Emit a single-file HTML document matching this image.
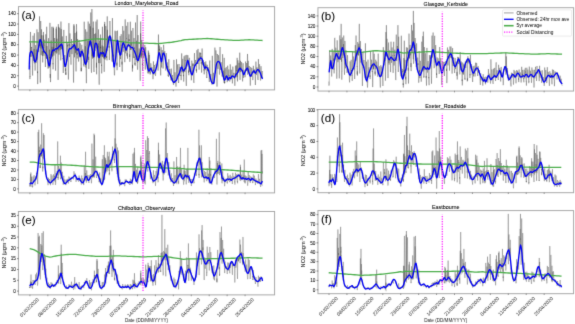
<!DOCTYPE html>
<html><head><meta charset="utf-8"><style>
html,body{margin:0;padding:0;background:#fff;}
body{width:575px;height:324px;overflow:hidden;}
svg{display:block;font-family:"Liberation Sans", sans-serif;}
#w{width:575px;height:324px;}
text{fill:#000;}
.b{stroke:#000;stroke-width:0.06px;}
.t{stroke:#000;stroke-width:0.05px;}
.d{fill:#252525;}
</style></head><body><div id="w">
<svg width="575" height="324" viewBox="0 0 575 324">
<defs><filter id="bl" x="0" y="0" width="575" height="324" filterUnits="userSpaceOnUse" color-interpolation-filters="sRGB"><feConvolveMatrix order="3" kernelMatrix="0.0113 0.0838 0.0113 0.0838 0.6193 0.0838 0.0113 0.0838 0.0113" edgeMode="duplicate"/></filter></defs>
<rect width="575" height="324" fill="#fff"/>
<g filter="url(#bl)">
<polyline points="29.6,67.1 29.7,65.8 29.8,71.7 29.9,79.1 30,76 30.1,76.5 30.2,58.7 30.3,49.6 30.5,42.7 30.6,42.8 30.7,46.4 30.8,56.2 30.9,56.9 31,53.3 31.1,50.8 31.2,50.9 31.3,50.4 31.4,47.5 31.5,48 31.6,47.1 31.7,50.1 31.8,51.6 31.9,54.3 32.1,55.6 32.2,54.9 32.3,62.8 32.4,65.1 32.5,73.4 32.6,75.5 32.7,70.9 32.8,56.2 32.9,44.7 33,35.7 33.1,37.4 33.2,49.6 33.3,57.6 33.4,55.7 33.5,57.3 33.7,60.9 33.8,56.1 33.9,55 34,51.3 34.1,48.9 34.2,53 34.3,53 34.4,58.9 34.5,59.7 34.6,60 34.7,62.1 34.8,64.6 34.9,67.3 35,67.6 35.1,70.6 35.3,67.1 35.4,62.3 35.5,52.3 35.6,45.2 35.7,45.1 35.8,52 35.9,60.2 36,60 36.1,62.9 36.2,59.5 36.3,57.7 36.4,54.1 36.5,51.5 36.6,49.6 36.8,50.4 36.9,51.2 37,55.5 37.1,54.6 37.2,56.6 37.3,64.5 37.4,70.3 37.5,73.1 37.6,71.4 37.7,84.1 37.8,73.2 37.9,55.2 38,39.7 38.1,32.2 38.2,34.3 38.4,45.5 38.5,48.9 38.6,51.8 38.7,46.5 38.8,45.5 38.9,47.7 39,44.4 39.1,42.3 39.2,39.7 39.3,39.6 39.4,40.3 39.5,41.5 39.6,45.9 39.7,43.8 39.8,44.5 40,57.4 40.1,62.1 40.2,68.1 40.3,82.6 40.4,61.2 40.5,42.6 40.6,28.8 40.7,21 40.8,28.2 40.9,37 41,48.5 41.1,43 41.2,54.9 41.3,53.2 41.4,44.2 41.6,41.6 41.7,37.7 41.8,35.2 41.9,38.2 42,41.1 42.1,44 42.2,45.2 42.3,56 42.4,50.8 42.5,54.6 42.6,57.7 42.7,62.4 42.8,59.1 42.9,55.8 43,51.6 43.2,40.3 43.3,35.3 43.4,39 43.5,46 43.6,51.8 43.7,49.8 43.8,55.2 43.9,55.8 44,47.6 44.1,47.8 44.2,46.6 44.3,39.7 44.4,45.2 44.5,45.9 44.6,45.7 44.8,48.8 44.9,51.7 45,53.2 45.1,58.5 45.2,59.5 45.3,64.9 45.4,67 45.5,61 45.6,52.5 45.7,42.1 45.8,34.3 45.9,37.7 46,46.9 46.1,55.8 46.2,55.4 46.4,57.2 46.5,58.8 46.6,56.5 46.7,53.4 46.8,51 46.9,46.1 47,47.2 47.1,52.6 47.2,52.7 47.3,54.8 47.4,56.8 47.5,62 47.6,65.2 47.7,65.7 47.9,66.8 48,68.4 48.1,68.7 48.2,63 48.3,43.8 48.4,40.2 48.5,38.2 48.6,49.4 48.7,60.2 48.8,64.4 48.9,66.6 49,68 49.1,63.1 49.2,63.1 49.3,56.1 49.5,49.6 49.6,55.1 49.7,58.3 49.8,57 49.9,60.3 50,64.4 50.1,63.1 50.2,77.8 50.3,74 50.4,76.5 50.5,82.1 50.6,80.3 50.7,62.9 50.8,53.1 50.9,45.5 51.1,40.5 51.2,50.1 51.3,55.1 51.4,53.9 51.5,58.4 51.6,53.1 51.7,51.7 51.8,52.1 51.9,49.8 52,46.9 52.1,48 52.2,48.4 52.3,50.3 52.4,50.7 52.5,56.4 52.7,53.5 52.8,55.8 52.9,64.2 53,63.3 53.1,69.3 53.2,65.2 53.3,53.9 53.4,44.4 53.5,28.2 53.6,35.7 53.7,49.3 53.8,47.1 53.9,55.6 54,53.7 54.1,50.4 54.3,48.9 54.4,47.8 54.5,43 54.6,38 54.7,38.8 54.8,46.2 54.9,45.8 55,50 55.1,52.5 55.2,50.8 55.3,55.6 55.4,65 55.5,67.4 55.6,70.7 55.7,66.2 55.9,51.1 56,39.3 56.1,28.6 56.2,33.1 56.3,38.4 56.4,46.8 56.5,47.7 56.6,47.9 56.7,53.6 56.8,47.2 56.9,42.5 57,39.4 57.1,38.7 57.2,41.1 57.3,42.7 57.5,47.2 57.6,48.8 57.7,53.8 57.8,59.1 57.9,59.5 58,66.3 58.1,79.9 58.2,71.7 58.3,64.3 58.4,57.5 58.5,31.7 58.6,26.8 58.7,30 58.8,35.2 58.9,43.2 59.1,54.7 59.2,52.1 59.3,49.2 59.4,46 59.5,43.8 59.6,37.7 59.7,27.7 59.8,36.7 59.9,37.1 60,41.2 60.1,49.8 60.2,49.5 60.3,44.5 60.4,50.2 60.6,51.6 60.7,60.3 60.8,60.4 60.9,59.2 61,45.7 61.1,37.4 61.2,29.1 61.3,30.2 61.4,35.1 61.5,41.8 61.6,47.9 61.7,49.4 61.8,43.6 61.9,43.3 62,40.2 62.2,40.6 62.3,36.9 62.4,36.4 62.5,42.3 62.6,47.6 62.7,45.7 62.8,50.1 62.9,59.1 63,58.1 63.1,66.6 63.2,72.3 63.3,73 63.4,66.5 63.5,62.1 63.6,48.3 63.8,29.9 63.9,40 64,56.3 64.1,63.1 64.2,66.8 64.3,67.1 64.4,65.8 64.5,62.9 64.6,59.5 64.7,59.6 64.8,55 64.9,58.7 65,61 65.1,64.8 65.2,66.1 65.4,71.4 65.5,68.3 65.6,68.7 65.7,74.5 65.8,72.4 65.9,75 66,72.1 66.1,63.8 66.2,51.1 66.3,35.9 66.4,38.4 66.5,47.2 66.6,61.9 66.7,59.5 66.8,60.5 67,59.7 67.1,57.9 67.2,54.4 67.3,51.2 67.4,43.2 67.5,46.4 67.6,45.2 67.7,51.9 67.8,55 67.9,56.3 68,60.4 68.1,67.5 68.2,71.4 68.3,73.9 68.4,79.5 68.6,71 68.7,58.5 68.8,34.5 68.9,23.1 69,31.9 69.1,45.8 69.2,44.2 69.3,53.6 69.4,54.1 69.5,57.1 69.6,48 69.7,43.6 69.8,37.9 69.9,33.4 70,34.3 70.2,44.2 70.3,45.5 70.4,51.3 70.5,51.2 70.6,54.7 70.7,56.8 70.8,60.7 70.9,62.2 71,64.7 71.1,60.5 71.2,48.4 71.3,44.4 71.4,40.3 71.5,39.1 71.7,46.7 71.8,46.7 71.9,48.1 72,54.1 72.1,47.2 72.2,46.5 72.3,46.2 72.4,45.2 72.5,43.9 72.6,45.2 72.7,45.4 72.8,45.8 72.9,45.8 73,46.1 73.1,49.7 73.3,58.7 73.4,72 73.5,81.2 73.6,82.6 73.7,72.8 73.8,58 73.9,32.7 74,25.6 74.1,28.7 74.2,38.2 74.3,43.4 74.4,48.3 74.5,57.3 74.6,44.5 74.7,42.6 74.9,42 75,38.3 75.1,32.9 75.2,39.4 75.3,39.3 75.4,45.2 75.5,51.2 75.6,53.2 75.7,47.5 75.8,61 75.9,67.5 76,71.3 76.1,71.4 76.2,65.5 76.3,52.8 76.5,36.4 76.6,31.6 76.7,35.4 76.8,45.7 76.9,47 77,54.8 77.1,52.9 77.2,58.5 77.3,52.9 77.4,48 77.5,43.1 77.6,39.1 77.7,41 77.8,45.6 77.9,46.3 78.1,48.4 78.2,50.7 78.3,48.5 78.4,52.6 78.5,61.4 78.6,61.6 78.7,61.1 78.8,58 78.9,54.1 79,46.9 79.1,41.6 79.2,40.1 79.3,51.1 79.4,52.8 79.5,57.3 79.7,55.8 79.8,53 79.9,55.7 80,50.2 80.1,49 80.2,43.2 80.3,46.6 80.4,52.4 80.5,51.4 80.6,55.1 80.7,59.3 80.8,60.4 80.9,66.7 81,68 81.1,71.3 81.3,67.8 81.4,71.2 81.5,53.1 81.6,46.8 81.7,46 81.8,44.8 81.9,49.1 82,50.7 82.1,56 82.2,56.3 82.3,55.4 82.4,51.4 82.5,51.6 82.6,51 82.7,49.4 82.9,50.7 83,52.6 83.1,53.5 83.2,53.2 83.3,57.7 83.4,57.5 83.5,63.1 83.6,64.8 83.7,64.3 83.8,66.4 83.9,65.1 84,60 84.1,37.2 84.2,21.7 84.4,34.6 84.5,47.9 84.6,63.4 84.7,61 84.8,63.5 84.9,61.5 85,59.8 85.1,59.8 85.2,57.6 85.3,46.2 85.4,54.9 85.5,57 85.6,61 85.7,64.2 85.8,62.8 86,68.9 86.1,71.6 86.2,76.3 86.3,81.7 86.4,83.2 86.5,78.6 86.6,60.7 86.7,46.6 86.8,36.1 86.9,31.7 87,43.8 87.1,58.6 87.2,62.4 87.3,62 87.4,61.2 87.6,54.5 87.7,52.7 87.8,47.1 87.9,41.1 88,40.8 88.1,41.7 88.2,44.2 88.3,48.1 88.4,50.1 88.5,56.5 88.6,60 88.7,56.7 88.8,68.9 88.9,66.7 89,60.9 89.2,45.9 89.3,36.6 89.4,23.7 89.5,28.3 89.6,38 89.7,44.1 89.8,41.6 89.9,42.5 90,41.3 90.1,44.8 90.2,40.7 90.3,32.3 90.4,26.3 90.5,32 90.6,35.6 90.8,42.3 90.9,42.9 91,41.9 91.1,53.9 91.2,65.1 91.3,70.7 91.4,71.7 91.5,72.7 91.6,63.7 91.7,50 91.8,27.9 91.9,9 92,21.7 92.1,37.8 92.2,56.2 92.4,48.8 92.5,58.6 92.6,47.7 92.7,46.4 92.8,46 92.9,40.4 93,27.8 93.1,28.5 93.2,36.5 93.3,50.8 93.4,57.6 93.5,55.8 93.6,57.6 93.7,68.2 93.8,69.5 94,72 94.1,68.9 94.2,66.8 94.3,53.3 94.4,42.5 94.5,33.9 94.6,36.3 94.7,37.8 94.8,44.7 94.9,48.7 95,50.9 95.1,46.1 95.2,42.5 95.3,41.8 95.5,39.6 95.6,33.4 95.7,34.2 95.8,40.9 95.9,43.9 96,44.4 96.1,46.2 96.2,46.9 96.3,58.1 96.4,67.6 96.5,62.7 96.6,74.3 96.7,62.1 96.8,53.9 96.9,36.8 97.1,19.6 97.2,30.1 97.3,34.7 97.4,47.5 97.5,55 97.6,56.6 97.7,53.3 97.8,48.5 97.9,45.9 98,47.6 98.1,43.3 98.2,46.8 98.3,46.7 98.4,53.3 98.5,58.5 98.7,63.1 98.8,58.6 98.9,63.4 99,69 99.1,80.8 99.2,84.7 99.3,70.4 99.4,57.8 99.5,52 99.6,40.6 99.7,44.9 99.8,51.4 99.9,56.3 100,60.4 100.1,63.3 100.3,58.4 100.4,52.6 100.5,46.8 100.6,48.2 100.7,38.9 100.8,45.5 100.9,48.1 101,47.8 101.1,50.1 101.2,55.2 101.3,53.1 101.4,63.9 101.5,65.8 101.6,64.7 101.7,73.4 101.9,67.1 102,54.2 102.1,46.9 102.2,45.4 102.3,47.5 102.4,52.5 102.5,51.1 102.6,56.8 102.7,53.6 102.8,52.5 102.9,53 103,51.9 103.1,47.9 103.2,46.5 103.3,48.7 103.5,49.1 103.6,51.7 103.7,53.4 103.8,58.4 103.9,53 104,68 104.1,70.1 104.2,71.8 104.3,69.5 104.4,66 104.5,60.3 104.6,42.4 104.7,21.9 104.8,28.1 104.9,38.4 105.1,59.5 105.2,54.5 105.3,56.1 105.4,53.3 105.5,47.6 105.6,43.6 105.7,38.3 105.8,26 105.9,30.9 106,33.1 106.1,49.3 106.2,52.5 106.3,48.8 106.4,52.9 106.5,57.9 106.7,55.8 106.8,58.6 106.9,58.7 107,60.4 107.1,53.3 107.2,42.3 107.3,29.8 107.4,31 107.5,41.4 107.6,47.4 107.7,47.1 107.8,46 107.9,44.5 108,42.6 108.2,40.7 108.3,39 108.4,37.9 108.5,36.5 108.6,39.4 108.7,39.3 108.8,40.6 108.9,40 109,47.7 109.1,45.9 109.2,52.7 109.3,59.1 109.4,60 109.5,49.2 109.6,41.3 109.8,32 109.9,21 110,24.3 110.1,29 110.2,41 110.3,39.9 110.4,38.2 110.5,38.5 110.6,37.7 110.7,39.8 110.8,37.9 110.9,36.7 111,38.4 111.1,38.5 111.2,41.5 111.4,42.3 111.5,47.2 111.6,46.3 111.7,49.8 111.8,58.6 111.9,58.7 112,60.5 112.1,61.5 112.2,53.6 112.3,38.3 112.4,18.1 112.5,26.1 112.6,40.1 112.7,52 112.8,59.3 113,62.2 113.1,60.4 113.2,54.6 113.3,56.7 113.4,49.4 113.5,42.6 113.6,41.1 113.7,51.3 113.8,62 113.9,65.7 114,66.4 114.1,69.2 114.2,70.1 114.3,73.5 114.4,75.2 114.6,75.3 114.7,69.7 114.8,66.3 114.9,44.8 115,30.7 115.1,35.7 115.2,44.4 115.3,51.6 115.4,60.9 115.5,61.4 115.6,57.5 115.7,57.6 115.8,55.2 115.9,37 116,32.2 116.2,31.1 116.3,41.8 116.4,39.8 116.5,48.2 116.6,51 116.7,47.8 116.8,65.5 116.9,62.6 117,70.2 117.1,69.9 117.2,68.3 117.3,49.4 117.4,36.2 117.5,30.6 117.6,36.6 117.8,39.9 117.9,41.8 118,43 118.1,52.4 118.2,52.6 118.3,43.8 118.4,43.2 118.5,43.5 118.6,43.1 118.7,42.4 118.8,46.2 118.9,46.5 119,48.9 119.1,49.6 119.3,53.8 119.4,55.2 119.5,58.3 119.6,65.5 119.7,67 119.8,63.6 119.9,55.3 120,43.7 120.1,36.1 120.2,39.5 120.3,45.5 120.4,50.5 120.5,59.1 120.6,55.9 120.7,53.3 120.9,55 121,44.9 121.1,45.4 121.2,34.2 121.3,37.4 121.4,41.2 121.5,46.7 121.6,48.5 121.7,49.1 121.8,53.6 121.9,64.5 122,61.7 122.1,67.1 122.2,71.7 122.3,60.8 122.5,46.6 122.6,34.4 122.7,26.1 122.8,26.7 122.9,41.3 123,47.8 123.1,46.8 123.2,51.8 123.3,46.9 123.4,42.5 123.5,43.1 123.6,34.3 123.7,32.5 123.8,30.7 123.9,35 124.1,40.1 124.2,47.5 124.3,46 124.4,45.3 124.5,48.7 124.6,53.7 124.7,56.2 124.8,62.2 124.9,54.3 125,49.7 125.1,30.3 125.2,19.4 125.3,33.2 125.4,37.9 125.5,43.5 125.7,53.3 125.8,52.3 125.9,49 126,50.9 126.1,39.8 126.2,39.7 126.3,25.8 126.4,36.4 126.5,38.5 126.6,38 126.7,48.7 126.8,50 126.9,52.1 127,55.9 127.1,53.1 127.3,57.1 127.4,56.7 127.5,58.7 127.6,46.7 127.7,38.7 127.8,22.2 127.9,25.5 128,40.2 128.1,41.1 128.2,46.3 128.3,46.6 128.4,44.1 128.5,46.3 128.6,38.7 128.7,37.4 128.9,34.3 129,34.4 129.1,41 129.2,39.2 129.3,44 129.4,47.2 129.5,47 129.6,57 129.7,54.3 129.8,61.8 129.9,60.5 130,54.9 130.1,48.8 130.2,30.5 130.3,21.7 130.5,31.6 130.6,45 130.7,49.6 130.8,47.7 130.9,50 131,48.7 131.1,42.7 131.2,45.7 131.3,40.3 131.4,30.7 131.5,38.8 131.6,43.6 131.7,43.9 131.8,49 132,49.3 132.1,55.2 132.2,57.2 132.3,63.4 132.4,71.6 132.5,64.9 132.6,68.3 132.7,56.2 132.8,42.4 132.9,28 133,29.8 133.1,40.3 133.2,50 133.3,54 133.4,58.1 133.6,50.2 133.7,48.1 133.8,47.2 133.9,41.9 134,38.4 134.1,38 134.2,43.2 134.3,48.9 134.4,47.5 134.5,57.7 134.6,57.2 134.7,56.7 134.8,64.6 134.9,63.9 135,62.8 135.2,65.7 135.3,57.7 135.4,36.2 135.5,22.5 135.6,26.9 135.7,40.2 135.8,56.9 135.9,57.6 136,58.7 136.1,60 136.2,51 136.3,48.8 136.4,44.6 136.5,44.2 136.6,40.8 136.8,47 136.9,53.1 137,54.5 137.1,59.5 137.2,63.8 137.3,65.9 137.4,66.1 137.5,69.1 137.6,69.7 137.7,68.4 137.8,63.9 137.9,46.6 138,35.1 138.1,35.5 138.2,51.4 138.4,60.5 138.5,59.3 138.6,58 138.7,61.3 138.8,55.6 138.9,57.5 139,53.4 139.1,49.4 139.2,48.5 139.3,49.9 139.4,52.3 139.5,55.6 139.6,54 139.7,58.6 139.8,65.4 140,70.8 140.1,71.6 140.2,80.8 140.3,69.9 140.4,55.2 140.5,39.2 140.6,33.4 140.7,34.1 140.8,44.8 140.9,53.4 141,57.1 141.1,52.6 141.2,58.3 141.3,47 141.4,48.2 141.6,45.8 141.7,41.9 141.8,40.1 141.9,44.9 142,47.4 142.1,52 142.2,55.8 142.3,50 142.4,65.2 142.5,63.6 142.6,71 142.7,67.8 142.8,62.9 142.9,47.7 143,46.8 143.2,43.5 143.3,44.5 143.4,46.8 143.5,54 143.6,55.5 143.7,58.1 143.8,58.2 143.9,49.8 144,49.6 144.1,49.3 144.2,48.3 144.3,49.4 144.4,51 144.5,52.2 144.7,55.2 144.8,52.9 144.9,59.6 145,62.4 145.1,65.4 145.2,65.5 145.3,69.6 145.4,67.5 145.5,55.1 145.6,52 145.7,47.2 145.8,50.4 145.9,57.4 146,59.2 146.1,61.1 146.3,60.1 146.4,63 146.5,60.4 146.6,60.5 146.7,60.6 146.8,58.4 146.9,61.2 147,61.5 147.1,64.1 147.2,67.3 147.3,68.5 147.4,67.3 147.5,69.3 147.6,70.1 147.7,73.1 147.9,73.4 148,73.3 148.1,69.6 148.2,63.7 148.3,50.6 148.4,59 148.5,67.5 148.6,68.5 148.7,70.7 148.8,72 148.9,70.5 149,71 149.1,64.4 149.2,61 149.3,54.9 149.5,58.6 149.6,64.5 149.7,66.7 149.8,69.4 149.9,67.8 150,71.4 150.1,72.7 150.2,71.8 150.3,73.8 150.4,74.4 150.5,71.8 150.6,70.1 150.7,65.9 150.8,63.3 150.9,64 151.1,66.8 151.2,68.8 151.3,70.4 151.4,70.9 151.5,71.3 151.6,68.9 151.7,68.6 151.8,67.4 151.9,67.1 152,67.6 152.1,68.4 152.2,69.9 152.3,72 152.4,72.1 152.5,73.6 152.7,74.4 152.8,75.3 152.9,78.5 153,79.2 153.1,78.1 153.2,74.8 153.3,66.1 153.4,61.4 153.5,63 153.6,71 153.7,69.6 153.8,72.7 153.9,74.6 154,71.8 154.1,73.1 154.3,70.9 154.4,67 154.5,65 154.6,66.3 154.7,68.9 154.8,70.7 154.9,70.4 155,72.6 155.1,72.5 155.2,73 155.3,74.3 155.4,75.8 155.5,75.8 155.6,74.9 155.8,72 155.9,66.5 156,64 156.1,63.7 156.2,65.5 156.3,68 156.4,67.7 156.5,67.1 156.6,67.4 156.7,66.3 156.8,64.5 156.9,63 157,61.5 157.1,61.8 157.2,61.7 157.4,61.8 157.5,61.7 157.6,61.9 157.7,63.4 157.8,64.1 157.9,66 158,68.1 158.1,70.6 158.2,66.6 158.3,58.8 158.4,48.5 158.5,43.2 158.6,43.7 158.7,47.9 158.8,55.7 159,53.8 159.1,53.3 159.2,54.6 159.3,52.1 159.4,48.8 159.5,50.6 159.6,45.5 159.7,49.2 159.8,49.5 159.9,50.9 160,54.7 160.1,58.9 160.2,59.7 160.3,64 160.4,66.1 160.6,72.4 160.7,75.4 160.8,68.1 160.9,64.7 161,51.5 161.1,47.2 161.2,47.8 161.3,59.2 161.4,57.9 161.5,64.4 161.6,67.5 161.7,64.2 161.8,59.7 161.9,59 162,54.1 162.2,50.1 162.3,50 162.4,53.3 162.5,54.7 162.6,56.2 162.7,54.4 162.8,55 162.9,61.4 163,65.2 163.1,68.5 163.2,65.5 163.3,62.6 163.4,55.7 163.5,49.7 163.6,44.8 163.8,48.1 163.9,49.3 164,54.9 164.1,54.4 164.2,54 164.3,54.2 164.4,54.4 164.5,54.2 164.6,52.3 164.7,51.7 164.8,51.2 164.9,54.6 165,54.7 165.1,57.9 165.2,59.7 165.4,62.6 165.5,62.7 165.6,66.8 165.7,69.2 165.8,70.5 165.9,68.8 166,64.8 166.1,57.7 166.2,53.1 166.3,57.1 166.4,59.8 166.5,63.7 166.6,68.6 166.7,66.3 166.8,66.3 167,65.9 167.1,67 167.2,63.7 167.3,62.4 167.4,65.8 167.5,67.9 167.6,66.6 167.7,68.9 167.8,71.5 167.9,70.7 168,73.8 168.1,75.7 168.2,74.9 168.3,76.1 168.5,76.9 168.6,71.6 168.7,65.6 168.8,59.3 168.9,62.4 169,66.9 169.1,71.1 169.2,72.6 169.3,74.8 169.4,73.3 169.5,73 169.6,71.9 169.7,71.5 169.8,69 169.9,70.8 170.1,72.9 170.2,74.1 170.3,75.6 170.4,75.7 170.5,76.2 170.6,77.4 170.7,78.2 170.8,78.5 170.9,80.3 171,78.8 171.1,77.9 171.2,73 171.3,68.6 171.4,69.8 171.5,76.4 171.7,78.8 171.8,78.3 171.9,80.2 172,79.5 172.1,78.9 172.2,79.6 172.3,76.9 172.4,75 172.5,75.7 172.6,78.9 172.7,78.5 172.8,80.8 172.9,81.6 173,81.9 173.1,83.3 173.3,83.3 173.4,84.7 173.5,84.9 173.6,84.4 173.7,82.4 173.8,74 173.9,59.9 174,64.8 174.1,74.8 174.2,78.5 174.3,82.8 174.4,82 174.5,82.4 174.6,81.1 174.7,80.3 174.9,77.1 175,72.3 175.1,74.9 175.2,76.5 175.3,79.6 175.4,81 175.5,81.4 175.6,83.1 175.7,82.8 175.8,83.3 175.9,85.2 176,86.6 176.1,85.1 176.2,82.6 176.3,74.2 176.5,59.3 176.6,65.3 176.7,73.2 176.8,76.9 176.9,77.8 177,79.2 177.1,78.6 177.2,76.2 177.3,73.1 177.4,69.9 177.5,64.4 177.6,69.1 177.7,69.7 177.8,72.9 177.9,73.2 178.1,77 178.2,75.4 178.3,79.3 178.4,82.4 178.5,81.9 178.6,82.8 178.7,81.8 178.8,77.3 178.9,69.9 179,64 179.1,66.3 179.2,70.6 179.3,72.2 179.4,72.3 179.6,75.9 179.7,72.6 179.8,72.9 179.9,71 180,68.6 180.1,67.3 180.2,67.1 180.3,68.5 180.4,69.6 180.5,69.3 180.6,69.3 180.7,71.5 180.8,76 180.9,75 181,79.1 181.2,80.2 181.3,78.6 181.4,72.3 181.5,59.7 181.6,56.6 181.7,53.4 181.8,65.7 181.9,64.8 182,70.5 182.1,71.9 182.2,68.1 182.3,68.9 182.4,64 182.5,64 182.6,60.4 182.8,58.8 182.9,63 183,64.8 183.1,68.3 183.2,73.3 183.3,70.3 183.4,76.2 183.5,74.7 183.6,77.5 183.7,81.6 183.8,79.6 183.9,71.1 184,58.6 184.1,56.3 184.2,57.6 184.4,62.5 184.5,71 184.6,68.3 184.7,70.7 184.8,72 184.9,68.6 185,64.7 185.1,61.7 185.2,55.2 185.3,60.9 185.4,60.4 185.5,65.5 185.6,66.1 185.7,67.7 185.8,67.2 186,72.9 186.1,77.6 186.2,82.7 186.3,85.9 186.4,74.5 186.5,66.4 186.6,57.7 186.7,54.9 186.8,55.2 186.9,58 187,61.4 187.1,63.5 187.2,66.5 187.3,64.3 187.4,60.2 187.6,60.2 187.7,57.5 187.8,55.2 187.9,55.2 188,57.4 188.1,60.2 188.2,64.1 188.3,64.9 188.4,62.6 188.5,72.7 188.6,70.5 188.7,73.8 188.8,75.2 188.9,74.9 189,69.3 189.2,60.8 189.3,57.8 189.4,60.1 189.5,63.2 189.6,68.2 189.7,71.8 189.8,69.7 189.9,68.3 190,69.6 190.1,67.4 190.2,66 190.3,66.2 190.4,66.7 190.5,68.3 190.6,70 190.8,72.3 190.9,74.3 191,75 191.1,75 191.2,76.8 191.3,80.3 191.4,80.1 191.5,78 191.6,74.3 191.7,67.3 191.8,60.6 191.9,62.4 192,72.1 192.1,75 192.3,75.5 192.4,73.9 192.5,74.5 192.6,71.7 192.7,70.1 192.8,66 192.9,63.4 193,66 193.1,63.8 193.2,69 193.3,71.8 193.4,70.5 193.5,73.7 193.6,75.9 193.7,81 193.9,82.9 194,77.9 194.1,75.7 194.2,70.3 194.3,59.6 194.4,54.1 194.5,53.1 194.6,62.7 194.7,63 194.8,65.9 194.9,65.8 195,64.9 195.1,65.7 195.2,64.8 195.3,62.4 195.5,60 195.6,61.2 195.7,62.8 195.8,62.4 195.9,62.5 196,64.9 196.1,65.1 196.2,68.3 196.3,70.9 196.4,69 196.5,72.6 196.6,69.6 196.7,64.3 196.8,54.5 196.9,50.2 197.1,54 197.2,59.4 197.3,63.8 197.4,60.9 197.5,61 197.6,63.7 197.7,62.6 197.8,59.6 197.9,55.9 198,48.9 198.1,50.7 198.2,53.8 198.3,59.6 198.4,57.8 198.5,59.6 198.7,63.5 198.8,63.3 198.9,64.2 199,67.1 199.1,69.7 199.2,66.4 199.3,60.1 199.4,57.1 199.5,52.5 199.6,54.1 199.7,58.2 199.8,59 199.9,61.2 200,61.2 200.1,61.1 200.3,57.2 200.4,58 200.5,53.6 200.6,52.6 200.7,54.3 200.8,53.3 200.9,56.9 201,55.9 201.1,57.2 201.2,63.7 201.3,62.2 201.4,65.6 201.5,69.9 201.6,72.6 201.7,70.8 201.9,59.4 202,54.1 202.1,48.5 202.2,53.1 202.3,58.1 202.4,63.1 202.5,60.5 202.6,62.7 202.7,65.2 202.8,60.7 202.9,61.5 203,60.5 203.1,59.9 203.2,60.9 203.4,61.4 203.5,63.5 203.6,65.6 203.7,65.8 203.8,65.1 203.9,70.5 204,69.3 204.1,71.7 204.2,74.3 204.3,72.3 204.4,69.3 204.5,65.1 204.6,62.3 204.7,63.4 204.8,64.6 205,66.4 205.1,67.3 205.2,70.1 205.3,69.1 205.4,65.9 205.5,67 205.6,63.5 205.7,62.3 205.8,61.4 205.9,65.6 206,64.5 206.1,66.9 206.2,68.7 206.3,70.8 206.4,72.7 206.6,72.4 206.7,78 206.8,77.3 206.9,77.6 207,71.5 207.1,66.1 207.2,64.8 207.3,66.2 207.4,68.1 207.5,70.6 207.6,69.3 207.7,70.5 207.8,71.4 207.9,69.9 208,68.8 208.2,68.2 208.3,67.3 208.4,68.3 208.5,69.7 208.6,70.5 208.7,70.5 208.8,72.4 208.9,73.8 209,74.5 209.1,76.2 209.2,79.3 209.3,82 209.4,78.1 209.5,75.9 209.6,63.4 209.8,60.5 209.9,64.9 210,68.3 210.1,77 210.2,78.8 210.3,78.9 210.4,78.2 210.5,79.3 210.6,77 210.7,75.9 210.8,73.9 210.9,76.6 211,77 211.1,78.3 211.2,79.6 211.4,82.3 211.5,82.6 211.6,82.5 211.7,83 211.8,84.2 211.9,84.6 212,84.3 212.1,83 212.2,77 212.3,55.8 212.4,68.5 212.5,80.1 212.6,83.7 212.7,83.7 212.8,83 213,83.8 213.1,83.2 213.2,78.2 213.3,77.6 213.4,73.9 213.5,72.8 213.6,76.3 213.7,78.9 213.8,80.1 213.9,82.4 214,82.8 214.1,82.6 214.2,82.8 214.3,83.5 214.4,83.6 214.6,81.3 214.7,78.3 214.8,63.1 214.9,47.6 215,59.8 215.1,65.7 215.2,69.9 215.3,73.3 215.4,71.1 215.5,68.6 215.6,69.1 215.7,64.7 215.8,55.3 215.9,50.4 216.1,54.2 216.2,53.9 216.3,57.9 216.4,64.3 216.5,65 216.6,64.9 216.7,69.5 216.8,74.2 216.9,77.6 217,86.6 217.1,78.5 217.2,62.4 217.3,55.7 217.4,54 217.5,54.9 217.7,58.4 217.8,63.1 217.9,63.4 218,68.9 218.1,64.4 218.2,61.2 218.3,61.4 218.4,59.5 218.5,55.2 218.6,56.8 218.7,57.9 218.8,59.8 218.9,60.4 219,61.1 219.1,66.3 219.3,67.8 219.4,73.4 219.5,74.5 219.6,73.5 219.7,73.1 219.8,67.7 219.9,55.1 220,47.8 220.1,47 220.2,61 220.3,65.7 220.4,65.2 220.5,69.9 220.6,66.4 220.7,64.4 220.9,64.9 221,64.4 221.1,62.2 221.2,63.5 221.3,66.6 221.4,68.1 221.5,70.3 221.6,71.6 221.7,71.9 221.8,72.7 221.9,73.4 222,75.4 222.1,76.4 222.2,75.6 222.3,74.2 222.5,61.1 222.6,54.2 222.7,57.7 222.8,67.3 222.9,74.7 223,76 223.1,76.9 223.2,77.1 223.3,75.4 223.4,74.6 223.5,71.3 223.6,70.7 223.7,71.4 223.8,72.2 223.9,77.4 224.1,78.2 224.2,80.1 224.3,80 224.4,82.1 224.5,82.9 224.6,82.1 224.7,83.1 224.8,83 224.9,80.1 225,74.5 225.1,68.2 225.2,73 225.3,77.2 225.4,76.4 225.5,78.3 225.7,79.4 225.8,78.7 225.9,77.6 226,74.3 226.1,71.7 226.2,67.1 226.3,68.7 226.4,72.4 226.5,72.9 226.6,74.4 226.7,75.4 226.8,76.1 226.9,79.5 227,79.1 227.2,82.2 227.3,81.3 227.4,81.1 227.5,79 227.6,69.2 227.7,65.7 227.8,69.5 227.9,73.8 228,77.3 228.1,80 228.2,80.5 228.3,79.9 228.4,78.4 228.5,75 228.6,73.9 228.8,69.4 228.9,70.3 229,73.8 229.1,75.9 229.2,75.3 229.3,76.3 229.4,78.3 229.5,79.6 229.6,79.6 229.7,80.3 229.8,81.5 229.9,79.7 230,78.9 230.1,70.1 230.2,64.3 230.4,66.1 230.5,76.6 230.6,78.6 230.7,77.9 230.8,79.6 230.9,79.2 231,77.1 231.1,75.7 231.2,72.1 231.3,69.7 231.4,71.6 231.5,71.8 231.6,74.6 231.7,75.7 231.8,75.9 232,77.7 232.1,77.7 232.2,79.8 232.3,81.5 232.4,83.4 232.5,81.4 232.6,77.8 232.7,71.3 232.8,66.6 232.9,67.1 233,71.4 233.1,76.5 233.2,77.3 233.3,77.1 233.4,75.9 233.6,76.6 233.7,75.2 233.8,73.2 233.9,72.9 234,73.5 234.1,73.4 234.2,74.8 234.3,76.6 234.4,78.7 234.5,76.8 234.6,79.7 234.7,83.1 234.8,85.7 234.9,85.8 235,83 235.2,77.8 235.3,72 235.4,66.2 235.5,65.7 235.6,71.3 235.7,75.6 235.8,73.6 235.9,75.3 236,77.3 236.1,74 236.2,70.8 236.3,70.2 236.4,65.3 236.5,69.6 236.6,70.7 236.8,70 236.9,72.5 237,73.3 237.1,76.3 237.2,77.2 237.3,79.3 237.4,78.8 237.5,81.4 237.6,80.1 237.7,75.8 237.8,68.7 237.9,60.3 238,65.5 238.1,70.4 238.2,72.7 238.4,71.8 238.5,70.7 238.6,71 238.7,68.8 238.8,69.6 238.9,67.7 239,62.8 239.1,65.2 239.2,65.6 239.3,67.7 239.4,69.4 239.5,70.1 239.6,71.2 239.7,73.6 239.9,76 240,79.9 240.1,76.7 240.2,76.4 240.3,68.5 240.4,65.2 240.5,60.8 240.6,63.9 240.7,68.6 240.8,67.6 240.9,68.9 241,72 241.1,69 241.2,68 241.3,68.5 241.5,65.7 241.6,62.1 241.7,65 241.8,65.5 241.9,69.2 242,70.2 242.1,70.2 242.2,72.6 242.3,74 242.4,78.6 242.5,81.1 242.6,81.4 242.7,80.7 242.8,72 242.9,68.9 243.1,63.2 243.2,67.5 243.3,70.6 243.4,74.5 243.5,75.6 243.6,77.9 243.7,77.2 243.8,73.2 243.9,73.1 244,71.8 244.1,69.8 244.2,70.3 244.3,71.6 244.4,72.8 244.5,72 244.7,73.8 244.8,74.3 244.9,74.2 245,77.1 245.1,77.2 245.2,76.4 245.3,75.1 245.4,73.3 245.5,67.4 245.6,61.5 245.7,64.4 245.8,65.9 245.9,70.9 246,69.1 246.1,70.5 246.3,70.9 246.4,68.9 246.5,68.6 246.6,65 246.7,63.8 246.8,63 246.9,65.6 247,67.3 247.1,68.8 247.2,68.5 247.3,69.5 247.4,70.9 247.5,72.7 247.6,72.8 247.7,74.7 247.9,73.2 248,70.5 248.1,65.8 248.2,60.8 248.3,64.6 248.4,69.5 248.5,69.4 248.6,72.5 248.7,72.2 248.8,73.7 248.9,71.4 249,70.9 249.1,68.1 249.2,66 249.3,68.9 249.5,70.7 249.6,73 249.7,75.2 249.8,74.5 249.9,75.9 250,78.3 250.1,80.5 250.2,85.4 250.3,85.6 250.4,84.8 250.5,76.6 250.6,70.2 250.7,67 250.8,68.4 251,71.7 251.1,74.2 251.2,76.9 251.3,74.7 251.4,76.3 251.5,73.7 251.6,73.6 251.7,72.1 251.8,68 251.9,69.2 252,70.5 252.1,72.9 252.2,74.2 252.3,74.8 252.4,75.9 252.6,76.9 252.7,77 252.8,80.1 252.9,78.3 253,77.7 253.1,72.4 253.2,69.4 253.3,65.8 253.4,66.1 253.5,70 253.6,73.1 253.7,70.9 253.8,71.1 253.9,72.4 254,71.9 254.2,69.8 254.3,69.5 254.4,69.3 254.5,69.8 254.6,71.1 254.7,70.9 254.8,72.7 254.9,72.2 255,75.3 255.1,76.7 255.2,78.5 255.3,83.3 255.4,85 255.5,78.6 255.6,75 255.8,65.5 255.9,61.6 256,63.1 256.1,67.3 256.2,71 256.3,72.6 256.4,74.9 256.5,71 256.6,70.6 256.7,69.6 256.8,67.8 256.9,67.7 257,67.2 257.1,69.3 257.2,68.8 257.4,69.2 257.5,71.6 257.6,71.6 257.7,76 257.8,78.8 257.9,79.2 258,80 258.1,79.2 258.2,72.8 258.3,66.8 258.4,59.1 258.5,61.4 258.6,68.6 258.7,71.7 258.8,71.4 259,72.4 259.1,69.7 259.2,70.6 259.3,69.2 259.4,64.3 259.5,64.2 259.6,64.3 259.7,68.2 259.8,68 259.9,71.2 260,71.8 260.1,74.1 260.2,75.2 260.3,76.5 260.4,80.2 260.6,80.5 260.7,79.4 260.8,76.4 260.9,71.9 261,66.2 261.1,68.9 261.2,71.6 261.3,76 261.4,78 261.5,78 261.6,77.6 261.7,76.9 261.8,76.5 261.9,75 262,72.8 262.2,71 262.3,74.2 262.4,78 262.5,77.5 262.6,77.8" fill="none" stroke="#383838" stroke-width="0.35" stroke-linejoin="miter" stroke-miterlimit="2"/>
<polyline points="30.08,55.93 30.48,31.93 30.88,56.93" fill="none" stroke="#383838" stroke-width="0.35"/>
<polyline points="33.97,62.67 34.37,33.22 34.77,63.67" fill="none" stroke="#383838" stroke-width="0.35"/>
<polyline points="36.56,59.04 36.96,29.33 37.36,60.04" fill="none" stroke="#383838" stroke-width="0.35"/>
<polyline points="39.16,45.3 39.56,16.37 39.96,46.3" fill="none" stroke="#383838" stroke-width="0.35"/>
<polyline points="41.1,45.81 41.5,29.33 41.9,46.81" fill="none" stroke="#383838" stroke-width="0.35"/>
<polyline points="43.04,52.81 43.44,31.93 43.84,53.81" fill="none" stroke="#383838" stroke-width="0.35"/>
<polyline points="46.29,58.04 46.69,26.74 47.09,59.04" fill="none" stroke="#383838" stroke-width="0.35"/>
<polyline points="49.53,65.73 49.93,22.85 50.33,66.73" fill="none" stroke="#383838" stroke-width="0.35"/>
<polyline points="51.47,55.8 51.87,26.74 52.27,56.8" fill="none" stroke="#383838" stroke-width="0.35"/>
<polyline points="52.77,53.23 53.17,26.74 53.57,54.23" fill="none" stroke="#383838" stroke-width="0.35"/>
<polyline points="56.01,51.78 56.41,26.74 56.81,52.78" fill="none" stroke="#383838" stroke-width="0.35"/>
<polyline points="57.95,50.35 58.35,24.15 58.75,51.35" fill="none" stroke="#383838" stroke-width="0.35"/>
<polyline points="60.54,47.89 60.94,21.56 61.34,48.89" fill="none" stroke="#383838" stroke-width="0.35"/>
<polyline points="73.51,48.54 73.91,24.15 74.31,49.54" fill="none" stroke="#383838" stroke-width="0.35"/>
<polyline points="76.1,52.43 76.5,24.15 76.9,53.43" fill="none" stroke="#383838" stroke-width="0.35"/>
<polyline points="85.17,66.94 85.57,29.33 85.97,67.94" fill="none" stroke="#383838" stroke-width="0.35"/>
<polyline points="87.77,52.81 88.17,21.56 88.57,53.81" fill="none" stroke="#383838" stroke-width="0.35"/>
<polyline points="90.36,45.94 90.76,12.48 91.16,46.94" fill="none" stroke="#383838" stroke-width="0.35"/>
<polyline points="92.95,56.96 93.35,21.56 93.75,57.96" fill="none" stroke="#383838" stroke-width="0.35"/>
<polyline points="95.54,47.63 95.94,21.56 96.34,48.63" fill="none" stroke="#383838" stroke-width="0.35"/>
<polyline points="98.14,58.11 98.54,29.33 98.94,59.11" fill="none" stroke="#383838" stroke-width="0.35"/>
<polyline points="100.08,55.84 100.48,34.52 100.88,56.84" fill="none" stroke="#383838" stroke-width="0.35"/>
<polyline points="102.03,56.3 102.43,26.74 102.83,57.3" fill="none" stroke="#383838" stroke-width="0.35"/>
<polyline points="104.1,58.4 104.5,24.15 104.9,59.4" fill="none" stroke="#383838" stroke-width="0.35"/>
<polyline points="106.84,50.27 107.24,16.37 107.64,51.27" fill="none" stroke="#383838" stroke-width="0.35"/>
<polyline points="136.79,61.89 137.19,15.07 137.59,62.89" fill="none" stroke="#383838" stroke-width="0.35"/>
<polyline points="140.29,54.5 140.69,21.56 141.09,55.5" fill="none" stroke="#383838" stroke-width="0.35"/>
<polyline points="144.43,56.31 144.83,44.89 145.23,57.31" fill="none" stroke="#383838" stroke-width="0.35"/>
<polyline points="148.45,73.3 148.85,52.67 149.25,74.3" fill="none" stroke="#383838" stroke-width="0.35"/>
<polyline points="158.04,58.26 158.44,34.52 158.84,59.26" fill="none" stroke="#383838" stroke-width="0.35"/>
<polyline points="223.79,82.89 224.19,57.85 224.59,83.89" fill="none" stroke="#383838" stroke-width="0.35"/>
<polyline points="236.75,76.41 237.15,57.85 237.55,77.41" fill="none" stroke="#383838" stroke-width="0.35"/>
<polyline points="239.34,71.22 239.74,52.67 240.14,72.22" fill="none" stroke="#383838" stroke-width="0.35"/>
<polyline points="247.12,71.22 247.52,53.96 247.92,72.22" fill="none" stroke="#383838" stroke-width="0.35"/>
<polyline points="29.19,41.78 31.19,41.83 33.19,41.88 35.19,41.93 37.19,41.98 39.19,42.03 41.19,42.08 43.19,42.13 45.19,42.18 47.19,42.23 49.19,42.28 51.19,42.3 53.19,42.3 55.19,42.3 57.19,42.3 59.19,42.3 61.19,42.3 63.19,42.3 65.19,42.3 67.19,42.3 69.19,42.3 71.19,42.22 73.19,41.94 75.19,41.66 77.19,41.38 79.19,41.1 81.19,40.82 83.19,40.54 85.19,40.25 87.19,39.95 89.19,39.65 91.19,39.35 93.19,39.05 95.19,38.94 97.19,38.96 99.19,38.98 101.19,39.01 103.19,39.03 105.19,39.05 107.19,39.34 109.19,39.68 111.19,40.02 113.19,40.36 115.19,40.7 117.19,41.03 119.19,41.31 121.19,41.59 123.19,41.87 125.19,42.15 127.19,42.43 129.19,42.71 131.19,42.84 133.19,42.88 135.19,42.92 137.19,42.96 139.19,43 141.19,43.04 143.19,43.08 145.19,43.15 147.19,43.22 149.19,43.28 151.19,43.35 153.19,43.42 155.19,43.48 157.19,43.55 159.19,43.52 161.19,43.32 163.19,43.12 165.19,42.92 167.19,42.72 169.19,42.52 171.19,42.32 173.19,41.99 175.19,41.64 177.19,41.29 179.19,40.94 181.19,40.59 183.19,39.99 185.19,39.64 187.19,39.54 189.19,39.44 191.19,39.34 193.19,39.24 195.19,39.14 197.19,39.02 199.19,38.9 201.19,38.78 203.19,38.66 205.19,38.54 207.19,38.42 209.19,38.56 211.19,38.73 213.19,38.9 215.19,39.06 217.19,39.23 219.19,39.4 221.19,39.56 223.19,39.72 225.19,39.84 227.19,39.96 229.19,40.08 231.19,40.2 233.19,40.32 235.19,40.44 237.19,40.4 239.19,40.28 241.19,40.16 243.19,40.04 245.19,39.92 247.19,39.8 249.19,39.72 251.19,39.84 253.19,39.95 255.19,40.06 257.19,40.18 259.19,40.29 261.19,40.4 262.56,40.48" fill="none" stroke="#4cae4c" stroke-width="1.3"/>
<path d="M29.19,69.52 C29.27,67.14 29.4,58.28 29.7,55.26 C30.01,52.23 30.57,51.8 31,51.37 C31.43,50.94 31.86,51.8 32.3,52.67 C32.73,53.53 33.16,55.04 33.59,56.56 C34.02,58.07 34.41,61.31 34.89,61.74 C35.36,62.17 35.97,60.88 36.44,59.15 C36.92,57.42 37.31,53.75 37.74,51.37 C38.17,48.99 38.65,46.83 39.04,44.89 C39.43,42.94 39.69,40.14 40.07,39.7 C40.46,39.27 40.94,41 41.37,42.3 C41.8,43.59 42.23,45.97 42.67,47.48 C43.1,48.99 43.53,50.51 43.96,51.37 C44.4,52.23 44.78,52.02 45.26,52.67 C45.73,53.31 46.38,53.96 46.81,55.26 C47.25,56.56 47.46,58.63 47.85,60.44 C48.24,62.26 48.72,66.15 49.15,66.15 C49.58,66.15 50.06,62.48 50.44,60.44 C50.83,58.41 51.09,55.69 51.48,53.96 C51.87,52.23 52.35,50.64 52.78,50.07 C53.21,49.51 53.6,50.81 54.07,50.59 C54.55,50.38 55.15,49.08 55.63,48.78 C56.1,48.48 56.49,48.99 56.93,48.78 C57.36,48.56 57.79,47.91 58.22,47.48 C58.65,47.05 59.09,46.62 59.52,46.19 C59.95,45.75 60.38,45.1 60.81,44.89 C61.25,44.67 61.68,43.16 62.11,44.89 C62.54,46.62 62.98,52.02 63.41,55.26 C63.84,58.5 64.36,62.52 64.7,64.33 C65.05,66.15 65.14,66.8 65.48,66.15 C65.83,65.5 66.35,62.69 66.78,60.44 C67.21,58.2 67.64,54.61 68.07,52.67 C68.51,50.72 68.94,49.43 69.37,48.78 C69.8,48.13 70.23,48.99 70.67,48.78 C71.1,48.56 71.53,47.91 71.96,47.48 C72.4,47.05 72.83,46.62 73.26,46.19 C73.69,45.75 74.12,44.46 74.56,44.89 C74.99,45.32 75.42,47.91 75.85,48.78 C76.28,49.64 76.72,50.07 77.15,50.07 C77.58,50.07 78.1,48.35 78.44,48.78 C78.79,49.21 78.88,51.37 79.22,52.67 C79.57,53.96 80.13,56.77 80.52,56.56 C80.91,56.34 81.12,51.8 81.56,51.37 C81.99,50.94 82.64,52.45 83.11,53.96 C83.59,55.48 83.98,58.72 84.41,60.44 C84.84,62.17 85.27,64.55 85.7,64.33 C86.14,64.12 86.57,61.74 87,59.15 C87.43,56.56 87.91,51.15 88.3,48.78 C88.69,46.4 88.99,46.19 89.33,44.89 C89.68,43.59 90.02,40.78 90.37,41 C90.72,41.22 91.02,44.46 91.41,46.19 C91.8,47.91 92.27,49.64 92.7,51.37 C93.14,53.1 93.62,57.73 94,56.56 C94.38,55.38 94.5,46.23 95,44.3 C95.5,42.37 96.35,42.8 97,45 C97.65,47.2 98.33,56.2 98.9,57.5 C99.47,58.8 99.88,53.47 100.4,52.8 C100.92,52.13 101.48,53.5 102,53.5 C102.52,53.5 103,52.27 103.5,52.8 C104,53.33 104.35,57.73 105,56.7 C105.65,55.67 106.57,50.08 107.4,46.6 C108.23,43.12 109.23,35.53 110,35.8 C110.77,36.07 111.42,43.83 112,48.2 C112.58,52.57 113.12,58.92 113.5,62 C113.88,65.08 113.9,67.7 114.3,66.7 C114.7,65.7 115.38,60.37 115.9,56 C116.42,51.63 116.88,41.55 117.4,40.5 C117.92,39.45 118.48,47.28 119,49.7 C119.52,52.12 119.87,56.03 120.5,55 C121.13,53.97 122.15,45.17 122.8,43.5 C123.45,41.83 123.86,43.9 124.4,45 C124.94,46.1 125.55,49.88 126.04,50.07 C126.53,50.27 126.9,47.05 127.33,46.19 C127.77,45.32 128.2,44.89 128.63,44.89 C129.06,44.89 129.49,45.75 129.93,46.19 C130.36,46.62 130.79,47.27 131.22,47.48 C131.65,47.7 132.09,47.05 132.52,47.48 C132.95,47.91 133.38,49.21 133.81,50.07 C134.25,50.94 134.68,51.59 135.11,52.67 C135.54,53.75 135.98,55.26 136.41,56.56 C136.84,57.85 137.27,60.23 137.7,60.44 C138.14,60.66 138.57,59.15 139,57.85 C139.43,56.56 139.86,54.18 140.3,52.67 C140.73,51.15 141.16,49.64 141.59,48.78 C142.02,47.91 142.46,47.05 142.89,47.48 C143.32,47.91 143.75,50.07 144.19,51.37 C144.62,52.67 145.05,53.31 145.48,55.26 C145.91,57.2 146.35,60.66 146.78,63.04 C147.21,65.41 147.64,68.22 148.07,69.52 C148.51,70.81 148.94,71.03 149.37,70.81 C149.8,70.6 150.23,68.22 150.67,68.22 C151.1,68.22 151.53,69.95 151.96,70.81 C152.4,71.68 152.83,73.19 153.26,73.41 C153.69,73.62 154.12,72.76 154.56,72.11 C154.99,71.46 155.42,70.81 155.85,69.52 C156.28,68.22 156.72,66.71 157.15,64.33 C157.58,61.96 158.1,57.2 158.44,55.26 C158.79,53.31 158.92,52.45 159.22,52.67 C159.52,52.88 159.87,55.04 160.26,56.56 C160.65,58.07 161.12,62.17 161.56,61.74 C161.99,61.31 162.42,55.26 162.85,53.96 C163.28,52.67 163.76,53.31 164.15,53.96 C164.54,54.61 164.84,56.12 165.19,57.85 C165.53,59.58 165.83,62.39 166.22,64.33 C166.61,66.28 167.09,68.22 167.52,69.52 C167.95,70.81 168.38,71.25 168.81,72.11 C169.25,72.98 169.68,73.71 170.11,74.7 C170.54,75.7 170.98,76.99 171.41,78.07 C171.84,79.15 172.27,80.45 172.7,81.19 C173.14,81.92 173.57,82.48 174,82.48 C174.43,82.48 174.86,81.62 175.3,81.19 C175.73,80.75 176.16,80.75 176.59,79.89 C177.02,79.02 177.46,77.08 177.89,76 C178.32,74.92 178.75,74.49 179.19,73.41 C179.62,72.33 180.05,70.6 180.48,69.52 C180.91,68.44 181.35,66.71 181.78,66.93 C182.21,67.14 182.64,70.38 183.07,70.81 C183.51,71.25 183.94,69.95 184.37,69.52 C184.8,69.09 185.3,69.09 185.67,68.22 C186.04,67.36 186.22,65.63 186.59,64.33 C186.96,63.04 187.46,60.23 187.89,60.44 C188.32,60.66 188.75,63.9 189.19,65.63 C189.62,67.36 190.05,69.3 190.48,70.81 C190.91,72.33 191.35,74.49 191.78,74.7 C192.21,74.92 192.64,73.41 193.07,72.11 C193.51,70.81 193.94,68.22 194.37,66.93 C194.8,65.63 195.23,64.98 195.67,64.33 C196.1,63.69 196.53,63.69 196.96,63.04 C197.4,62.39 197.83,61.09 198.26,60.44 C198.69,59.8 199.12,59.58 199.56,59.15 C199.99,58.72 200.42,57.85 200.85,57.85 C201.28,57.85 201.72,58.07 202.15,59.15 C202.58,60.23 203.01,62.82 203.44,64.33 C203.88,65.85 204.31,67.79 204.74,68.22 C205.17,68.65 205.6,66.93 206.04,66.93 C206.47,66.93 206.9,67.57 207.33,68.22 C207.77,68.87 208.2,69.52 208.63,70.81 C209.06,72.11 209.49,74.27 209.93,76 C210.36,77.73 210.79,79.98 211.22,81.19 C211.65,82.4 212.09,83.04 212.52,83.26 C212.95,83.48 213.38,84.12 213.81,82.48 C214.25,80.84 214.68,76.43 215.11,73.41 C215.54,70.38 215.98,66.28 216.41,64.33 C216.84,62.39 217.27,62.17 217.7,61.74 C218.14,61.31 218.57,61.31 219,61.74 C219.43,62.17 219.86,63.04 220.3,64.33 C220.73,65.63 221.16,67.79 221.59,69.52 C222.02,71.25 222.46,72.98 222.89,74.7 C223.32,76.43 223.75,79.24 224.19,79.89 C224.62,80.54 225.05,79.24 225.48,78.59 C225.91,77.94 226.35,75.78 226.78,76 C227.21,76.22 227.64,79.67 228.07,79.89 C228.51,80.1 228.94,77.51 229.37,77.3 C229.8,77.08 230.23,78.81 230.67,78.59 C231.1,78.38 231.53,76.35 231.96,76 C232.4,75.65 232.83,76.3 233.26,76.52 C233.69,76.73 234.12,77.6 234.56,77.3 C234.99,76.99 235.42,75.35 235.85,74.7 C236.28,74.06 236.72,74.06 237.15,73.41 C237.58,72.76 238.01,71.68 238.44,70.81 C238.88,69.95 239.31,68.44 239.74,68.22 C240.17,68.01 240.6,69.09 241.04,69.52 C241.47,69.95 241.9,69.95 242.33,70.81 C242.77,71.68 243.2,74.49 243.63,74.7 C244.06,74.92 244.49,72.98 244.93,72.11 C245.36,71.25 245.79,70.17 246.22,69.52 C246.65,68.87 247.09,67.79 247.52,68.22 C247.95,68.65 248.38,70.81 248.81,72.11 C249.25,73.41 249.68,75.57 250.11,76 C250.54,76.43 250.98,75.35 251.41,74.7 C251.84,74.06 252.27,72.76 252.7,72.11 C253.14,71.46 253.57,70.6 254,70.81 C254.43,71.03 254.86,73.41 255.3,73.41 C255.73,73.41 256.16,71.46 256.59,70.81 C257.02,70.17 257.46,69.52 257.89,69.52 C258.32,69.52 258.75,70.17 259.19,70.81 C259.62,71.46 260.05,72.33 260.48,73.41 C260.91,74.49 261.43,76.35 261.78,77.3 C262.12,78.25 262.43,78.81 262.56,79.11" fill="none" stroke="#0000f8" stroke-width="1.3" stroke-linejoin="round"/>
<line x1="143.0" y1="86.1" x2="143.0" y2="10.6" stroke="#ff22ff" stroke-width="1.25" stroke-dasharray="1.3,1.2"/>
<rect x="18.45" y="6.6" width="256.15" height="83.3" fill="none" stroke="#a4a4a4" stroke-width="0.95"/>
<line x1="17.05" y1="86.1" x2="18.75" y2="86.1" stroke="#777" stroke-width="0.9"/>
<text x="15.65" y="87.85" text-anchor="end" font-size="4.7" letter-spacing="-0.15" class="t">0</text>
<line x1="17.05" y1="75.76" x2="18.75" y2="75.76" stroke="#777" stroke-width="0.9"/>
<text x="15.65" y="77.51" text-anchor="end" font-size="4.7" letter-spacing="-0.15" class="t">20</text>
<line x1="17.05" y1="65.41" x2="18.75" y2="65.41" stroke="#777" stroke-width="0.9"/>
<text x="15.65" y="67.16" text-anchor="end" font-size="4.7" letter-spacing="-0.15" class="t">40</text>
<line x1="17.05" y1="55.07" x2="18.75" y2="55.07" stroke="#777" stroke-width="0.9"/>
<text x="15.65" y="56.82" text-anchor="end" font-size="4.7" letter-spacing="-0.15" class="t">60</text>
<line x1="17.05" y1="44.73" x2="18.75" y2="44.73" stroke="#777" stroke-width="0.9"/>
<text x="15.65" y="46.48" text-anchor="end" font-size="4.7" letter-spacing="-0.15" class="t">80</text>
<line x1="17.05" y1="34.39" x2="18.75" y2="34.39" stroke="#777" stroke-width="0.9"/>
<text x="15.65" y="36.14" text-anchor="end" font-size="4.7" letter-spacing="-0.15" class="t">100</text>
<line x1="17.05" y1="24.04" x2="18.75" y2="24.04" stroke="#777" stroke-width="0.9"/>
<text x="15.65" y="25.79" text-anchor="end" font-size="4.7" letter-spacing="-0.15" class="t">120</text>
<line x1="17.05" y1="13.7" x2="18.75" y2="13.7" stroke="#777" stroke-width="0.9"/>
<text x="15.65" y="15.45" text-anchor="end" font-size="4.7" letter-spacing="-0.15" class="t">140</text>
<line x1="29.9" y1="89.6" x2="29.9" y2="91.2" stroke="#8a8a8a" stroke-width="0.9"/>
<line x1="47.83" y1="89.6" x2="47.83" y2="91.2" stroke="#8a8a8a" stroke-width="0.9"/>
<line x1="65.76" y1="89.6" x2="65.76" y2="91.2" stroke="#8a8a8a" stroke-width="0.9"/>
<line x1="83.69" y1="89.6" x2="83.69" y2="91.2" stroke="#8a8a8a" stroke-width="0.9"/>
<line x1="101.62" y1="89.6" x2="101.62" y2="91.2" stroke="#8a8a8a" stroke-width="0.9"/>
<line x1="119.55" y1="89.6" x2="119.55" y2="91.2" stroke="#8a8a8a" stroke-width="0.9"/>
<line x1="137.48" y1="89.6" x2="137.48" y2="91.2" stroke="#8a8a8a" stroke-width="0.9"/>
<line x1="155.41" y1="89.6" x2="155.41" y2="91.2" stroke="#8a8a8a" stroke-width="0.9"/>
<line x1="173.34" y1="89.6" x2="173.34" y2="91.2" stroke="#8a8a8a" stroke-width="0.9"/>
<line x1="191.27" y1="89.6" x2="191.27" y2="91.2" stroke="#8a8a8a" stroke-width="0.9"/>
<line x1="209.2" y1="89.6" x2="209.2" y2="91.2" stroke="#8a8a8a" stroke-width="0.9"/>
<line x1="227.13" y1="89.6" x2="227.13" y2="91.2" stroke="#8a8a8a" stroke-width="0.9"/>
<line x1="245.06" y1="89.6" x2="245.06" y2="91.2" stroke="#8a8a8a" stroke-width="0.9"/>
<text x="146.53" y="4.8" text-anchor="middle" font-size="5.3" class="b" textLength="63.9" lengthAdjust="spacingAndGlyphs">London_Marylebone_Road</text>
<text x="21.45" y="19.1" font-size="11.6" stroke="#000" stroke-width="0.05">(a)</text>
<text transform="translate(5.7,47.85) rotate(-90)" text-anchor="middle" font-size="5.6" fill="#1a1a1a">NO2 (&#956;gm<tspan dy="-2" font-size="3.9">-3</tspan><tspan dy="2">)</tspan></text>
<polyline points="328.9,81.5 329,85.6 329.1,84.4 329.2,84.3 329.3,70.2 329.4,59.7 329.6,50.4 329.7,50.3 329.8,60.5 329.9,67.8 330,68.4 330.1,69 330.2,68.4 330.3,62.1 330.4,60 330.5,59.2 330.6,56.3 330.7,55.5 330.8,56.6 330.9,58.5 331,63.4 331.2,62.9 331.3,67.8 331.4,68.5 331.5,73.6 331.6,76.2 331.7,76.5 331.8,75.5 331.9,67.8 332,59.3 332.1,50.3 332.2,48.9 332.3,59.6 332.4,64.3 332.5,68 332.6,67.2 332.8,66.1 332.9,66.3 333,62.4 333.1,59.8 333.2,51.4 333.3,51.9 333.4,60.8 333.5,58.6 333.6,65.4 333.7,65 333.8,66 333.9,69.6 334,68.5 334.1,73.4 334.2,69.9 334.4,67.4 334.5,61.4 334.6,49.1 334.7,38 334.8,37.8 334.9,51.3 335,58.7 335.1,59.5 335.2,59 335.3,56.9 335.4,54 335.5,51.6 335.6,52 335.7,47.7 335.9,48.6 336,50.4 336.1,52.8 336.2,55 336.3,56.7 336.4,53.9 336.5,61.9 336.6,65.9 336.7,71.5 336.8,78.7 336.9,71.4 337,65.8 337.1,46.8 337.2,40.3 337.3,45.7 337.5,51.2 337.6,53 337.7,59.4 337.8,58.8 337.9,62.2 338,57 338.1,53.2 338.2,54.4 338.3,50.6 338.4,50.3 338.5,53.9 338.6,57.2 338.7,56.6 338.8,61.2 338.9,61.5 339.1,68.7 339.2,75.2 339.3,78.4 339.4,73.5 339.5,72.7 339.6,65.3 339.7,40.6 339.8,35.4 339.9,42.1 340,48.9 340.1,58.8 340.2,58.1 340.3,58.2 340.4,60 340.5,53.3 340.7,53.2 340.8,45.9 340.9,39.3 341,45.1 341.1,46.5 341.2,51.1 341.3,50.9 341.4,49.6 341.5,61.7 341.6,57.4 341.7,66.1 341.8,79.7 341.9,71.9 342,72 342.1,58 342.3,40.4 342.4,37.5 342.5,38.7 342.6,47.4 342.7,47.5 342.8,58 342.9,57.1 343,54.1 343.1,53.8 343.2,47.5 343.3,47 343.4,44.1 343.5,44.5 343.6,48.3 343.7,48.5 343.9,51.5 344,52.1 344.1,61.4 344.2,62.1 344.3,71.1 344.4,71.3 344.5,74.7 344.6,69.4 344.7,64.6 344.8,50.5 344.9,40.9 345,43 345.1,52.8 345.2,64.4 345.3,61.3 345.5,68.3 345.6,63.1 345.7,59 345.8,61.5 345.9,53.1 346,50.3 346.1,56.2 346.2,60.6 346.3,61.8 346.4,62 346.5,65.9 346.6,66.2 346.7,70.4 346.8,70.7 347,73 347.1,72.6 347.2,72.5 347.3,69.7 347.4,59 347.5,55.2 347.6,57.2 347.7,63.2 347.8,66.5 347.9,71.9 348,71.6 348.1,72.3 348.2,70.5 348.3,69.5 348.4,68.8 348.6,69 348.7,69.7 348.8,69.9 348.9,71.2 349,72.8 349.1,73.7 349.2,73.6 349.3,76.8 349.4,80.3 349.5,81.1 349.6,82.4 349.7,79 349.8,76 349.9,70.5 350,61.4 350.2,62.9 350.3,69.9 350.4,73.7 350.5,75.3 350.6,75.6 350.7,76.3 350.8,72 350.9,70.9 351,68.9 351.1,60.8 351.2,59.8 351.3,69.4 351.4,71.1 351.5,70 351.6,73.2 351.8,73.1 351.9,75.5 352,75.1 352.1,76.3 352.2,80.9 352.3,76.7 352.4,70.5 352.5,58.7 352.6,51.3 352.7,55.4 352.8,63.2 352.9,69.4 353,70.4 353.1,68.4 353.2,67.4 353.4,64.9 353.5,64 353.6,62.7 353.7,56.5 353.8,58.3 353.9,62.1 354,63.2 354.1,66.3 354.2,66.1 354.3,69.4 354.4,68.4 354.5,74.2 354.6,77.3 354.7,79 354.8,75.6 355,65.7 355.1,56.4 355.2,49.2 355.3,45.1 355.4,55.2 355.5,59.2 355.6,59.2 355.7,61.2 355.8,60.8 355.9,58.4 356,55.4 356.1,53.5 356.2,50.1 356.3,51.3 356.4,51.5 356.6,53.7 356.7,52.9 356.8,54.3 356.9,53.4 357,66.7 357.1,66.2 357.2,74.4 357.3,71.3 357.4,75.6 357.5,56.7 357.6,44.4 357.7,42.1 357.8,44.1 357.9,50.3 358,54.5 358.2,55.3 358.3,51.2 358.4,55.4 358.5,49.4 358.6,48.7 358.7,46.3 358.8,43.7 358.9,44.8 359,46.8 359.1,46.2 359.2,46.5 359.3,48.3 359.4,56.1 359.5,67.3 359.7,72.4 359.8,73.5 359.9,72 360,70.1 360.1,50.7 360.2,47.1 360.3,41.1 360.4,41.3 360.5,48 360.6,54 360.7,53.4 360.8,59.7 360.9,62.6 361,54.3 361.1,55 361.3,50.4 361.4,49 361.5,50.9 361.6,54 361.7,58.2 361.8,59.9 361.9,69.4 362,70.1 362.1,71.2 362.2,74.1 362.3,81.7 362.4,85.9 362.5,81.9 362.6,71.3 362.7,55.6 362.9,53.6 363,51.5 363.1,61.6 363.2,65.2 363.3,66.8 363.4,68.2 363.5,66.7 363.6,65.4 363.7,65.2 363.8,61.1 363.9,60 364,60.2 364.1,63.1 364.2,65.3 364.3,69.9 364.5,69.8 364.6,72.1 364.7,73.2 364.8,76.4 364.9,78.2 365,78.3 365.1,77.8 365.2,75.7 365.3,64.5 365.4,43.3 365.5,59.3 365.6,66 365.7,78.7 365.8,79.7 365.9,80 366.1,80.3 366.2,77.8 366.3,74.7 366.4,73.3 366.5,61.7 366.6,69.6 366.7,75.6 366.8,78.1 366.9,76.6 367,77.1 367.1,82.3 367.2,81.3 367.3,85 367.4,85.9 367.5,87.5 367.7,83.6 367.8,79.3 367.9,71.1 368,59.7 368.1,67.7 368.2,69.9 368.3,77.3 368.4,75.2 368.5,76.4 368.6,73.8 368.7,74.9 368.8,71.9 368.9,70.5 369,67.3 369.1,67.8 369.3,69.5 369.4,71 369.5,71.7 369.6,72.8 369.7,71.5 369.8,74.2 369.9,76.9 370,75.4 370.1,79.1 370.2,75.8 370.3,72.4 370.4,58.8 370.5,51 370.6,58.3 370.8,61.9 370.9,65.7 371,69.6 371.1,69.6 371.2,68.3 371.3,65.3 371.4,66.2 371.5,62.2 371.6,59.7 371.7,61.2 371.8,62.6 371.9,62.7 372,66.1 372.1,64.6 372.2,71.8 372.4,70.9 372.5,73.1 372.6,82.9 372.7,87.1 372.8,82.6 372.9,64.1 373,61.5 373.1,50.4 373.2,57.1 373.3,59.4 373.4,67.9 373.5,68.9 373.6,65.1 373.7,69.5 373.8,63.8 374,59.4 374.1,57.8 374.2,53.7 374.3,55.2 374.4,62.2 374.5,63.2 374.6,62.7 374.7,64.6 374.8,67.3 374.9,71.6 375,73.9 375.1,71.5 375.2,75.5 375.3,71.3 375.4,69.4 375.6,62.2 375.7,59.7 375.8,60.2 375.9,65.3 376,65.7 376.1,69.1 376.2,67 376.3,67.7 376.4,67.7 376.5,65.9 376.6,64.3 376.7,61.5 376.8,64 376.9,66.1 377,65.6 377.2,67.2 377.3,68.6 377.4,71.9 377.5,74.2 377.6,74.4 377.7,76.3 377.8,76.8 377.9,76.6 378,74.3 378.1,61.6 378.2,53.6 378.3,58.4 378.4,67.4 378.5,71.7 378.6,72.6 378.8,73.5 378.9,74 379,73.9 379.1,73 379.2,70.7 379.3,66.2 379.4,69.8 379.5,72.2 379.6,73.7 379.7,76.2 379.8,74.5 379.9,79.5 380,81 380.1,84.5 380.2,87.3 380.4,87.5 380.5,86.5 380.6,76.3 380.7,70.2 380.8,65.2 380.9,70.4 381,71.7 381.1,75.8 381.2,75 381.3,75.8 381.4,76.2 381.5,72.1 381.6,73.5 381.7,69.5 381.8,66.7 382,68.4 382.1,69.4 382.2,68.8 382.3,71.8 382.4,70.8 382.5,74.5 382.6,77.8 382.7,79.8 382.8,82 382.9,86 383,79.7 383.1,70.1 383.2,60.2 383.3,47.2 383.5,53.4 383.6,56 383.7,64.7 383.8,63.8 383.9,65.5 384,64.5 384.1,62.7 384.2,60.4 384.3,53.2 384.4,50.8 384.5,52.1 384.6,54.3 384.7,54.2 384.8,58.5 384.9,60.9 385.1,57.6 385.2,63.1 385.3,67.3 385.4,80.7 385.5,78.7 385.6,68.6 385.7,54.7 385.8,45.5 385.9,32.1 386,35.4 386.1,49.5 386.2,54 386.3,52 386.4,56.2 386.5,56.2 386.7,56.1 386.8,50.4 386.9,42.1 387,38.8 387.1,43.8 387.2,48.3 387.3,49.2 387.4,52.7 387.5,61.4 387.6,62 387.7,66.1 387.8,69.9 387.9,73.2 388,78.1 388.1,73.4 388.3,60.6 388.4,53.1 388.5,43.6 388.6,42.5 388.7,55.4 388.8,60.3 388.9,62.9 389,59.1 389.1,64.6 389.2,58.1 389.3,55.2 389.4,55.3 389.5,50.4 389.6,50.4 389.7,53.8 389.9,56.6 390,60.7 390.1,59.7 390.2,61.6 390.3,63.9 390.4,65.4 390.5,71.2 390.6,72.1 390.7,67.9 390.8,57.1 390.9,52.8 391,41.7 391.1,46 391.2,54.5 391.3,56.5 391.5,60.2 391.6,62.8 391.7,57.6 391.8,57.6 391.9,55.2 392,52.7 392.1,47.4 392.2,49.9 392.3,56.1 392.4,55.5 392.5,58 392.6,59.8 392.7,59 392.8,67.1 392.9,69.9 393.1,72.9 393.2,72.2 393.3,70.4 393.4,60.8 393.5,50.5 393.6,44.1 393.7,41.8 393.8,53.4 393.9,57.4 394,59.8 394.1,65.5 394.2,64.1 394.3,62.2 394.4,55.2 394.6,55.8 394.7,51.3 394.8,49.7 394.9,54 395,59 395.1,57.6 395.2,59 395.3,64.7 395.4,69.3 395.5,69.1 395.6,75.3 395.7,76.7 395.8,80.1 395.9,65 396,47.4 396.2,41.5 396.3,34.6 396.4,52.7 396.5,58.8 396.6,59.8 396.7,61 396.8,53.9 396.9,53 397,51.1 397.1,48.6 397.2,46.5 397.3,46.4 397.4,46 397.5,47.1 397.6,47.8 397.8,53.4 397.9,55.1 398,60.3 398.1,64.3 398.2,67.6 398.3,72 398.4,64.1 398.5,58.6 398.6,41.2 398.7,36.7 398.8,43.9 398.9,49.9 399,53.7 399.1,57.6 399.2,57.9 399.4,60.1 399.5,57.5 399.6,55.8 399.7,56.4 399.8,54.1 399.9,55.7 400,58.6 400.1,60.8 400.2,61.6 400.3,65.7 400.4,66 400.5,70.9 400.6,70.5 400.7,75.4 400.8,75.3 401,76.4 401.1,70.6 401.2,54.8 401.3,35.7 401.4,48 401.5,61.9 401.6,72 401.7,76.5 401.8,77.5 401.9,75.2 402,76.9 402.1,71.2 402.2,72.2 402.3,68.9 402.4,71.4 402.6,71.3 402.7,73 402.8,78.5 402.9,78.6 403,82 403.1,84.9 403.2,83.3 403.3,87.5 403.4,84.5 403.5,84.8 403.6,78.9 403.7,65.3 403.8,58.1 403.9,59.1 404,71.6 404.2,69.9 404.3,75.2 404.4,72.8 404.5,75.5 404.6,68.8 404.7,64 404.8,63.6 404.9,59.9 405,60.1 405.1,62.4 405.2,68.5 405.3,68.8 405.4,72.9 405.5,71.7 405.6,79.4 405.8,76.9 405.9,84.2 406,79.9 406.1,75.9 406.2,67 406.3,56 406.4,47.3 406.5,49.9 406.6,55.1 406.7,62.9 406.8,60.3 406.9,66.2 407,62.5 407.1,56.4 407.3,55.1 407.4,50.7 407.5,47.7 407.6,50 407.7,53.2 407.8,51.3 407.9,54.3 408,60.7 408.1,57.2 408.2,70.5 408.3,67.7 408.4,74.9 408.5,83.5 408.6,75.3 408.7,59.9 408.9,47.5 409,33.6 409.1,41.7 409.2,44.7 409.3,54.4 409.4,58.7 409.5,53.8 409.6,57.8 409.7,50.1 409.8,48.2 409.9,46.9 410,44.9 410.1,47.2 410.2,47.4 410.3,49.6 410.5,49.1 410.6,55.3 410.7,52.3 410.8,63.3 410.9,67.1 411,63.1 411.1,71.1 411.2,61.7 411.3,49 411.4,34.6 411.5,24.9 411.6,31.2 411.7,34 411.8,51.5 411.9,49.5 412.1,49.9 412.2,52.7 412.3,45.2 412.4,44.1 412.5,36.6 412.6,30.6 412.7,34.1 412.8,39.2 412.9,40.2 413,44.4 413.1,47.8 413.2,42.7 413.3,59.2 413.4,53.3 413.5,63.7 413.7,63 413.8,61.5 413.9,46.9 414,37.7 414.1,22.9 414.2,33.5 414.3,43 414.4,52.5 414.5,51.2 414.6,51.5 414.7,53.6 414.8,44.9 414.9,49.1 415,40.9 415.1,38 415.3,39.2 415.4,43.4 415.5,48.2 415.6,58.5 415.7,60.7 415.8,58.4 415.9,60.9 416,62.6 416.1,66.3 416.2,66.3 416.3,67 416.4,62.4 416.5,59 416.6,43.3 416.7,52.2 416.9,61.6 417,68.2 417.1,69.2 417.2,68.8 417.3,69.4 417.4,70.1 417.5,66.5 417.6,63.8 417.7,57.6 417.8,60.8 417.9,64.9 418,63.3 418.1,66.5 418.2,70.7 418.3,72.4 418.5,76.2 418.6,78.8 418.7,82.7 418.8,81.9 418.9,79.4 419,74.5 419.1,68 419.2,51.1 419.3,59.4 419.4,72.1 419.5,70.2 419.6,75.4 419.7,75.7 419.8,78.2 420,72.2 420.1,68.8 420.2,65 420.3,60.8 420.4,62.5 420.5,66.3 420.6,69.9 420.7,73.2 420.8,72.4 420.9,72.5 421,77.3 421.1,77 421.2,81.7 421.3,78.8 421.4,77.6 421.6,74.5 421.7,48.7 421.8,41.7 421.9,48.8 422,61.1 422.1,71.4 422.2,70.8 422.3,68.1 422.4,69.4 422.5,63.3 422.6,62 422.7,47.8 422.8,36.2 422.9,43.2 423,47.8 423.2,54.8 423.3,66.1 423.4,69.5 423.5,68.6 423.6,70.2 423.7,72.1 423.8,77.8 423.9,76.5 424,77 424.1,70.8 424.2,53.3 424.3,47.1 424.4,49.4 424.5,61.6 424.6,68.3 424.8,70 424.9,69.9 425,66.6 425.1,65.3 425.2,64.8 425.3,61.5 425.4,53.4 425.5,53.2 425.6,60.6 425.7,62.2 425.8,64.4 425.9,71.1 426,74.1 426.1,77.9 426.2,76 426.4,83.2 426.5,85.6 426.6,77.8 426.7,71 426.8,53.5 426.9,47.9 427,51 427.1,56.9 427.2,68.3 427.3,67.2 427.4,72.6 427.5,67.6 427.6,68.9 427.7,65.8 427.8,65.7 428,62.3 428.1,61.1 428.2,65.1 428.3,65.3 428.4,69 428.5,70.6 428.6,72.1 428.7,78.2 428.8,77.1 428.9,80.7 429,83.9 429.1,85.2 429.2,70.5 429.3,63.2 429.4,55.1 429.6,59.9 429.7,63.1 429.8,66 429.9,69 430,68.3 430.1,65.9 430.2,63.5 430.3,62.8 430.4,60.6 430.5,55.3 430.6,58.8 430.7,57.5 430.8,58.5 430.9,59.5 431.1,60.8 431.2,60.7 431.3,76.4 431.4,77.1 431.5,83.7 431.6,75.4 431.7,70.6 431.8,64.4 431.9,44.8 432,35.6 432.1,43.2 432.2,48.4 432.3,50 432.4,52.4 432.5,57.6 432.7,50.1 432.8,50.2 432.9,45.2 433,42.1 433.1,32.5 433.2,38.1 433.3,41.7 433.4,45.9 433.5,51.3 433.6,49.5 433.7,57.4 433.8,59 433.9,60.3 434,63.5 434.1,68.2 434.3,67.4 434.4,57.5 434.5,39.9 434.6,37.3 434.7,35.8 434.8,54 434.9,58.8 435,62.4 435.1,62 435.2,61.3 435.3,54.3 435.4,51.7 435.5,53.5 435.6,46.5 435.7,45.1 435.9,56.3 436,59 436.1,61.7 436.2,66.5 436.3,63.4 436.4,71.6 436.5,74.9 436.6,73.4 436.7,77.9 436.8,72.8 436.9,66.5 437,59.7 437.1,57.4 437.2,59.4 437.3,60.7 437.5,64 437.6,64.5 437.7,64.2 437.8,63.1 437.9,63.1 438,61.8 438.1,59.3 438.2,58.4 438.3,59.7 438.4,60.1 438.5,61.7 438.6,61.4 438.7,65.7 438.8,61.9 438.9,68.8 439.1,71 439.2,74 439.3,72.5 439.4,69.6 439.5,64 439.6,56.6 439.7,47 439.8,55.5 439.9,61.8 440,64.2 440.1,64.5 440.2,67.1 440.3,66.8 440.4,65 440.5,65.4 440.7,60.5 440.8,58.1 440.9,62.3 441,65.3 441.1,65.7 441.2,70.1 441.3,73 441.4,72.3 441.5,74.5 441.6,80.7 441.7,82.1 441.8,84.9 441.9,81.3 442,74.6 442.1,65.6 442.3,61.3 442.4,63.4 442.5,68.9 442.6,70.7 442.7,72.8 442.8,70.3 442.9,69.8 443,68.1 443.1,68.7 443.2,64.9 443.3,61.9 443.4,63.6 443.5,63.9 443.6,64.8 443.8,66.2 443.9,66.5 444,67.7 444.1,70 444.2,71.7 444.3,74.6 444.4,76 444.5,71.7 444.6,65.5 444.7,63.7 444.8,61.9 444.9,62.5 445,64.4 445.1,64.4 445.2,64.2 445.4,64.5 445.5,65.8 445.6,63.7 445.7,63.9 445.8,61.7 445.9,61 446,61.7 446.1,61.4 446.2,62.4 446.3,62.5 446.4,64.4 446.5,71 446.6,68.7 446.7,80.3 446.8,83.1 447,80.6 447.1,79.1 447.2,66.1 447.3,53.1 447.4,48.8 447.5,47.5 447.6,57.2 447.7,56.8 447.8,58.3 447.9,61.3 448,65.4 448.1,56.2 448.2,57.3 448.3,52.9 448.4,49.8 448.6,52.6 448.7,52.5 448.8,53.5 448.9,55.4 449,58.5 449.1,56.4 449.2,59.5 449.3,63.4 449.4,64.9 449.5,70.6 449.6,62.9 449.7,60.7 449.8,49.9 449.9,46.5 450,46.8 450.2,50.6 450.3,53.3 450.4,56 450.5,57.4 450.6,57.6 450.7,53.6 450.8,52.6 450.9,50.8 451,46.5 451.1,48.9 451.2,51.4 451.3,53.8 451.4,53.8 451.5,58.2 451.6,55.3 451.8,63.1 451.9,65.3 452,69.6 452.1,73.6 452.2,70.2 452.3,65.5 452.4,54.2 452.5,50.2 452.6,48.1 452.7,54.8 452.8,59.1 452.9,64.3 453,64.8 453.1,66.1 453.2,60.3 453.4,58.1 453.5,58.8 453.6,57.3 453.7,58.6 453.8,60.4 453.9,60.2 454,62.3 454.1,65.7 454.2,65.2 454.3,69.3 454.4,69.1 454.5,71.4 454.6,73 454.7,73 454.9,66.9 455,63.4 455.1,58.3 455.2,57.9 455.3,63.1 455.4,67.3 455.5,67.8 455.6,69.1 455.7,65.4 455.8,64.9 455.9,63.6 456,62.4 456.1,61.8 456.2,61.7 456.3,63.1 456.5,62.8 456.6,63.1 456.7,65.7 456.8,67.9 456.9,75.8 457,71.9 457.1,75.3 457.2,79.5 457.3,79.3 457.4,61.6 457.5,58.5 457.6,56.9 457.7,57.1 457.8,58.7 457.9,59.4 458.1,62.1 458.2,61.4 458.3,64 458.4,60.1 458.5,58.2 458.6,57.9 458.7,57.1 458.8,57.1 458.9,58.6 459,59.3 459.1,59.8 459.2,60.4 459.3,65.6 459.4,65.5 459.5,72.2 459.7,72.4 459.8,74.4 459.9,70.7 460,63.7 460.1,59 460.2,52 460.3,54.4 460.4,61.5 460.5,67.2 460.6,64.8 460.7,67.3 460.8,70.5 460.9,67.6 461,63.5 461.1,64.7 461.3,61.5 461.4,61.9 461.5,64.4 461.6,66.9 461.7,68.2 461.8,73.5 461.9,75.7 462,79.6 462.1,81.1 462.2,79.5 462.3,85.4 462.4,80.3 462.5,71.5 462.6,67.5 462.7,62.5 462.9,66.2 463,70.2 463.1,73.9 463.2,70.5 463.3,74.8 463.4,69.4 463.5,68.7 463.6,68.9 463.7,64.6 463.8,63.9 463.9,63.8 464,66.8 464.1,65.4 464.2,66 464.3,66.5 464.5,67.7 464.6,74.1 464.7,75.7 464.8,78.5 464.9,78 465,80 465.1,70.8 465.2,62.6 465.3,61.3 465.4,61.5 465.5,63.3 465.6,62.9 465.7,68 465.8,62.8 465.9,62.5 466.1,62.2 466.2,61.9 466.3,60.4 466.4,59.8 466.5,59.8 466.6,60.6 466.7,59.9 466.8,60.6 466.9,62.5 467,61 467.1,75.3 467.2,76.6 467.3,81.4 467.4,78.4 467.6,80.5 467.7,62.3 467.8,57.2 467.9,56.3 468,57.7 468.1,58.9 468.2,63.4 468.3,59.4 468.4,61.6 468.5,61.5 468.6,59.5 468.7,59.3 468.8,58.7 468.9,58.1 469,58.3 469.2,59.2 469.3,59.8 469.4,60.4 469.5,61 469.6,61.9 469.7,69.7 469.8,69.7 469.9,78 470,74.2 470.1,75.3 470.2,64.9 470.3,59.9 470.4,54.8 470.5,57 470.6,62.8 470.8,68.4 470.9,67.7 471,66 471.1,67 471.2,66.1 471.3,66.1 471.4,65.4 471.5,64.3 471.6,65.8 471.7,68 471.8,69 471.9,69.7 472,74.4 472.1,73.9 472.2,75.2 472.4,77.9 472.5,79.9 472.6,82 472.7,81.5 472.8,77.2 472.9,67.8 473,66.3 473.1,66.6 473.2,71.2 473.3,72.7 473.4,71.9 473.5,76.4 473.6,73.5 473.7,71.3 473.8,70.3 474,67.1 474.1,66.1 474.2,65.7 474.3,68.1 474.4,68.3 474.5,72.7 474.6,73.5 474.7,72.8 474.8,73 474.9,73.2 475,76.5 475.1,76.1 475.2,74 475.3,70.3 475.4,65.9 475.6,62.7 475.7,65.2 475.8,68 475.9,70.3 476,68.9 476.1,70.4 476.2,69.9 476.3,66.9 476.4,66.6 476.5,65.1 476.6,62.9 476.7,63.9 476.8,65 476.9,67 477,68.8 477.2,69.7 477.3,70.9 477.4,71.7 477.5,71.5 477.6,73.9 477.7,76 477.8,73.2 477.9,71.3 478,68 478.1,66.1 478.2,66.8 478.3,68.3 478.4,70.2 478.5,70.3 478.7,72.9 478.8,70.7 478.9,71.2 479,70.8 479.1,71.3 479.2,70.2 479.3,71.4 479.4,71.7 479.5,72.4 479.6,73.1 479.7,74.8 479.8,77.1 479.9,77.8 480,80.1 480.1,81.7 480.3,84.9 480.4,83.6 480.5,79 480.6,73.8 480.7,73.4 480.8,73.9 480.9,75.6 481,78 481.1,79.6 481.2,80.4 481.3,77.1 481.4,78.1 481.5,76.9 481.6,77 481.7,76.5 481.9,77.2 482,77.3 482.1,78.1 482.2,78.5 482.3,79 482.4,80.5 482.5,82 482.6,82.2 482.7,84.8 482.8,85.6 482.9,84.8 483,81.5 483.1,77.8 483.2,74.2 483.3,76.1 483.5,77.9 483.6,81.8 483.7,80.7 483.8,80.4 483.9,81.6 484,81 484.1,79.4 484.2,79 484.3,77.3 484.4,77.4 484.5,78.9 484.6,79.3 484.7,79.5 484.8,81.2 484.9,81.4 485.1,82 485.2,82.7 485.3,82.9 485.4,83.9 485.5,84.3 485.6,83 485.7,78.9 485.8,76.7 485.9,76.7 486,78.7 486.1,80.3 486.2,81.6 486.3,80.5 486.4,80.7 486.5,80.3 486.7,79.7 486.8,77.7 486.9,77.3 487,77.7 487.1,78 487.2,77.3 487.3,78.2 487.4,77.9 487.5,79.6 487.6,79.6 487.7,81.2 487.8,82.6 487.9,80.5 488,80.4 488.1,77.7 488.3,74.2 488.4,69.1 488.5,70.9 488.6,75.7 488.7,76.3 488.8,76.2 488.9,77.1 489,77.8 489.1,76.3 489.2,75.5 489.3,74.4 489.4,74 489.5,73.7 489.6,74.7 489.7,76 489.9,76.7 490,78.6 490.1,78.7 490.2,79.5 490.3,81.9 490.4,82.6 490.5,83.5 490.6,82.2 490.7,80.8 490.8,73.3 490.9,59.3 491,64.2 491.1,69.9 491.2,79.3 491.4,79.1 491.5,80.3 491.6,77.9 491.7,78.8 491.8,76.5 491.9,74 492,69.4 492.1,72.4 492.2,72.7 492.3,75.4 492.4,78.1 492.5,77 492.6,79.8 492.7,79.3 492.8,82.3 493,83.2 493.1,83.9 493.2,81.6 493.3,79.8 493.4,73.3 493.5,69.9 493.6,68.7 493.7,76.3 493.8,76.1 493.9,77.8 494,77.4 494.1,76.7 494.2,74.6 494.3,75.1 494.4,72.4 494.6,69.7 494.7,67.9 494.8,73.3 494.9,75 495,75.2 495.1,76.2 495.2,78 495.3,78.5 495.4,79.9 495.5,81 495.6,80.5 495.7,80.2 495.8,77 495.9,66.6 496,64.4 496.2,62.3 496.3,73.1 496.4,77.7 496.5,76 496.6,78 496.7,77.9 496.8,76.2 496.9,75.1 497,72 497.1,70.2 497.2,72.1 497.3,73.1 497.4,73.1 497.5,73.9 497.6,74.8 497.8,75.5 497.9,77.5 498,77.9 498.1,78.7 498.2,79 498.3,80 498.4,76.2 498.5,67.7 498.6,64.8 498.7,67.7 498.8,69.5 498.9,73.2 499,73.7 499.1,73.4 499.2,72.3 499.4,71 499.5,71 499.6,69 499.7,67.8 499.8,68.4 499.9,68.9 500,69.6 500.1,72.2 500.2,72 500.3,74.8 500.4,74.4 500.5,77 500.6,81.1 500.7,81.5 500.8,78.1 501,76.6 501.1,71.4 501.2,66.9 501.3,68.5 501.4,73.9 501.5,74.4 501.6,76.7 501.7,76.1 501.8,75.6 501.9,76.6 502,75.4 502.1,74.3 502.2,72.6 502.3,74.3 502.5,75.6 502.6,75.3 502.7,75.6 502.8,77.5 502.9,77.9 503,78.8 503.1,82 503.2,85.2 503.3,84.1 503.4,83.9 503.5,72.9 503.6,70.8 503.7,69.6 503.8,69.2 503.9,69.5 504.1,69.4 504.2,69.6 504.3,69.9 504.4,68.6 504.5,68 504.6,67.9 504.7,67 504.8,66.5 504.9,66.4 505,66.1 505.1,66.5 505.2,66.8 505.3,67.1 505.4,68.4 505.5,69.6 505.7,72 505.8,73.7 505.9,74.6 506,73.4 506.1,69.2 506.2,65.2 506.3,56.4 506.4,59.5 506.5,64.1 506.6,67 506.7,72.9 506.8,73.4 506.9,71.5 507,70.7 507.1,72.5 507.3,70.6 507.4,68.1 507.5,70.5 507.6,72.6 507.7,74.1 507.8,76.3 507.9,77.9 508,77.2 508.1,78.3 508.2,79.8 508.3,80 508.4,80.7 508.5,81 508.6,79.3 508.7,77.7 508.9,74.5 509,76.2 509.1,79.1 509.2,79.8 509.3,79.2 509.4,79.7 509.5,79 509.6,79 509.7,78.1 509.8,77.5 509.9,77.3 510,77.1 510.1,77.8 510.2,77.6 510.3,77.6 510.5,77.7 510.6,79 510.7,82.9 510.8,84.1 510.9,83.9 511,86.4 511.1,82.5 511.2,79 511.3,74.9 511.4,72.7 511.5,73 511.6,74.2 511.7,77.4 511.8,75.4 511.9,77.6 512.1,76.8 512.2,74.9 512.3,74.5 512.4,74.1 512.5,73.3 512.6,73.9 512.7,74 512.8,74 512.9,74.7 513,76.4 513.1,75.5 513.2,77.2 513.3,79.7 513.4,83.7 513.5,84.6 513.7,81.2 513.8,79 513.9,71.5 514,69.9 514.1,71.6 514.2,73.6 514.3,77.4 514.4,75.4 514.5,75.9 514.6,77.2 514.7,76.8 514.8,75.8 514.9,73.3 515,71.2 515.2,72.8 515.3,73.6 515.4,75.3 515.5,75.6 515.6,78.8 515.7,78.9 515.8,79.4 515.9,82.4 516,83.3 516.1,83.2 516.2,80.6 516.3,75.7 516.4,73 516.5,70.5 516.6,70.1 516.8,72.1 516.9,74 517,76.4 517.1,75.3 517.2,74.2 517.3,73.9 517.4,73.6 517.5,71.7 517.6,70.7 517.7,72 517.8,72.2 517.9,72.3 518,73.2 518.1,75.3 518.2,76.1 518.4,77.3 518.5,79.7 518.6,78.3 518.7,82.1 518.8,80.2 518.9,74.8 519,72.5 519.1,69.5 519.2,71 519.3,74.1 519.4,75 519.5,75 519.6,77.5 519.7,77.4 519.8,74.7 520,74.7 520.1,73.6 520.2,72.3 520.3,73.2 520.4,73.1 520.5,76.3 520.6,77.1 520.7,76.6 520.8,76.7 520.9,79.7 521,81.9 521.1,82.5 521.2,82.3 521.3,81 521.4,79.1 521.6,73.8 521.7,66.8 521.8,71.7 521.9,72.8 522,76.9 522.1,77.8 522.2,78 522.3,77 522.4,73.8 522.5,75.3 522.6,70.8 522.7,69.9 522.8,71.6 522.9,71.7 523,74.3 523.2,76.1 523.3,76.3 523.4,78.9 523.5,78.4 523.6,80.4 523.7,80.9 523.8,81.5 523.9,82.3 524,76.4 524.1,71.3 524.2,69.7 524.3,70.9 524.4,74.7 524.5,76.9 524.6,77.3 524.8,78.4 524.9,77.5 525,73.8 525.1,74 525.2,71.2 525.3,67.8 525.4,69.3 525.5,72.6 525.6,71.5 525.7,73 525.8,73.2 525.9,77.5 526,78.4 526.1,81.6 526.3,81.3 526.4,85.6 526.5,81.9 526.6,77.3 526.7,69.9 526.8,68.1 526.9,67.7 527,71.4 527.1,73.6 527.2,77.7 527.3,74.9 527.4,75.4 527.5,74.6 527.6,73.8 527.7,73.9 527.9,69.6 528,71.8 528.1,73.9 528.2,75.5 528.3,75.5 528.4,76.5 528.5,78.8 528.6,80.8 528.7,81.2 528.8,83.2 528.9,81.4 529,81.8 529.1,78.6 529.2,73.8 529.3,66.6 529.5,70.5 529.6,73.5 529.7,76 529.8,75.4 529.9,75.2 530,76.5 530.1,74.7 530.2,73.4 530.3,73 530.4,70.6 530.5,71.6 530.6,73.3 530.7,72.9 530.8,74 530.9,75.9 531.1,75.9 531.2,78.3 531.3,78.2 531.4,80.4 531.5,82.8 531.6,81 531.7,77 531.8,70 531.9,67.5 532,71.1 532.1,71.9 532.2,77.3 532.3,76.2 532.4,77.1 532.5,75.9 532.7,75.7 532.8,75.7 532.9,72.8 533,69.8 533.1,71.1 533.2,74.2 533.3,75.8 533.4,75.6 533.5,76.4 533.6,79.3 533.7,82.5 533.8,82.7 533.9,83.5 534,87.5 534.1,85.4 534.3,79.2 534.4,71.6 534.5,69.8 534.6,69.8 534.7,73.6 534.8,75.1 534.9,78.4 535,74.9 535.1,74.3 535.2,74.2 535.3,72 535.4,71.8 535.5,66.8 535.6,69 535.7,70 535.9,70.7 536,73.3 536.1,72.3 536.2,73.1 536.3,75.7 536.4,77.1 536.5,80.9 536.6,79.7 536.7,79.5 536.8,75.9 536.9,69.3 537,66 537.1,68 537.2,70.1 537.3,73 537.5,73.7 537.6,73.3 537.7,72.3 537.8,71.1 537.9,71 538,70.3 538.1,69.2 538.2,69.1 538.3,69.4 538.4,70 538.5,70.3 538.6,70.3 538.7,73.8 538.8,75.3 539,77.1 539.1,79.5 539.2,81.1 539.3,79.1 539.4,75 539.5,68.3 539.6,65.8 539.7,69.3 539.8,69.9 539.9,73.1 540,76.6 540.1,77.5 540.2,73.3 540.3,73.1 540.4,73.5 540.6,72.2 540.7,70.8 540.8,71 540.9,73.4 541,73.5 541.1,75.5 541.2,77.7 541.3,77.2 541.4,79.4 541.5,80.6 541.6,82.3 541.7,82.8 541.8,81.8 541.9,78.5 542,75.1 542.2,70.2 542.3,72.3 542.4,74.5 542.5,79.2 542.6,78.9 542.7,80.6 542.8,81.2 542.9,79.5 543,79.8 543.1,78.7 543.2,77.3 543.3,77.1 543.4,78 543.5,80.3 543.6,81.5 543.8,82.3 543.9,83.3 544,83.2 544.1,84.3 544.2,85.8 544.3,84.6 544.4,84 544.5,82.5 544.6,75 544.7,67.5 544.8,72.7 544.9,78.1 545,81.4 545.1,81.2 545.2,81.1 545.4,80.5 545.5,77.7 545.6,79.2 545.7,75.6 545.8,70.1 545.9,71.8 546,74.9 546.1,75.9 546.2,78.8 546.3,77.3 546.4,80.3 546.5,79.7 546.6,80.6 546.7,83.1 546.8,82.7 547,81.2 547.1,78.1 547.2,73.5 547.3,67.2 547.4,70.7 547.5,73.8 547.6,74.4 547.7,76.1 547.8,76.5 547.9,76.6 548,75.5 548.1,74.2 548.2,72.5 548.3,71.9 548.4,72.5 548.6,73.8 548.7,74.7 548.8,74.4 548.9,75.8 549,78.7 549.1,78.9 549.2,83.3 549.3,84.3 549.4,85.8 549.5,81.3 549.6,79.2 549.7,73.9 549.8,71.3 549.9,72 550.1,73.9 550.2,76 550.3,76.5 550.4,76.7 550.5,77.5 550.6,75.8 550.7,76.4 550.8,73.9 550.9,73.3 551,74.3 551.1,74.2 551.2,74.6 551.3,75.9 551.4,78 551.5,75.5 551.7,80.7 551.8,81.9 551.9,83.2 552,84.3 552.1,80.7 552.2,77.1 552.3,73.7 552.4,69.5 552.5,71.2 552.6,73.7 552.7,76 552.8,76 552.9,78.4 553,76.1 553.1,76.4 553.3,75.2 553.4,73.7 553.5,71.1 553.6,69.9 553.7,71.6 553.8,73.7 553.9,76.5 554,77.4 554.1,79.8 554.2,80.3 554.3,81.4 554.4,86.2 554.5,85.1 554.6,81.4 554.7,76.6 554.9,73.5 555,71.3 555.1,72.1 555.2,73.8 555.3,74.8 555.4,74 555.5,74 555.6,73.7 555.7,73.6 555.8,73.6 555.9,73 556,72.2 556.1,72.2 556.2,73.1 556.3,72.8 556.5,73 556.6,73.7 556.7,74 556.8,76.2 556.9,76.9 557,79.4 557.1,78.5 557.2,77.4 557.3,73.9 557.4,73 557.5,72.5 557.6,73.1 557.7,74.4 557.8,74.6 557.9,75.2 558.1,75.5 558.2,75.6 558.3,75.4 558.4,75.7 558.5,75.8 558.6,75.1 558.7,76.2 558.8,76.7 558.9,77.7 559,77.8 559.1,78.9 559.2,78.8 559.3,79.9 559.4,81.2 559.5,81.3 559.7,81.9 559.8,81.4 559.9,80.7 560,78.7 560.1,75.7 560.2,78.5 560.3,79.4 560.4,81.8 560.5,82.1 560.6,82.6 560.7,81.8 560.8,82 560.9,80.9 561,80.9 561.1,78.7 561.3,79.8 561.4,81.9 561.5,82.1 561.6,82.6 561.7,83.8 561.8,83.5 561.9,84.2 562,84.7 562.1,85.7 562.2,85.7" fill="none" stroke="#404040" stroke-width="0.35" stroke-linejoin="miter" stroke-miterlimit="2"/>
<polyline points="340.75,55.5 341.15,23.85 341.55,56.5" fill="none" stroke="#404040" stroke-width="0.35"/>
<polyline points="343.34,55.19 343.74,35.52 344.14,56.19" fill="none" stroke="#404040" stroke-width="0.35"/>
<polyline points="355.66,59.33 356.06,35.52 356.46,60.33" fill="none" stroke="#404040" stroke-width="0.35"/>
<polyline points="358.9,51.13 359.3,23.85 359.7,52.13" fill="none" stroke="#404040" stroke-width="0.35"/>
<polyline points="385.99,55.89 386.39,25.15 386.79,56.89" fill="none" stroke="#404040" stroke-width="0.35"/>
<polyline points="397.53,53.14 397.93,25.15 398.33,54.14" fill="none" stroke="#404040" stroke-width="0.35"/>
<polyline points="403.9,76.34 404.3,40.7 404.7,77.34" fill="none" stroke="#404040" stroke-width="0.35"/>
<polyline points="412.97,45 413.37,10.89 413.77,46" fill="none" stroke="#404040" stroke-width="0.35"/>
<polyline points="422.95,70.41 423.35,31.63 423.75,71.41" fill="none" stroke="#404040" stroke-width="0.35"/>
<polyline points="505.41,71.19 505.81,52.37 506.21,72.19" fill="none" stroke="#404040" stroke-width="0.35"/>
<polyline points="329.1,51.08 331.1,51.14 333.1,51.19 335.1,51.24 337.1,51.29 339.1,51.34 341.1,51.39 343.1,51.44 345.1,51.49 347.1,51.55 349.1,51.6 351.1,51.72 353.1,51.84 355.1,51.96 357.1,52.08 359.1,52.2 361.1,52.32 363.1,52.2 365.1,51.92 367.1,51.64 369.1,51.36 371.1,51.08 373.1,50.8 375.1,50.58 377.1,50.74 379.1,50.9 381.1,51.06 383.1,51.22 385.1,51.38 387.1,51.54 389.1,51.67 391.1,51.79 393.1,51.91 395.1,52.03 397.1,52.15 399.1,52.27 401.1,52.48 403.1,53.14 405.1,52.9 407.1,52.8 409.1,52.7 411.1,52.6 413.1,52.51 415.1,52.41 417.1,52.3 419.1,52.18 421.1,52.06 423.1,51.94 425.1,51.82 427.1,51.7 429.1,51.6 431.1,51.72 433.1,51.84 435.1,51.96 437.1,52.08 439.1,52.2 441.1,52.32 443.1,52.44 445.1,52.56 447.1,52.68 449.1,52.8 451.1,52.92 453.1,53.04 455.1,53.16 457.1,53.24 459.1,53.32 461.1,53.4 463.1,53.48 465.1,53.56 467.1,53.64 469.1,53.67 471.1,53.67 473.1,53.67 475.1,53.67 477.1,53.67 479.1,53.67 481.1,53.67 483.1,53.67 485.1,53.65 487.1,53.55 489.1,53.46 491.1,53.37 493.1,53.28 495.1,53.19 497.1,53.12 499.1,53.07 501.1,53.02 503.1,52.97 505.1,52.92 507.1,52.93 509.1,53.03 511.1,53.13 513.1,53.23 515.1,53.33 517.1,53.43 519.1,53.53 521.1,53.63 523.1,53.72 525.1,53.8 527.1,53.88 529.1,53.96 531.1,54.04 533.1,54.12 535.1,54.18 537.1,54.1 539.1,54.02 541.1,53.94 543.1,53.86 545.1,53.78 547.1,53.7 549.1,53.71 551.1,53.79 553.1,53.86 555.1,53.93 557.1,54 559.1,54.08 561.1,54.15 562.07,54.19" fill="none" stroke="#4cae4c" stroke-width="1.3"/>
<path d="M329.1,72.4 C329.2,71.55 329.42,69.28 329.7,67.3 C329.98,65.32 330.48,60.5 330.8,60.5 C331.12,60.5 331.27,66.02 331.6,67.3 C331.93,68.58 332.37,69.05 332.8,68.2 C333.23,67.35 333.77,64.18 334.2,62.2 C334.63,60.22 335.02,57.72 335.4,56.3 C335.78,54.88 336.08,53.57 336.5,53.7 C336.92,53.83 337.43,56.25 337.9,57.1 C338.37,57.95 338.87,59.08 339.3,58.8 C339.73,58.52 340.02,57.23 340.5,55.4 C340.98,53.57 341.73,48.65 342.2,47.8 C342.67,46.95 342.88,48.88 343.3,50.3 C343.72,51.72 344.23,53.88 344.7,56.3 C345.17,58.72 345.67,62.97 346.1,64.8 C346.53,66.63 346.92,66.17 347.3,67.3 C347.68,68.43 347.98,70.32 348.4,71.6 C348.82,72.88 349.33,74.72 349.8,75 C350.27,75.28 350.77,74.15 351.2,73.3 C351.63,72.45 351.92,71.03 352.4,69.9 C352.88,68.77 353.53,68.63 354.1,66.5 C354.67,64.37 355.23,59.52 355.8,57.1 C356.37,54.68 356.93,53.55 357.5,52 C358.07,50.45 358.63,47.52 359.2,47.8 C359.77,48.08 360.42,51.15 360.9,53.7 C361.38,56.25 361.68,61.05 362.1,63.1 C362.52,65.15 363.05,65.02 363.4,66 C363.75,66.98 363.87,67.22 364.2,69 C364.53,70.78 365,74.72 365.4,76.7 C365.8,78.68 366.22,80.77 366.6,80.9 C366.98,81.03 367.28,78.92 367.7,77.5 C368.12,76.08 368.58,73.95 369.1,72.4 C369.62,70.85 370.23,69.47 370.8,68.2 C371.37,66.93 371.98,65.52 372.5,64.8 C373.02,64.08 373.47,63.77 373.9,63.9 C374.33,64.03 374.62,65.03 375.1,65.6 C375.58,66.17 376.23,66.02 376.8,67.3 C377.37,68.58 377.93,71.73 378.5,73.3 C379.07,74.87 379.63,76.7 380.2,76.7 C380.77,76.7 381.33,75.28 381.9,73.3 C382.47,71.32 383.03,67.78 383.6,64.8 C384.17,61.82 384.88,57.53 385.3,55.4 C385.72,53.27 385.73,51.85 386.1,52 C386.47,52.15 386.98,55.02 387.5,56.3 C388.02,57.58 388.63,59.57 389.2,59.7 C389.77,59.83 390.33,57.25 390.9,57.1 C391.47,56.95 392.03,58.23 392.6,58.8 C393.17,59.37 393.73,60.5 394.3,60.5 C394.87,60.5 395.43,60.63 396,58.8 C396.57,56.97 397.22,50.48 397.7,49.5 C398.18,48.52 398.5,50.78 398.9,52.9 C399.3,55.02 399.68,58.67 400.1,62.2 C400.52,65.73 400.95,71.27 401.4,74.1 C401.85,76.93 402.37,79.2 402.8,79.2 C403.23,79.2 403.47,75.8 404,74.1 C404.53,72.4 405.52,71.11 406,69 C406.48,66.89 406.52,63.35 406.89,61.44 C407.25,59.54 407.75,59.28 408.19,57.56 C408.62,55.83 409.05,52.37 409.48,51.07 C409.91,49.78 410.35,50.43 410.78,49.78 C411.21,49.13 411.64,48.48 412.07,47.19 C412.51,45.89 412.94,41.78 413.37,42 C413.8,42.22 414.23,45.67 414.67,48.48 C415.1,51.29 415.53,55.4 415.96,58.85 C416.4,62.31 416.83,66.85 417.26,69.22 C417.69,71.6 418.12,72.03 418.56,73.11 C418.99,74.19 419.42,75.7 419.85,75.7 C420.28,75.7 420.72,74.19 421.15,73.11 C421.58,72.03 422.01,70.3 422.44,69.22 C422.88,68.14 423.31,66.85 423.74,66.63 C424.17,66.41 424.6,67.49 425.04,67.93 C425.47,68.36 425.9,69.22 426.33,69.22 C426.77,69.22 427.2,67.93 427.63,67.93 C428.06,67.93 428.49,69.65 428.93,69.22 C429.36,68.79 429.79,67.49 430.22,65.33 C430.65,63.17 431.09,58.85 431.52,56.26 C431.95,53.67 432.38,50.21 432.81,49.78 C433.25,49.35 433.68,51.94 434.11,53.67 C434.54,55.4 434.98,58.2 435.41,60.15 C435.84,62.09 436.27,64.9 436.7,65.33 C437.14,65.77 437.57,63.3 438,62.74 C438.43,62.18 438.86,61.1 439.3,61.96 C439.73,62.83 440.16,66.07 440.59,67.93 C441.02,69.78 441.46,72.9 441.89,73.11 C442.32,73.33 442.75,70.52 443.19,69.22 C443.62,67.93 444.05,66.2 444.48,65.33 C444.91,64.47 445.35,64.9 445.78,64.04 C446.21,63.17 446.64,61.23 447.07,60.15 C447.51,59.07 447.94,58.42 448.37,57.56 C448.8,56.69 449.23,55.61 449.67,54.96 C450.1,54.31 450.53,53.23 450.96,53.67 C451.4,54.1 451.83,56.04 452.26,57.56 C452.69,59.07 453.12,61.23 453.56,62.74 C453.99,64.25 454.42,66.2 454.85,66.63 C455.28,67.06 455.72,66.2 456.15,65.33 C456.58,64.47 457.01,62.52 457.44,61.44 C457.88,60.36 458.31,58.64 458.74,58.85 C459.17,59.07 459.6,61.01 460.04,62.74 C460.47,64.47 460.9,67.71 461.33,69.22 C461.77,70.73 462.2,71.81 462.63,71.81 C463.06,71.81 463.49,70.52 463.93,69.22 C464.36,67.93 464.79,65.33 465.22,64.04 C465.65,62.74 466.09,62.31 466.52,61.44 C466.95,60.58 467.38,59.07 467.81,58.85 C468.25,58.64 468.68,59.28 469.11,60.15 C469.54,61.01 469.98,62.52 470.41,64.04 C470.84,65.55 471.27,67.71 471.7,69.22 C472.14,70.73 472.57,72.68 473,73.11 C473.43,73.54 473.86,72.46 474.3,71.81 C474.73,71.17 475.16,69.87 475.59,69.22 C476.02,68.57 476.46,67.93 476.89,67.93 C477.32,67.93 477.75,68.36 478.19,69.22 C478.62,70.09 479.05,71.9 479.48,73.11 C479.91,74.32 480.35,75.62 480.78,76.48 C481.21,77.35 481.64,77.56 482.07,78.3 C482.51,79.03 482.94,80.67 483.37,80.89 C483.8,81.1 484.3,79.38 484.67,79.59 C485.04,79.81 485.22,82.19 485.59,82.19 C485.96,82.19 486.46,80.67 486.89,79.59 C487.32,78.51 487.75,76.14 488.19,75.7 C488.62,75.27 489.05,76.35 489.48,77 C489.91,77.65 490.35,79.38 490.78,79.59 C491.21,79.81 491.64,78.73 492.07,78.3 C492.51,77.86 492.94,77.43 493.37,77 C493.8,76.57 494.23,75.7 494.67,75.7 C495.1,75.7 495.53,77 495.96,77 C496.4,77 496.83,76.35 497.26,75.7 C497.69,75.06 498.12,73.98 498.56,73.11 C498.99,72.25 499.42,70.3 499.85,70.52 C500.28,70.73 500.72,73.33 501.15,74.41 C501.58,75.49 502.01,77.65 502.44,77 C502.88,76.35 503.31,72.25 503.74,70.52 C504.17,68.79 504.6,66.85 505.04,66.63 C505.47,66.41 505.9,67.71 506.33,69.22 C506.77,70.73 507.2,73.98 507.63,75.7 C508.06,77.43 508.49,79.16 508.93,79.59 C509.36,80.02 509.79,78.94 510.22,78.3 C510.65,77.65 511.09,76.35 511.52,75.7 C511.95,75.06 512.38,74.41 512.81,74.41 C513.25,74.41 513.68,75.27 514.11,75.7 C514.54,76.14 514.98,77.22 515.41,77 C515.84,76.78 516.27,75.06 516.7,74.41 C517.14,73.76 517.57,73.02 518,73.11 C518.43,73.2 518.86,74.28 519.3,74.93 C519.73,75.57 520.16,76.74 520.59,77 C521.02,77.26 521.46,76.7 521.89,76.48 C522.32,76.27 522.75,75.7 523.19,75.7 C523.62,75.7 524.05,76.7 524.48,76.48 C524.91,76.27 525.35,74.67 525.78,74.41 C526.21,74.15 526.64,74.49 527.07,74.93 C527.51,75.36 527.94,76.87 528.37,77 C528.8,77.13 529.23,76.14 529.67,75.7 C530.1,75.27 530.53,74.41 530.96,74.41 C531.4,74.41 531.83,75.27 532.26,75.7 C532.69,76.14 533.12,77 533.56,77 C533.99,77 534.42,76.35 534.85,75.7 C535.28,75.06 535.72,73.76 536.15,73.11 C536.58,72.46 537.01,72.38 537.44,71.81 C537.88,71.25 538.31,69.52 538.74,69.74 C539.17,69.96 539.6,72.12 540.04,73.11 C540.47,74.1 540.9,74.62 541.33,75.7 C541.77,76.78 542.2,78.51 542.63,79.59 C543.06,80.67 543.49,81.97 543.93,82.19 C544.36,82.4 544.79,81.54 545.22,80.89 C545.65,80.24 546.09,79.16 546.52,78.3 C546.95,77.43 547.38,76.14 547.81,75.7 C548.25,75.27 548.68,75.49 549.11,75.7 C549.54,75.92 549.98,77 550.41,77 C550.84,77 551.27,75.7 551.7,75.7 C552.14,75.7 552.57,77 553,77 C553.43,77 553.86,76.22 554.3,75.7 C554.73,75.19 555.16,74.32 555.59,73.89 C556.02,73.46 556.46,72.81 556.89,73.11 C557.32,73.41 557.75,74.62 558.19,75.7 C558.62,76.78 559.05,78.51 559.48,79.59 C559.91,80.67 560.35,81.45 560.78,82.19 C561.21,82.92 561.86,83.7 562.07,84" fill="none" stroke="#0000f8" stroke-width="1.3" stroke-linejoin="round"/>
<line x1="442.3" y1="87" x2="442.3" y2="11.8" stroke="#ff22ff" stroke-width="1.25" stroke-dasharray="1.3,1.2"/>
<rect x="317.95" y="7.7" width="255.7" height="83.35" fill="none" stroke="#a4a4a4" stroke-width="0.95"/>
<line x1="316.55" y1="87" x2="318.25" y2="87" stroke="#777" stroke-width="0.9"/>
<text x="315.15" y="88.75" text-anchor="end" font-size="4.7" letter-spacing="-0.15" class="t">0</text>
<line x1="316.55" y1="76.84" x2="318.25" y2="76.84" stroke="#777" stroke-width="0.9"/>
<text x="315.15" y="78.59" text-anchor="end" font-size="4.7" letter-spacing="-0.15" class="t">20</text>
<line x1="316.55" y1="66.69" x2="318.25" y2="66.69" stroke="#777" stroke-width="0.9"/>
<text x="315.15" y="68.44" text-anchor="end" font-size="4.7" letter-spacing="-0.15" class="t">40</text>
<line x1="316.55" y1="56.53" x2="318.25" y2="56.53" stroke="#777" stroke-width="0.9"/>
<text x="315.15" y="58.28" text-anchor="end" font-size="4.7" letter-spacing="-0.15" class="t">60</text>
<line x1="316.55" y1="46.37" x2="318.25" y2="46.37" stroke="#777" stroke-width="0.9"/>
<text x="315.15" y="48.12" text-anchor="end" font-size="4.7" letter-spacing="-0.15" class="t">80</text>
<line x1="316.55" y1="36.21" x2="318.25" y2="36.21" stroke="#777" stroke-width="0.9"/>
<text x="315.15" y="37.96" text-anchor="end" font-size="4.7" letter-spacing="-0.15" class="t">100</text>
<line x1="316.55" y1="26.06" x2="318.25" y2="26.06" stroke="#777" stroke-width="0.9"/>
<text x="315.15" y="27.81" text-anchor="end" font-size="4.7" letter-spacing="-0.15" class="t">120</text>
<line x1="316.55" y1="15.9" x2="318.25" y2="15.9" stroke="#777" stroke-width="0.9"/>
<text x="315.15" y="17.65" text-anchor="end" font-size="4.7" letter-spacing="-0.15" class="t">140</text>
<line x1="329" y1="90.75" x2="329" y2="92.35" stroke="#8a8a8a" stroke-width="0.9"/>
<line x1="346.93" y1="90.75" x2="346.93" y2="92.35" stroke="#8a8a8a" stroke-width="0.9"/>
<line x1="364.86" y1="90.75" x2="364.86" y2="92.35" stroke="#8a8a8a" stroke-width="0.9"/>
<line x1="382.79" y1="90.75" x2="382.79" y2="92.35" stroke="#8a8a8a" stroke-width="0.9"/>
<line x1="400.72" y1="90.75" x2="400.72" y2="92.35" stroke="#8a8a8a" stroke-width="0.9"/>
<line x1="418.65" y1="90.75" x2="418.65" y2="92.35" stroke="#8a8a8a" stroke-width="0.9"/>
<line x1="436.58" y1="90.75" x2="436.58" y2="92.35" stroke="#8a8a8a" stroke-width="0.9"/>
<line x1="454.51" y1="90.75" x2="454.51" y2="92.35" stroke="#8a8a8a" stroke-width="0.9"/>
<line x1="472.44" y1="90.75" x2="472.44" y2="92.35" stroke="#8a8a8a" stroke-width="0.9"/>
<line x1="490.37" y1="90.75" x2="490.37" y2="92.35" stroke="#8a8a8a" stroke-width="0.9"/>
<line x1="508.3" y1="90.75" x2="508.3" y2="92.35" stroke="#8a8a8a" stroke-width="0.9"/>
<line x1="526.23" y1="90.75" x2="526.23" y2="92.35" stroke="#8a8a8a" stroke-width="0.9"/>
<line x1="544.16" y1="90.75" x2="544.16" y2="92.35" stroke="#8a8a8a" stroke-width="0.9"/>
<text x="445.8" y="5.9" text-anchor="middle" font-size="5.3" class="b" textLength="44.4" lengthAdjust="spacingAndGlyphs">Glasgow_Kerbside</text>
<text x="320.95" y="20.2" font-size="11.6" stroke="#000" stroke-width="0.05">(b)</text>
<text transform="translate(304.8,48.98) rotate(-90)" text-anchor="middle" font-size="5.6" fill="#1a1a1a">NO2 (&#956;gm<tspan dy="-2" font-size="3.9">-3</tspan><tspan dy="2">)</tspan></text>
<polyline points="29.6,184.2 29.7,185.5 29.8,185.2 29.9,186.2 30,186.8 30.1,185.4 30.2,184.6 30.3,178.4 30.5,176.7 30.6,174.2 30.7,180.4 30.8,182.1 30.9,183.7 31,183.1 31.1,183.3 31.2,183.1 31.3,180.1 31.4,180.7 31.5,176.7 31.6,179.4 31.7,178.9 31.8,180.1 31.9,183.8 32.1,183.7 32.2,184.6 32.3,184.7 32.4,186.7 32.5,187.4 32.6,186.3 32.7,186.7 32.8,184.2 32.9,179.4 33,176.5 33.1,178.2 33.2,178.8 33.3,182.1 33.4,181.6 33.5,182.7 33.7,181 33.8,181.6 33.9,178.9 34,178.1 34.1,175.2 34.2,176.5 34.3,178.2 34.4,179.3 34.5,179.3 34.6,180.9 34.7,181.1 34.8,182.6 34.9,185.1 35,185.4 35.1,184.7 35.3,182.9 35.4,179.3 35.5,178.3 35.6,176.3 35.7,176.7 35.8,177.9 35.9,179.3 36,179.7 36.1,178.8 36.2,178.2 36.3,177.1 36.4,176 36.5,174.7 36.6,173.1 36.8,173.1 36.9,173.7 37,172.8 37.1,173.2 37.2,172.4 37.3,171.2 37.4,178.4 37.5,179.3 37.6,182.1 37.7,184.1 37.8,179.7 37.9,171.9 38,154 38.1,132.1 38.2,138.4 38.4,147 38.5,159.5 38.6,163.5 38.7,159.6 38.8,160 38.9,157.7 39,152.9 39.1,150.1 39.2,146.7 39.3,147.2 39.4,152.2 39.5,150.2 39.6,156.5 39.7,153.5 39.8,160.6 40,162.4 40.1,168 40.2,165.4 40.3,168.1 40.4,164.8 40.5,153.8 40.6,147.6 40.7,144.6 40.8,146.1 40.9,153.1 41,156.9 41.1,155.4 41.2,153 41.3,156 41.4,152.5 41.6,152.5 41.7,151 41.8,149.1 41.9,149.7 42,149.9 42.1,151.2 42.2,151.8 42.3,154 42.4,157.5 42.5,157.1 42.6,165.2 42.7,171.5 42.8,166.6 42.9,168.2 43,151.8 43.2,145.5 43.3,133.2 43.4,134.8 43.5,148 43.6,148.6 43.7,155.9 43.8,159.2 43.9,156.7 44,153 44.1,152.1 44.2,151.4 44.3,150.7 44.4,154 44.5,156.8 44.6,160.3 44.8,161.3 44.9,164.2 45,166.6 45.1,169.1 45.2,171.3 45.3,172.4 45.4,173.1 45.5,174.4 45.6,171.9 45.7,170.7 45.8,170.5 45.9,171.8 46,173.4 46.1,175.8 46.2,176.9 46.4,177.1 46.5,178 46.6,177.3 46.7,177.7 46.8,176.9 46.9,176.9 47,177.6 47.1,178 47.2,178.6 47.3,179.2 47.4,179.3 47.5,180.6 47.6,181.9 47.7,182.1 47.9,183.8 48,185.2 48.1,184.8 48.2,182.4 48.3,179.3 48.4,178 48.5,177.8 48.6,180.3 48.7,181.9 48.8,182 48.9,181.6 49,182.9 49.1,182.4 49.2,181.6 49.3,180.8 49.5,179 49.6,179.9 49.7,181.2 49.8,182.1 49.9,183.1 50,183.6 50.1,182.9 50.2,184.1 50.3,184.2 50.4,184.8 50.5,185.2 50.6,184 50.7,182.8 50.8,177.8 50.9,174.6 51.1,174.1 51.2,179.7 51.3,181.3 51.4,182.6 51.5,181.5 51.6,182.4 51.7,181.7 51.8,179.9 51.9,178.6 52,176.2 52.1,175.5 52.2,176.3 52.3,179.6 52.4,180.9 52.5,180.6 52.7,181.8 52.8,183.8 52.9,184.8 53,184.5 53.1,183.8 53.2,183 53.3,181.9 53.4,177.2 53.5,174.4 53.6,176.2 53.7,177.5 53.8,179.5 53.9,179.2 54,180.5 54.1,178.8 54.3,178.3 54.4,178.1 54.5,177.6 54.6,175.8 54.7,176.8 54.8,176.8 54.9,177.3 55,177.9 55.1,177.7 55.2,181 55.3,182.4 55.4,184.8 55.5,184.2 55.6,184.3 55.7,183.9 55.9,177.8 56,175.5 56.1,173.3 56.2,174.2 56.3,174.2 56.4,175.7 56.5,177.7 56.6,177.4 56.7,174.4 56.8,173.6 56.9,173.1 57,172.7 57.1,171 57.2,171.3 57.3,172.3 57.5,172.3 57.6,172.2 57.7,174.5 57.8,171.9 57.9,178.1 58,176.9 58.1,179.4 58.2,179.8 58.3,179 58.4,170.9 58.5,168.7 58.6,166 58.7,167.4 58.8,170 58.9,170.5 59.1,171.5 59.2,172.7 59.3,171.9 59.4,169.9 59.5,169.3 59.6,169.1 59.7,168.5 59.8,168.9 59.9,169.7 60,170.4 60.1,170.8 60.2,173.5 60.3,172.2 60.4,174.3 60.6,176.8 60.7,179.3 60.8,177.9 60.9,178.3 61,175 61.1,168.8 61.2,162.5 61.3,163.5 61.4,169.3 61.5,175.4 61.6,175.6 61.7,178.2 61.8,177.4 61.9,176.8 62,176.3 62.2,174.8 62.3,171.8 62.4,173.3 62.5,176.8 62.6,178.2 62.7,178.1 62.8,179.6 62.9,181.1 63,182.6 63.1,183.1 63.2,184.6 63.3,183.8 63.4,184.1 63.5,182.2 63.6,177.9 63.8,175.8 63.9,178.6 64,181.3 64.1,183.3 64.2,182.6 64.3,183.1 64.4,183.5 64.5,183.2 64.6,182.8 64.7,181.4 64.8,179.4 64.9,179.8 65,180.9 65.1,181.6 65.2,183.1 65.4,183.6 65.5,183.9 65.6,184.4 65.7,184.1 65.8,184.5 65.9,185.1 66,184.1 66.1,182.8 66.2,181.3 66.3,180 66.4,179.6 66.5,181.6 66.6,182.6 66.7,181.9 66.8,182.4 67,182.2 67.1,181.4 67.2,181.2 67.3,180.6 67.4,178.9 67.5,179.4 67.6,180.6 67.7,180.5 67.8,180.5 67.9,181.2 68,182 68.1,181.8 68.2,182.3 68.3,183.2 68.4,183.5 68.6,182 68.7,180.2 68.8,178.9 68.9,176.5 69,177.2 69.1,179.3 69.2,180.5 69.3,180.4 69.4,180 69.5,179.9 69.6,179.4 69.7,179.4 69.8,178.5 69.9,177.4 70,177.6 70.2,178.3 70.3,178.1 70.4,179.4 70.5,178.6 70.6,179.5 70.7,180.8 70.8,181.9 70.9,181.2 71,181.5 71.1,181.6 71.2,178.7 71.3,177.8 71.4,176.9 71.5,177.6 71.7,177.9 71.8,178.6 71.9,178.2 72,178 72.1,177.9 72.2,177.8 72.3,177.6 72.4,177.1 72.5,176.9 72.6,176.9 72.7,176.9 72.8,177.1 72.9,176.9 73,178 73.1,178.1 73.3,178.9 73.4,178.9 73.5,179.3 73.6,179.3 73.7,179 73.8,176.7 73.9,174.3 74,171.3 74.1,173.6 74.2,174.8 74.3,175.9 74.4,176.2 74.5,175.6 74.6,176.2 74.7,175 74.9,175 75,174.4 75.1,173.4 75.2,173.9 75.3,174.9 75.4,175.6 75.5,175.4 75.6,176.5 75.7,177.7 75.8,179.2 75.9,179.2 76,181.4 76.1,181.9 76.2,180 76.3,178.9 76.5,177.2 76.6,176.8 76.7,176.8 76.8,177.7 76.9,178.5 77,179.2 77.1,180 77.2,178.8 77.3,178.9 77.4,178.7 77.5,178.8 77.6,178.3 77.7,178.9 77.8,179 77.9,178.8 78.1,179 78.2,179.1 78.3,180.1 78.4,180.2 78.5,180.6 78.6,181.7 78.7,181.3 78.8,181.4 78.9,178.9 79,177.5 79.1,175.5 79.2,176.6 79.3,178 79.4,179.7 79.5,179.6 79.7,179.7 79.8,180.4 79.9,179.7 80,179.2 80.1,178.9 80.2,178.3 80.3,178.6 80.4,179.5 80.5,180.3 80.6,180.7 80.7,180.7 80.8,181.6 80.9,181.9 81,182.7 81.1,183.5 81.3,184.6 81.4,183.6 81.5,183 81.6,178.2 81.7,175.5 81.8,177.3 81.9,181.3 82,181.4 82.1,183.1 82.2,182.5 82.3,182.8 82.4,183 82.5,180.7 82.6,180.4 82.7,178.1 82.9,179.2 83,180.6 83.1,180.5 83.2,182.4 83.3,181.4 83.4,183.3 83.5,184.1 83.6,183.6 83.7,185 83.8,185.1 83.9,183.9 84,181.6 84.1,171.6 84.2,165.2 84.4,167.6 84.5,172.8 84.6,179.3 84.7,178.8 84.8,179.6 84.9,177.9 85,177.1 85.1,176.2 85.2,175.7 85.3,174.2 85.4,173 85.5,174.9 85.6,175.5 85.7,175.8 85.8,177.7 86,178.2 86.1,180.7 86.2,179.6 86.3,182.7 86.4,182 86.5,180.6 86.6,178.8 86.7,172.7 86.8,170.4 86.9,172.7 87,176.5 87.1,176.3 87.2,179.2 87.3,179.3 87.4,179.3 87.6,179.8 87.7,177.6 87.8,176.6 87.9,175 88,177.2 88.1,178.8 88.2,179.3 88.3,179.3 88.4,180 88.5,180 88.6,181.4 88.7,181.9 88.8,182 88.9,183 89,181.6 89.2,180.4 89.3,176.3 89.4,175.4 89.5,175.8 89.6,177.2 89.7,178.8 89.8,179.1 89.9,178.7 90,178.9 90.1,177.7 90.2,177.6 90.3,175.2 90.4,174.6 90.5,174.1 90.6,175.3 90.8,175.7 90.9,176.2 91,177.3 91.1,177 91.2,179.6 91.3,180.5 91.4,183.3 91.5,183.1 91.6,180.4 91.7,178.7 91.8,165.8 91.9,143.6 92,148.6 92.1,171.6 92.2,176.7 92.4,174.3 92.5,177.1 92.6,177.6 92.7,175.9 92.8,169.9 92.9,168.2 93,159.4 93.1,162 93.2,167.6 93.3,170.1 93.4,170.4 93.5,176.7 93.6,174.5 93.7,175.8 93.8,176.4 94,177.5 94.1,176.6 94.2,176.6 94.3,173.3 94.4,159.7 94.5,135.2 94.6,140.9 94.7,163.8 94.8,172.3 94.9,173.3 95,172.3 95.1,171.9 95.2,172.1 95.3,166.8 95.5,160.7 95.6,159.4 95.7,156.7 95.8,160.9 95.9,170.1 96,171.5 96.1,172.5 96.2,173.7 96.3,175.5 96.4,176.4 96.5,178 96.6,177.4 96.7,176.5 96.8,174.7 96.9,171.5 97.1,170.6 97.2,170.9 97.3,172.7 97.4,173 97.5,173.4 97.6,173.7 97.7,175.6 97.8,175.1 97.9,174.2 98,174.4 98.1,174.1 98.2,174.8 98.3,175.3 98.4,175.9 98.5,176 98.7,176.9 98.8,177 98.9,179.5 99,181.4 99.1,182.1 99.2,181.7 99.3,182.2 99.4,179.2 99.5,175.3 99.6,172.5 99.7,173.8 99.8,178.6 99.9,179.9 100,180.1 100.1,182.3 100.3,181.7 100.4,180.1 100.5,179.4 100.6,180.4 100.7,177.9 100.8,179 100.9,180 101,181.8 101.1,183.4 101.2,183.8 101.3,183.4 101.4,184.1 101.5,184.5 101.6,185.6 101.7,185.5 101.9,185.4 102,184.1 102.1,172.1 102.2,161.1 102.3,159.2 102.4,178.4 102.5,179.3 102.6,183.3 102.7,182.8 102.8,181 102.9,181.9 103,172.6 103.1,172.8 103.2,155.1 103.3,168.3 103.5,166.8 103.6,174.2 103.7,178.7 103.8,178.3 103.9,178.4 104,179.7 104.1,178.6 104.2,180.3 104.3,180.1 104.4,179.1 104.5,173.8 104.6,167.7 104.7,157.2 104.8,158.3 104.9,168.5 105.1,169.8 105.2,172.2 105.3,172.3 105.4,171.8 105.5,169.2 105.6,165.3 105.7,165.1 105.8,160.4 105.9,160.2 106,164.2 106.1,165.8 106.2,165.5 106.3,166.3 106.4,166.5 106.5,168.5 106.7,171 106.8,171.2 106.9,170.5 107,171.5 107.1,166.8 107.2,157.2 107.3,154.9 107.4,151.8 107.5,165.1 107.6,167.4 107.7,166.9 107.8,169.8 107.9,168.3 108,167.6 108.2,163.4 108.3,162.3 108.4,156.4 108.5,158.2 108.6,162.4 108.7,164.6 108.8,165.9 108.9,165.6 109,168.2 109.1,170.8 109.2,169.7 109.3,175.2 109.4,172.8 109.5,173.8 109.6,164.2 109.8,162.5 109.9,160.1 110,160.2 110.1,163.5 110.2,165.8 110.3,163.7 110.4,164.5 110.5,163.4 110.6,163.2 110.7,161.9 110.8,161.1 110.9,159.2 111,159.7 111.1,159.8 111.2,160.6 111.4,161 111.5,160.4 111.6,164.8 111.7,169.3 111.8,169 111.9,171.3 112,170.8 112.1,170 112.2,161.2 112.3,155.7 112.4,154.8 112.5,153.9 112.6,154.9 112.7,155.1 112.8,155 113,158.5 113.1,154.3 113.2,153.8 113.3,153.5 113.4,151.8 113.5,151 113.6,150.9 113.7,151.5 113.8,152 113.9,151.3 114,154.4 114.1,153.6 114.2,155.1 114.3,160.3 114.4,159.2 114.6,163.1 114.7,158.8 114.8,151.2 114.9,141.1 115,138.3 115.1,140 115.2,141.8 115.3,150.5 115.4,152 115.5,153.3 115.6,151.6 115.7,150 115.8,149 115.9,147.8 116,143.7 116.2,146.4 116.3,152.2 116.4,152 116.5,155.5 116.6,159.5 116.7,164.6 116.8,166.6 116.9,170 117,172 117.1,174.1 117.2,173.1 117.3,171.6 117.4,154.7 117.5,147.5 117.6,155 117.8,166.9 117.9,169.7 118,173.1 118.1,174.6 118.2,175.9 118.3,177.1 118.4,175.4 118.5,169 118.6,166.5 118.7,168.9 118.8,175.1 118.9,178 119,177.5 119.1,182.4 119.3,182.3 119.4,183.7 119.5,184.7 119.6,186.3 119.7,186.1 119.8,185.7 119.9,184.5 120,180.5 120.1,179.5 120.2,181.2 120.3,181.4 120.4,184.2 120.5,184.5 120.6,185.1 120.7,185 120.9,183.8 121,183.4 121.1,182.7 121.2,182 121.3,182.3 121.4,182.1 121.5,183.1 121.6,182.7 121.7,183 121.8,183.3 121.9,183.5 122,183.8 122.1,184 122.2,184 122.3,184.2 122.5,183.3 122.6,182.6 122.7,181.9 122.8,182.4 122.9,182.8 123,183.3 123.1,183.4 123.2,183.6 123.3,183.6 123.4,183.3 123.5,183.1 123.6,182.8 123.7,182.5 123.8,182.3 123.9,182.9 124.1,183.2 124.2,183.2 124.3,183.1 124.4,183.1 124.5,184.4 124.6,185.6 124.7,186.2 124.8,186 124.9,185.9 125,183.9 125.1,181 125.2,179.4 125.3,180.4 125.4,180.9 125.5,181.3 125.7,182.6 125.8,182.7 125.9,181.7 126,181.1 126.1,180.2 126.2,179.7 126.3,179.5 126.4,179.6 126.5,180.3 126.6,181.1 126.7,180.8 126.8,182.2 126.9,181.7 127,182.3 127.1,182.2 127.3,182.9 127.4,182.8 127.5,182.7 127.6,182.1 127.7,181.6 127.8,181.2 127.9,181.4 128,182 128.1,182.3 128.2,182.6 128.3,182.9 128.4,182.8 128.5,182.6 128.6,182.8 128.7,182.5 128.9,182.2 129,182.2 129.1,182.3 129.2,182.2 129.3,182.1 129.4,182.1 129.5,182.5 129.6,184.2 129.7,184.1 129.8,184.8 129.9,184.4 130,184.8 130.1,182.3 130.2,180.4 130.3,178.7 130.5,179.6 130.6,181.9 130.7,181.9 130.8,182.3 130.9,182.9 131,183.5 131.1,182.4 131.2,181.6 131.3,180.5 131.4,179.5 131.5,180.8 131.6,180.2 131.7,180.8 131.8,181.7 132,181 132.1,181.9 132.2,183.3 132.3,184.1 132.4,183.8 132.5,184.3 132.6,183.5 132.7,180 132.8,161.9 132.9,153.8 133,153.8 133.1,169 133.2,170.4 133.3,176.9 133.4,175.6 133.6,174.6 133.7,169.5 133.8,162.6 133.9,159.5 134,152.5 134.1,155.1 134.2,162.4 134.3,165.2 134.4,167.2 134.5,175.2 134.6,174.6 134.7,176.5 134.8,176.8 134.9,177.5 135,178.8 135.2,178.7 135.3,178.1 135.4,169.2 135.5,163.9 135.6,166.6 135.7,176.1 135.8,179 135.9,178.5 136,180.5 136.1,179.4 136.2,181.4 136.3,178 136.4,175 136.5,170.3 136.6,169.7 136.8,176.7 136.9,176.5 137,177.3 137.1,177.9 137.2,179.6 137.3,182.9 137.4,181.9 137.5,183.9 137.6,183.7 137.7,181.4 137.8,180.3 137.9,176.9 138,175.6 138.1,175.8 138.2,176.4 138.4,176.3 138.5,176.5 138.6,177.6 138.7,175.4 138.8,175 138.9,174.7 139,173.7 139.1,172.9 139.2,173.1 139.3,172.7 139.4,172.7 139.5,173 139.6,174.1 139.7,172.4 139.8,173.2 140,173.8 140.1,173.8 140.2,173.6 140.3,174.3 140.4,171.9 140.5,160.2 140.6,157.4 140.7,158.2 140.8,167.2 140.9,171.4 141,175.1 141.1,176.3 141.2,176.7 141.3,174.7 141.4,175.3 141.6,166.8 141.7,161.7 141.8,169.3 141.9,170.7 142,174.1 142.1,179.8 142.2,178.4 142.3,180.4 142.4,180.7 142.5,181.6 142.6,181.8 142.7,182.8 142.8,182.6 142.9,181.2 143,171.4 143.2,169.6 143.3,173 143.4,175.1 143.5,181.1 143.6,180.5 143.7,181 143.8,180.5 143.9,178.6 144,176.4 144.1,175.7 144.2,172.8 144.3,175.2 144.4,176 144.5,177.2 144.7,175.9 144.8,176.4 144.9,180.1 145,181.2 145.1,183 145.2,184.4 145.3,182.3 145.4,182.2 145.5,174.6 145.6,160.9 145.7,140.2 145.8,147.5 145.9,161.5 146,168.8 146.1,165.7 146.3,165.7 146.4,167.5 146.5,163.4 146.6,157.3 146.7,156.6 146.8,150 146.9,154.1 147,155.3 147.1,156.1 147.2,163.4 147.3,163.2 147.4,162.3 147.5,164.4 147.6,168.3 147.7,171.5 147.9,170.4 148,168.5 148.1,162.6 148.2,146.8 148.3,138 148.4,141 148.5,158.6 148.6,164.7 148.7,165.7 148.8,164.2 148.9,163.9 149,160.8 149.1,161.7 149.2,153.1 149.3,153.7 149.5,151 149.6,158.8 149.7,160.6 149.8,168.2 149.9,166.3 150,171.9 150.1,172.9 150.2,177.1 150.3,177 150.4,179.2 150.5,178.5 150.6,175.3 150.7,172.3 150.8,172.1 150.9,173.3 151.1,173.8 151.2,176.1 151.3,176.8 151.4,177.4 151.5,177 151.6,176.6 151.7,176.8 151.8,177.1 151.9,177 152,177.6 152.1,178.2 152.2,178.4 152.3,178.8 152.4,179.8 152.5,180.2 152.7,181.6 152.8,181.3 152.9,182.6 153,183.2 153.1,183 153.2,181.7 153.3,176.7 153.4,170.3 153.5,172.7 153.6,175.1 153.7,180.5 153.8,181.5 153.9,181.8 154,181.4 154.1,180.4 154.3,177.9 154.4,175.8 154.5,175.4 154.6,174.9 154.7,177.6 154.8,178.4 154.9,179.5 155,180.9 155.1,181.3 155.2,181.4 155.3,182.5 155.4,184.8 155.5,185.8 155.6,183.4 155.8,179.9 155.9,175.6 156,171.3 156.1,171 156.2,178.2 156.3,177.5 156.4,178.8 156.5,179.7 156.6,178.7 156.7,177.9 156.8,176.4 156.9,174 157,168.7 157.1,171 157.2,171.9 157.4,174.3 157.5,173.8 157.6,175.3 157.7,178.3 157.8,177.1 157.9,180.1 158,182.3 158.1,182 158.2,181.9 158.3,174.5 158.4,164.8 158.5,150.1 158.6,160 158.7,164.1 158.8,164.9 159,167 159.1,167.2 159.2,168.2 159.3,166.3 159.4,161.8 159.5,160.5 159.6,154.5 159.7,157.6 159.8,158.1 159.9,160.4 160,160.9 160.1,161.7 160.2,163.8 160.3,167.3 160.4,167.3 160.6,168.8 160.7,168.7 160.8,169 160.9,166.8 161,163.6 161.1,162.7 161.2,163.3 161.3,165.5 161.4,167.7 161.5,166.9 161.6,168.6 161.7,168.1 161.8,168.6 161.9,167.7 162,166.7 162.2,165.8 162.3,166.8 162.4,168.2 162.5,168.6 162.6,169.6 162.7,171.2 162.8,173.5 162.9,175.7 163,177.5 163.1,180.5 163.2,180.4 163.3,177.3 163.4,172.9 163.5,169.5 163.6,164.5 163.8,168 163.9,169.4 164,174 164.1,174.5 164.2,173.3 164.3,170.9 164.4,169.3 164.5,166.1 164.6,163.8 164.7,162.6 164.8,161.6 164.9,162.1 165,162.7 165.1,163.9 165.2,162.4 165.4,165.5 165.5,168.5 165.6,168.8 165.7,167.9 165.8,172.7 165.9,166.2 166,162.3 166.1,151.2 166.2,122.5 166.3,138.1 166.4,154.2 166.5,161.1 166.6,161.2 166.7,163.2 166.8,162.7 167,160.7 167.1,157.7 167.2,155.8 167.3,153.1 167.4,154.3 167.5,156.2 167.6,158.9 167.7,163.2 167.8,162.7 167.9,166.7 168,170 168.1,169.7 168.2,172.5 168.3,175.5 168.5,172.4 168.6,169.5 168.7,168.1 168.8,162.2 168.9,166.2 169,169.6 169.1,171.3 169.2,174.2 169.3,174.6 169.4,174.3 169.5,175.1 169.6,173.4 169.7,173 169.8,170.1 169.9,173.6 170.1,174.4 170.2,177.4 170.3,178.1 170.4,179.8 170.5,178.6 170.6,180.3 170.7,180.4 170.8,180.8 170.9,182.1 171,181.7 171.1,179.9 171.2,177.2 171.3,173.3 171.4,176.3 171.5,179 171.7,179.3 171.8,181.1 171.9,180.5 172,180.5 172.1,181.1 172.2,180 172.3,178.3 172.4,178.5 172.5,178 172.6,179.3 172.7,180.1 172.8,181.2 172.9,182.4 173,182.2 173.1,184.1 173.3,184.2 173.4,185.5 173.5,185.4 173.6,186 173.7,182.3 173.8,174.5 173.9,161.4 174,168.3 174.1,174.4 174.2,183.1 174.3,183 174.4,184 174.5,182.9 174.6,182.9 174.7,179.2 174.9,177.8 175,175.9 175.1,175.3 175.2,177.3 175.3,178.6 175.4,182.4 175.5,181.5 175.6,181.5 175.7,182.6 175.8,182.7 175.9,182.7 176,183.3 176.1,183 176.2,180.6 176.3,174 176.5,167.1 176.6,169.6 176.7,170.7 176.8,177.9 176.9,180.2 177,180.2 177.1,178.2 177.2,177 177.3,174.9 177.4,173.9 177.5,167.4 177.6,166.4 177.7,175.1 177.8,174.8 177.9,177.8 178.1,175.1 178.2,177.8 178.3,182.6 178.4,181.4 178.5,183.6 178.6,184.1 178.7,183.7 178.8,177.4 178.9,170.4 179,168.9 179.1,167.2 179.2,173 179.3,175.9 179.4,176.7 179.6,176.1 179.7,174.8 179.8,173.6 179.9,170.9 180,170 180.1,167.1 180.2,166.7 180.3,171.5 180.4,173.5 180.5,173.8 180.6,175.3 180.7,174.4 180.8,176.1 180.9,176.4 181,177.5 181.2,178 181.3,177.8 181.4,177.2 181.5,171 181.6,169.1 181.7,169.7 181.8,174.5 181.9,176.5 182,178.6 182.1,178.6 182.2,177.8 182.3,177 182.4,175.6 182.5,176.4 182.6,174.2 182.8,175.6 182.9,175.6 183,176.7 183.1,178.1 183.2,178.4 183.3,179.6 183.4,181.5 183.5,183.1 183.6,184.7 183.7,184.3 183.8,183.3 183.9,180.4 184,174.2 184.1,170.6 184.2,171.7 184.4,174.6 184.5,177.3 184.6,177.8 184.7,177.9 184.8,177.5 184.9,174.7 185,175.6 185.1,174.3 185.2,170.8 185.3,172.3 185.4,173.3 185.5,173.8 185.6,175 185.7,176.6 185.8,177.7 186,179.5 186.1,181.7 186.2,184.4 186.3,182.3 186.4,181.2 186.5,179.2 186.6,174.2 186.7,168.8 186.8,169.8 186.9,174.6 187,177 187.1,178.2 187.2,176.4 187.3,175.8 187.4,174.6 187.6,175.5 187.7,172.2 187.8,168.5 187.9,170.4 188,173.1 188.1,175.4 188.2,177.2 188.3,176.1 188.4,177.6 188.5,178.2 188.6,179.2 188.7,181.1 188.8,182.9 188.9,181 189,178.7 189.2,176.8 189.3,175.2 189.4,176.2 189.5,178.3 189.6,179.5 189.7,180.1 189.8,180.1 189.9,180.7 190,180.1 190.1,179.7 190.2,180 190.3,179.2 190.4,180.2 190.5,180.4 190.6,180.8 190.8,181.8 190.9,182 191,182.5 191.1,184.1 191.2,185.4 191.3,186 191.4,185.8 191.5,185.8 191.6,183.7 191.7,181 191.8,178.9 191.9,180 192,181.8 192.1,182 192.3,182.7 192.4,181.8 192.5,182.4 192.6,181.4 192.7,180.6 192.8,179.4 192.9,179.2 193,179.3 193.1,179.6 193.2,179.6 193.3,179.5 193.4,179.6 193.5,180.4 193.6,180.7 193.7,181.2 193.9,183.4 194,182.2 194.1,182.6 194.2,176.9 194.3,175.3 194.4,173.4 194.5,173.9 194.6,175 194.7,176.1 194.8,174.5 194.9,175.5 195,173.8 195.1,173.2 195.2,172.5 195.3,171.8 195.5,170.9 195.6,170.6 195.7,170.4 195.8,170.2 195.9,171 196,169.5 196.1,171.8 196.2,171.2 196.3,173.3 196.4,175.3 196.5,175.8 196.6,173.5 196.7,168.3 196.8,164.5 196.9,162.4 197.1,162.5 197.2,163.3 197.3,163.4 197.4,163.7 197.5,165.9 197.6,165.4 197.7,163.1 197.8,162.1 197.9,161.5 198,160.8 198.1,160.7 198.2,160.6 198.3,160.6 198.4,160.2 198.5,160.2 198.7,165.7 198.8,165.6 198.9,175.3 199,173.9 199.1,178 199.2,169.6 199.3,164.1 199.4,154.4 199.5,146.7 199.6,145.4 199.7,151.5 199.8,158.4 199.9,159.9 200,164.8 200.1,164.4 200.3,162.9 200.4,159 200.5,160.2 200.6,157.6 200.7,159.5 200.8,161.7 200.9,162.5 201,163.1 201.1,168.3 201.2,167.4 201.3,171.5 201.4,171.2 201.5,176.2 201.6,177.4 201.7,176.5 201.9,171.9 202,166.6 202.1,162.2 202.2,163.9 202.3,168.2 202.4,173.5 202.5,176.1 202.6,174 202.7,176.9 202.8,174.7 202.9,174.4 203,171.3 203.1,168.5 203.2,172.3 203.4,174 203.5,173.9 203.6,175.7 203.7,178.8 203.8,178.7 203.9,179 204,180.7 204.1,182 204.2,182.4 204.3,181.1 204.4,179.2 204.5,174.7 204.6,171 204.7,172.4 204.8,176 205,176.6 205.1,178.8 205.2,178.5 205.3,176.8 205.4,175.9 205.5,174.7 205.6,173.5 205.7,172 205.8,172.3 205.9,174.3 206,176.4 206.1,177.1 206.2,178.2 206.3,178 206.4,180.2 206.6,179.9 206.7,180.7 206.8,181.2 206.9,180.4 207,179.2 207.1,175.4 207.2,168.6 207.3,170.7 207.4,176.4 207.5,178.7 207.6,179.4 207.7,178.2 207.8,178.7 207.9,177 208,177.1 208.2,175.8 208.3,173.7 208.4,173.9 208.5,174.9 208.6,176.8 208.7,177 208.8,178.6 208.9,179.4 209,180.8 209.1,180.8 209.2,181.9 209.3,183.3 209.4,183.3 209.5,181.6 209.6,164.8 209.8,164.3 209.9,160.6 210,174.8 210.1,181.2 210.2,182.1 210.3,182.6 210.4,182.3 210.5,182.5 210.6,173.9 210.7,175.8 210.8,169 210.9,168 211,173.3 211.1,175.3 211.2,179.6 211.4,179.8 211.5,182.4 211.6,184 211.7,183.8 211.8,183.7 211.9,184.7 212,183.1 212.1,180.2 212.2,178.1 212.3,176.8 212.4,176.9 212.5,178.4 212.6,178 212.7,178.3 212.8,178.2 213,178.3 213.1,177.2 213.2,176.8 213.3,176 213.4,175.6 213.5,175.2 213.6,175.2 213.7,175.2 213.8,175 213.9,174.8 214,174.7 214.1,175.8 214.2,176.7 214.3,176.6 214.4,177.9 214.6,176.7 214.7,173.7 214.8,171.2 214.9,170.2 215,169.6 215.1,171.4 215.2,173.2 215.3,173.3 215.4,173.5 215.5,172.3 215.6,172 215.7,171.4 215.8,170.3 215.9,169.6 216.1,168.9 216.2,169.7 216.3,170.5 216.4,171.1 216.5,171.7 216.6,170.9 216.7,175.5 216.8,177.1 216.9,183.7 217,184.5 217.1,180.8 217.2,174.9 217.3,167.6 217.4,163 217.5,164.5 217.7,166.9 217.8,171.4 217.9,172.4 218,173.9 218.1,171.7 218.2,170.4 218.3,167.8 218.4,167.1 218.5,165.1 218.6,165.7 218.7,166.3 218.8,167.1 218.9,166.8 219,167.1 219.1,169.4 219.3,172.5 219.4,172.1 219.5,172.8 219.6,175.1 219.7,170.6 219.8,165.6 219.9,163.3 220,161.8 220.1,164 220.2,167.3 220.3,169.4 220.4,169 220.5,169.4 220.6,172.6 220.7,172 220.9,170.9 221,170.7 221.1,169.9 221.2,171.5 221.3,171.9 221.4,173.5 221.5,173.9 221.6,176.2 221.7,176.7 221.8,178.4 221.9,182.6 222,182.9 222.1,183.3 222.2,181.4 222.3,177.8 222.5,176.1 222.6,172 222.7,171.4 222.8,176.3 222.9,177 223,180 223.1,181.1 223.2,178.5 223.3,179 223.4,178.1 223.5,177.8 223.6,176.6 223.7,176.8 223.8,177.8 223.9,178.6 224.1,180.2 224.2,179.9 224.3,182 224.4,183.4 224.5,184.1 224.6,186.2 224.7,185.6 224.8,184.7 224.9,183 225,179.4 225.1,179.2 225.2,178.9 225.3,180.2 225.4,181.5 225.5,182.2 225.7,180.4 225.8,180.4 225.9,180.3 226,179.8 226.1,179.3 226.2,178.7 226.3,179.1 226.4,179.5 226.5,179.4 226.6,179.3 226.7,179.5 226.8,180.1 226.9,180.6 227,182.4 227.2,181.8 227.3,183.6 227.4,181.9 227.5,179.7 227.6,177.5 227.7,173.3 227.8,175.5 227.9,178.5 228,179.4 228.1,179.5 228.2,180 228.3,180.7 228.4,179.8 228.5,177.9 228.6,177.9 228.8,176 228.9,175.7 229,176.7 229.1,177.4 229.2,179.5 229.3,180.3 229.4,180.7 229.5,180.9 229.6,181.9 229.7,181.9 229.8,181.6 229.9,182.2 230,180.5 230.1,175.8 230.2,174.8 230.4,175.7 230.5,178 230.6,178.3 230.7,180.4 230.8,180.7 230.9,180.4 231,180.3 231.1,179.3 231.2,177.6 231.3,176.7 231.4,176.5 231.5,178.7 231.6,179.5 231.7,179.1 231.8,179.9 232,180.1 232.1,182.4 232.2,184 232.3,183.7 232.4,183.7 232.5,183.3 232.6,180.1 232.7,175.5 232.8,172.8 232.9,174.5 233,178 233.1,178.8 233.2,179.1 233.3,178.6 233.4,178.3 233.6,178.3 233.7,178.1 233.8,177.5 233.9,176.2 234,176.4 234.1,177.5 234.2,177.4 234.3,177.4 234.4,178.7 234.5,178.1 234.6,181.6 234.7,182.3 234.8,181.5 234.9,184.6 235,182.7 235.2,178.8 235.3,174.8 235.4,172.7 235.5,172.9 235.6,175.7 235.7,178.7 235.8,179 235.9,179.3 236,177.9 236.1,177.8 236.2,176.2 236.3,175.3 236.4,174.7 236.5,174.3 236.6,175.5 236.8,175.3 236.9,176.5 237,176.4 237.1,179.6 237.2,180.7 237.3,181.8 237.4,181.2 237.5,183.1 237.6,183.3 237.7,178 237.8,174.8 237.9,173.7 238,174.6 238.1,174.8 238.2,175.9 238.4,176.1 238.5,176.8 238.6,176.3 238.7,175 238.8,174.8 238.9,174.5 239,174.2 239.1,174.6 239.2,175.2 239.3,175.6 239.4,175.5 239.5,175.9 239.6,176 239.7,177.9 239.9,179.6 240,179.9 240.1,180.4 240.2,180.4 240.3,176.6 240.4,170.8 240.5,166.9 240.6,172.5 240.7,175.3 240.8,178.5 240.9,177.9 241,178.1 241.1,178.1 241.2,177.4 241.3,178.2 241.5,177.3 241.6,175.5 241.7,174.6 241.8,175.9 241.9,177.3 242,178.7 242.1,177.9 242.2,178.1 242.3,179.5 242.4,179.4 242.5,179.7 242.6,180.1 242.7,179.1 242.8,177.9 242.9,173.7 243.1,170.8 243.2,174.6 243.3,175.6 243.4,178.5 243.5,178.7 243.6,178.9 243.7,178.1 243.8,178.9 243.9,178 244,177.7 244.1,175.4 244.2,176.7 244.3,177.2 244.4,178 244.5,178.2 244.7,179.1 244.8,178.8 244.9,181.7 245,181.3 245.1,182.6 245.2,183.4 245.3,182.8 245.4,179.3 245.5,177.4 245.6,175.5 245.7,175.9 245.8,178.3 245.9,180 246,178.9 246.1,179.2 246.3,179.3 246.4,179.5 246.5,178.1 246.6,177.1 246.7,176.4 246.8,177.5 246.9,177.8 247,178.6 247.1,179.3 247.2,180.3 247.3,181.3 247.4,182.8 247.5,183.1 247.6,185.7 247.7,185.4 247.9,183.4 248,179.8 248.1,173.9 248.2,171.7 248.3,172.9 248.4,176.4 248.5,177.7 248.6,179.7 248.7,181.2 248.8,178.2 248.9,177.7 249,178.4 249.1,177.1 249.2,175.1 249.3,175.1 249.5,177.7 249.6,179 249.7,178.9 249.8,181.3 249.9,180.8 250,181.4 250.1,182.1 250.2,182.6 250.3,182.9 250.4,182.5 250.5,181 250.6,179.4 250.7,176.3 250.8,176.9 251,178.9 251.1,180.4 251.2,180.2 251.3,179.3 251.4,179.6 251.5,179.2 251.6,178.1 251.7,177.4 251.8,177.2 251.9,177.1 252,177.6 252.1,178.4 252.2,178.7 252.3,178.8 252.4,180 252.6,182.1 252.7,183.1 252.8,182.3 252.9,182.7 253,181.9 253.1,181.2 253.2,175.6 253.3,174.4 253.4,175.2 253.5,178.8 253.6,178.6 253.7,179.6 253.8,179.8 253.9,180.6 254,178.7 254.2,179.3 254.3,177.5 254.4,175.7 254.5,177.5 254.6,178.5 254.7,180 254.8,179.4 254.9,181.4 255,181.1 255.1,182.5 255.2,182.7 255.3,183.7 255.4,185.1 255.5,183.8 255.6,182.3 255.8,179.9 255.9,178.5 256,179.3 256.1,180.5 256.2,180.6 256.3,181.3 256.4,182.6 256.5,182.2 256.6,181.2 256.7,181 256.8,180.9 256.9,180.3 257,180.3 257.1,180.8 257.2,181.5 257.4,181.3 257.5,182.4 257.6,181.6 257.7,183.1 257.8,183.6 257.9,184 258,183.9 258.1,183.3 258.2,182.2 258.3,178.3 258.4,174.1 258.5,175.9 258.6,178.4 258.7,180.6 258.8,182.2 259,183.1 259.1,182.7 259.2,182.3 259.3,181.9 259.4,179.4 259.5,178.9 259.6,178.8 259.7,180.7 259.8,181.8 259.9,182.1 260,182.8 260.1,184.2 260.2,184.6 260.3,185.7 260.4,185.7 260.6,186.9 260.7,186.4 260.8,185 260.9,167.8 261,150.5 261.1,160.5 261.2,179.9 261.3,183.1 261.4,183.9 261.5,183.7 261.6,182.9 261.7,181.5 261.8,173.2 261.9,163.8 262,153.9 262.2,163.3 262.3,173.5 262.4,171.4 262.5,171.3" fill="none" stroke="#505050" stroke-width="0.35" stroke-linejoin="miter" stroke-miterlimit="2"/>
<polyline points="30.47,186.02 30.87,172.52 31.27,187.02" fill="none" stroke="#505050" stroke-width="0.35"/>
<polyline points="38.38,162.56 38.78,129.74 39.18,163.56" fill="none" stroke="#505050" stroke-width="0.35"/>
<polyline points="41.23,155.45 41.63,123.26 42.03,156.45" fill="none" stroke="#505050" stroke-width="0.35"/>
<polyline points="43.69,157.59 44.09,134.93 44.49,158.59" fill="none" stroke="#505050" stroke-width="0.35"/>
<polyline points="54.58,181.35 54.98,164.74 55.38,182.35" fill="none" stroke="#505050" stroke-width="0.35"/>
<polyline points="57.3,175.26 57.7,141.41 58.1,176.26" fill="none" stroke="#505050" stroke-width="0.35"/>
<polyline points="60.03,174.74 60.43,155.67 60.83,175.74" fill="none" stroke="#505050" stroke-width="0.35"/>
<polyline points="85.17,179.93 85.57,151.78 85.97,180.93" fill="none" stroke="#505050" stroke-width="0.35"/>
<polyline points="93.6,176.56 94,133.63 94.4,177.56" fill="none" stroke="#505050" stroke-width="0.35"/>
<polyline points="103.97,178.11 104.37,145.3 104.77,179.11" fill="none" stroke="#505050" stroke-width="0.35"/>
<polyline points="105.16,172.48 105.56,158.26 105.96,173.48" fill="none" stroke="#505050" stroke-width="0.35"/>
<polyline points="108.79,167.74 109.19,151.78 109.59,168.74" fill="none" stroke="#505050" stroke-width="0.35"/>
<polyline points="112.16,159.44 112.56,146.59 112.96,160.44" fill="none" stroke="#505050" stroke-width="0.35"/>
<polyline points="114.88,152.83 115.28,114.19 115.68,153.83" fill="none" stroke="#505050" stroke-width="0.35"/>
<polyline points="117.99,180.06 118.39,150.48 118.79,181.06" fill="none" stroke="#505050" stroke-width="0.35"/>
<polyline points="134.06,176.78 134.46,147.89 134.86,177.78" fill="none" stroke="#505050" stroke-width="0.35"/>
<polyline points="137.3,181.37 137.7,167.33 138.1,182.37" fill="none" stroke="#505050" stroke-width="0.35"/>
<polyline points="140.54,177.53 140.94,155.67 141.34,178.53" fill="none" stroke="#505050" stroke-width="0.35"/>
<polyline points="143.79,182.23 144.19,163.44 144.59,183.23" fill="none" stroke="#505050" stroke-width="0.35"/>
<polyline points="147.03,165.06 147.43,136.22 147.83,166.06" fill="none" stroke="#505050" stroke-width="0.35"/>
<polyline points="158.04,173.89 158.44,142.7 158.84,174.89" fill="none" stroke="#505050" stroke-width="0.35"/>
<polyline points="161.93,172.33 162.33,160.85 162.73,173.33" fill="none" stroke="#505050" stroke-width="0.35"/>
<polyline points="165.17,164.5 165.57,128.44 165.97,165.5" fill="none" stroke="#505050" stroke-width="0.35"/>
<polyline points="176.19,183.3 176.59,156.96 176.99,184.3" fill="none" stroke="#505050" stroke-width="0.35"/>
<polyline points="180.08,176.81 180.48,147.89 180.88,177.81" fill="none" stroke="#505050" stroke-width="0.35"/>
<polyline points="183.71,180.34 184.11,164.74 184.51,181.34" fill="none" stroke="#505050" stroke-width="0.35"/>
<polyline points="187.49,178.89 187.89,147.89 188.29,179.89" fill="none" stroke="#505050" stroke-width="0.35"/>
<polyline points="198.51,162.56 198.91,129.74 199.31,163.56" fill="none" stroke="#505050" stroke-width="0.35"/>
<polyline points="200.97,170.07 201.37,145.3 201.77,171.07" fill="none" stroke="#505050" stroke-width="0.35"/>
<polyline points="208.88,182.65 209.28,156.96 209.68,183.65" fill="none" stroke="#505050" stroke-width="0.35"/>
<polyline points="216.01,174.22 216.41,138.81 216.81,175.22" fill="none" stroke="#505050" stroke-width="0.35"/>
<polyline points="217.43,172.67 217.83,160.85 218.23,173.67" fill="none" stroke="#505050" stroke-width="0.35"/>
<polyline points="218.86,169.73 219.26,132.33 219.66,170.73" fill="none" stroke="#505050" stroke-width="0.35"/>
<polyline points="221.45,179.41 221.85,163.44 222.25,180.41" fill="none" stroke="#505050" stroke-width="0.35"/>
<polyline points="239.99,180.13 240.39,164.74 240.79,181.13" fill="none" stroke="#505050" stroke-width="0.35"/>
<polyline points="243.88,181.95 244.28,159.56 244.68,182.95" fill="none" stroke="#505050" stroke-width="0.35"/>
<polyline points="261.38,185.11 261.78,149.96 262.18,186.11" fill="none" stroke="#505050" stroke-width="0.35"/>
<polyline points="29.7,162.15 31.7,162.15 33.7,162.15 35.7,162.46 37.7,162.93 39.7,163.39 41.7,163.86 43.7,164.12 45.7,164.32 47.7,164.52 49.7,164.72 51.7,164.74 53.7,164.74 55.7,164.74 57.7,164.74 59.7,164.74 61.7,164.74 63.7,164.79 65.7,164.91 67.7,165.03 69.7,165.15 71.7,165.27 73.7,165.39 75.7,165.51 77.7,165.67 79.7,165.83 81.7,165.99 83.7,166.15 85.7,166.31 87.7,166.47 89.7,166.6 91.7,166.7 93.7,166.81 95.7,166.91 97.7,167.01 99.7,167.11 101.7,167.22 103.7,167.32 105.7,167.33 107.7,167.22 109.7,167.08 111.7,166.94 113.7,166.79 115.7,166.65 117.7,166.56 119.7,166.56 121.7,166.56 123.7,166.56 125.7,166.56 127.7,166.56 129.7,166.56 131.7,166.66 133.7,166.78 135.7,166.9 137.7,167.02 139.7,167.14 141.7,167.26 143.7,167.33 145.7,167.33 147.7,167.33 149.7,167.33 151.7,167.33 153.7,167.33 155.7,167.33 157.7,167.44 159.7,167.56 161.7,167.68 163.7,167.8 165.7,167.92 167.7,168.04 169.7,168.14 171.7,168.21 173.7,168.28 175.7,168.35 177.7,168.41 179.7,168.48 181.7,168.55 183.7,168.62 185.7,169.15 187.7,169.15 189.7,169.15 191.7,169.15 193.7,169.15 195.7,169.15 197.7,169.15 199.7,169.15 201.7,169.18 203.7,169.21 205.7,169.24 207.7,169.26 209.7,169.29 211.7,169.32 213.7,169.35 215.7,169.38 217.7,169.41 219.7,169.53 221.7,169.65 223.7,169.77 225.7,169.89 227.7,170.01 229.7,170.13 231.7,170.27 233.7,170.43 235.7,170.59 237.7,170.75 239.7,170.91 241.7,171.07 243.7,171.23 245.7,171.38 247.7,171.53 249.7,171.68 251.7,171.83 253.7,171.98 255.7,172.11 257.7,172.23 259.7,172.36 261.7,172.48 262.3,172.52" fill="none" stroke="#4cae4c" stroke-width="1.3"/>
<path d="M29.7,184.19 C29.92,183.97 30.57,182.98 31,182.89 C31.43,182.8 31.86,183.88 32.3,183.67 C32.73,183.45 33.16,182.15 33.59,181.59 C34.02,181.03 34.46,180.94 34.89,180.3 C35.32,179.65 35.75,179.22 36.19,177.7 C36.62,176.19 37.05,174.25 37.48,171.22 C37.91,168.2 38.35,162.36 38.78,159.56 C39.21,156.75 39.64,155.45 40.07,154.37 C40.51,153.29 40.94,153.81 41.37,153.07 C41.8,152.34 42.32,150.61 42.67,149.96 C43.01,149.31 43.19,148.23 43.44,149.19 C43.7,150.14 43.92,152.43 44.22,155.67 C44.52,158.91 44.87,164.96 45.26,168.63 C45.65,172.3 46.12,175.76 46.56,177.7 C46.99,179.65 47.42,179.56 47.85,180.3 C48.28,181.03 48.72,181.68 49.15,182.11 C49.58,182.54 50.01,182.98 50.44,182.89 C50.88,182.8 51.31,182.02 51.74,181.59 C52.17,181.16 52.6,180.73 53.04,180.3 C53.47,179.86 53.9,179.43 54.33,179 C54.77,178.57 55.2,178.57 55.63,177.7 C56.06,176.84 56.49,174.9 56.93,173.81 C57.36,172.73 57.79,171.87 58.22,171.22 C58.65,170.57 59.09,169.71 59.52,169.93 C59.95,170.14 60.38,171.22 60.81,172.52 C61.25,173.81 61.68,176.19 62.11,177.7 C62.54,179.22 62.98,180.6 63.41,181.59 C63.84,182.59 64.27,183.45 64.7,183.67 C65.14,183.88 65.57,183.23 66,182.89 C66.43,182.54 66.86,182.02 67.3,181.59 C67.73,181.16 68.16,180.64 68.59,180.3 C69.02,179.95 69.46,179.82 69.89,179.52 C70.32,179.22 70.75,178.78 71.19,178.48 C71.62,178.18 72.05,178.05 72.48,177.7 C72.91,177.36 73.35,176.84 73.78,176.41 C74.21,175.98 74.64,174.9 75.07,175.11 C75.51,175.33 75.94,176.97 76.37,177.7 C76.8,178.44 77.23,179.39 77.67,179.52 C78.1,179.65 78.53,178.35 78.96,178.48 C79.4,178.61 79.83,179.69 80.26,180.3 C80.69,180.9 81.12,181.68 81.56,182.11 C81.99,182.54 82.42,183.19 82.85,182.89 C83.28,182.59 83.72,181.29 84.15,180.3 C84.58,179.3 85.01,177.49 85.44,176.93 C85.88,176.36 86.31,176.36 86.74,176.93 C87.17,177.49 87.6,179.86 88.04,180.3 C88.47,180.73 88.9,180.08 89.33,179.52 C89.77,178.96 90.2,177.53 90.63,176.93 C91.06,176.32 91.49,176.19 91.93,175.89 C92.36,175.59 92.79,175.67 93.22,175.11 C93.65,174.55 94.09,173.17 94.52,172.52 C94.95,171.87 95.38,171.22 95.81,171.22 C96.25,171.22 96.68,171.74 97.11,172.52 C97.54,173.3 97.98,174.72 98.41,175.89 C98.84,177.06 99.27,178.35 99.7,179.52 C100.14,180.69 100.57,182.11 101,182.89 C101.43,183.67 101.86,184.83 102.3,184.19 C102.73,183.54 103.16,180.94 103.59,179 C104.02,177.06 104.39,174.9 104.89,172.52 C105.39,170.14 106.09,165.6 106.59,164.74 C107.09,163.88 107.46,167.33 107.89,167.33 C108.32,167.33 108.75,165.39 109.19,164.74 C109.62,164.09 110.05,164.31 110.48,163.44 C110.91,162.58 111.35,161.07 111.78,159.56 C112.21,158.04 112.64,155.88 113.07,154.37 C113.51,152.86 114.02,151.35 114.37,150.48 C114.72,149.62 114.85,148.54 115.15,149.19 C115.45,149.83 115.88,151.56 116.19,154.37 C116.49,157.18 116.62,162.36 116.96,166.04 C117.31,169.71 117.83,173.6 118.26,176.41 C118.69,179.22 119.12,181.59 119.56,182.89 C119.99,184.19 120.42,184.19 120.85,184.19 C121.28,184.19 121.72,182.98 122.15,182.89 C122.58,182.8 123.01,183.67 123.44,183.67 C123.88,183.67 124.31,183.32 124.74,182.89 C125.17,182.46 125.6,181.29 126.04,181.07 C126.47,180.86 126.9,181.29 127.33,181.59 C127.77,181.9 128.2,182.89 128.63,182.89 C129.06,182.89 129.49,181.59 129.93,181.59 C130.36,181.59 130.79,183.1 131.22,182.89 C131.65,182.67 132.06,182.16 132.52,180.3 C132.98,178.43 133.55,172.23 134,171.7 C134.45,171.17 134.82,175.43 135.2,177.1 C135.58,178.77 135.85,181.57 136.3,181.7 C136.75,181.83 137.38,179.32 137.9,177.9 C138.42,176.48 139.02,174.37 139.4,173.2 C139.78,172.03 139.93,170.63 140.2,170.9 C140.47,171.17 140.7,173.38 141,174.8 C141.3,176.22 141.62,178.37 142,179.4 C142.38,180.43 142.88,181.13 143.3,181 C143.72,180.87 144.12,180.28 144.5,178.6 C144.88,176.92 145.23,173.33 145.6,170.9 C145.97,168.47 146.37,165.55 146.7,164 C147.03,162.45 147.27,161.48 147.6,161.6 C147.93,161.72 148.27,163.15 148.7,164.7 C149.13,166.25 149.68,168.7 150.2,170.9 C150.72,173.1 151.28,176.22 151.8,177.9 C152.32,179.58 152.78,180.62 153.3,181 C153.82,181.38 154.38,180.6 154.9,180.2 C155.42,179.8 155.88,179.63 156.4,178.6 C156.92,177.57 157.57,175.93 158,174 C158.43,172.07 158.67,168.8 159,167 C159.33,165.2 159.67,163.45 160,163.2 C160.33,162.95 160.57,164.35 161,165.5 C161.43,166.65 162.1,168.93 162.6,170.1 C163.1,171.27 163.61,173.39 164,172.5 C164.39,171.61 164.56,167.11 164.93,164.74 C165.3,162.37 165.79,158.69 166.22,158.26 C166.65,157.83 167.09,159.99 167.52,162.15 C167.95,164.31 168.38,168.63 168.81,171.22 C169.25,173.81 169.68,176.19 170.11,177.7 C170.54,179.22 170.98,179.65 171.41,180.3 C171.84,180.94 172.27,181.16 172.7,181.59 C173.14,182.02 173.57,182.8 174,182.89 C174.43,182.98 174.86,182.54 175.3,182.11 C175.73,181.68 176.16,181.03 176.59,180.3 C177.02,179.56 177.46,178.57 177.89,177.7 C178.32,176.84 178.75,175.76 179.19,175.11 C179.62,174.46 180.05,173.38 180.48,173.81 C180.91,174.25 181.35,176.84 181.78,177.7 C182.21,178.57 182.64,179.13 183.07,179 C183.51,178.87 183.94,177.57 184.37,176.93 C184.8,176.28 185.3,175.11 185.67,175.11 C186.04,175.11 186.22,176.8 186.59,176.93 C186.96,177.06 187.46,175.76 187.89,175.89 C188.32,176.02 188.75,176.75 189.19,177.7 C189.62,178.65 190.05,180.73 190.48,181.59 C190.91,182.46 191.35,183.1 191.78,182.89 C192.21,182.67 192.64,181.38 193.07,180.3 C193.51,179.22 193.94,177.92 194.37,176.41 C194.8,174.9 195.23,173.17 195.67,171.22 C196.1,169.28 196.53,166.47 196.96,164.74 C197.4,163.01 197.83,161.93 198.26,160.85 C198.69,159.77 199.12,157.83 199.56,158.26 C199.99,158.69 200.42,161.07 200.85,163.44 C201.28,165.82 201.72,170.27 202.15,172.52 C202.58,174.77 203.01,176.06 203.44,176.93 C203.88,177.79 204.31,177.7 204.74,177.7 C205.17,177.7 205.6,176.8 206.04,176.93 C206.47,177.06 206.9,178.35 207.33,178.48 C207.77,178.61 208.2,177.19 208.63,177.7 C209.06,178.22 209.49,180.73 209.93,181.59 C210.36,182.46 210.79,183.32 211.22,182.89 C211.65,182.46 212.09,180.3 212.52,179 C212.95,177.7 213.38,176.19 213.81,175.11 C214.25,174.03 214.68,173.17 215.11,172.52 C215.54,171.87 215.98,171.65 216.41,171.22 C216.84,170.79 217.27,170.57 217.7,169.93 C218.14,169.28 218.65,168.07 219,167.33 C219.35,166.6 219.48,164.87 219.78,165.52 C220.08,166.17 220.43,169.19 220.81,171.22 C221.2,173.25 221.68,176.41 222.11,177.7 C222.54,179 222.98,178.44 223.41,179 C223.84,179.56 224.27,180.86 224.7,181.07 C225.14,181.29 225.57,180.64 226,180.3 C226.43,179.95 226.86,179.13 227.3,179 C227.73,178.87 228.16,179.52 228.59,179.52 C229.02,179.52 229.46,178.87 229.89,179 C230.32,179.13 230.75,180.3 231.19,180.3 C231.62,180.3 232.05,179.3 232.48,179 C232.91,178.7 233.35,178.7 233.78,178.48 C234.21,178.27 234.64,177.96 235.07,177.7 C235.51,177.44 235.94,177.23 236.37,176.93 C236.8,176.62 237.23,176.19 237.67,175.89 C238.1,175.59 238.53,174.94 238.96,175.11 C239.4,175.28 239.83,176.28 240.26,176.93 C240.69,177.57 241.12,178.87 241.56,179 C241.99,179.13 242.42,177.7 242.85,177.7 C243.28,177.7 243.72,178.87 244.15,179 C244.58,179.13 245.01,178.4 245.44,178.48 C245.88,178.57 246.31,179.52 246.74,179.52 C247.17,179.52 247.6,178.57 248.04,178.48 C248.47,178.4 248.9,178.7 249.33,179 C249.77,179.3 250.2,180.38 250.63,180.3 C251.06,180.21 251.49,178.61 251.93,178.48 C252.36,178.35 252.79,179.22 253.22,179.52 C253.65,179.82 254.09,180.04 254.52,180.3 C254.95,180.56 255.38,180.86 255.81,181.07 C256.25,181.29 256.68,181.42 257.11,181.59 C257.54,181.77 257.98,181.9 258.41,182.11 C258.84,182.33 259.27,182.63 259.7,182.89 C260.14,183.15 260.57,183.97 261,183.67 C261.43,183.36 262.08,181.51 262.3,181.07" fill="none" stroke="#0000f8" stroke-width="1.3" stroke-linejoin="round"/>
<line x1="143.0" y1="188.9" x2="143.0" y2="113.7" stroke="#ff22ff" stroke-width="1.25" stroke-dasharray="1.3,1.2"/>
<rect x="18.4" y="109.6" width="256.2" height="83.3" fill="none" stroke="#a4a4a4" stroke-width="0.95"/>
<line x1="17" y1="188.9" x2="18.7" y2="188.9" stroke="#777" stroke-width="0.9"/>
<text x="15.6" y="190.65" text-anchor="end" font-size="4.7" letter-spacing="-0.15" class="t">0</text>
<line x1="17" y1="179.44" x2="18.7" y2="179.44" stroke="#777" stroke-width="0.9"/>
<text x="15.6" y="181.19" text-anchor="end" font-size="4.7" letter-spacing="-0.15" class="t">10</text>
<line x1="17" y1="169.97" x2="18.7" y2="169.97" stroke="#777" stroke-width="0.9"/>
<text x="15.6" y="171.72" text-anchor="end" font-size="4.7" letter-spacing="-0.15" class="t">20</text>
<line x1="17" y1="160.51" x2="18.7" y2="160.51" stroke="#777" stroke-width="0.9"/>
<text x="15.6" y="162.26" text-anchor="end" font-size="4.7" letter-spacing="-0.15" class="t">30</text>
<line x1="17" y1="151.05" x2="18.7" y2="151.05" stroke="#777" stroke-width="0.9"/>
<text x="15.6" y="152.8" text-anchor="end" font-size="4.7" letter-spacing="-0.15" class="t">40</text>
<line x1="17" y1="141.59" x2="18.7" y2="141.59" stroke="#777" stroke-width="0.9"/>
<text x="15.6" y="143.34" text-anchor="end" font-size="4.7" letter-spacing="-0.15" class="t">50</text>
<line x1="17" y1="132.12" x2="18.7" y2="132.12" stroke="#777" stroke-width="0.9"/>
<text x="15.6" y="133.88" text-anchor="end" font-size="4.7" letter-spacing="-0.15" class="t">60</text>
<line x1="17" y1="122.66" x2="18.7" y2="122.66" stroke="#777" stroke-width="0.9"/>
<text x="15.6" y="124.41" text-anchor="end" font-size="4.7" letter-spacing="-0.15" class="t">70</text>
<line x1="17" y1="113.2" x2="18.7" y2="113.2" stroke="#777" stroke-width="0.9"/>
<text x="15.6" y="114.95" text-anchor="end" font-size="4.7" letter-spacing="-0.15" class="t">80</text>
<line x1="29.9" y1="192.6" x2="29.9" y2="194.2" stroke="#8a8a8a" stroke-width="0.9"/>
<line x1="47.83" y1="192.6" x2="47.83" y2="194.2" stroke="#8a8a8a" stroke-width="0.9"/>
<line x1="65.76" y1="192.6" x2="65.76" y2="194.2" stroke="#8a8a8a" stroke-width="0.9"/>
<line x1="83.69" y1="192.6" x2="83.69" y2="194.2" stroke="#8a8a8a" stroke-width="0.9"/>
<line x1="101.62" y1="192.6" x2="101.62" y2="194.2" stroke="#8a8a8a" stroke-width="0.9"/>
<line x1="119.55" y1="192.6" x2="119.55" y2="194.2" stroke="#8a8a8a" stroke-width="0.9"/>
<line x1="137.48" y1="192.6" x2="137.48" y2="194.2" stroke="#8a8a8a" stroke-width="0.9"/>
<line x1="155.41" y1="192.6" x2="155.41" y2="194.2" stroke="#8a8a8a" stroke-width="0.9"/>
<line x1="173.34" y1="192.6" x2="173.34" y2="194.2" stroke="#8a8a8a" stroke-width="0.9"/>
<line x1="191.27" y1="192.6" x2="191.27" y2="194.2" stroke="#8a8a8a" stroke-width="0.9"/>
<line x1="209.2" y1="192.6" x2="209.2" y2="194.2" stroke="#8a8a8a" stroke-width="0.9"/>
<line x1="227.13" y1="192.6" x2="227.13" y2="194.2" stroke="#8a8a8a" stroke-width="0.9"/>
<line x1="245.06" y1="192.6" x2="245.06" y2="194.2" stroke="#8a8a8a" stroke-width="0.9"/>
<text x="146.5" y="107.8" text-anchor="middle" font-size="5.3" class="b" textLength="67.4" lengthAdjust="spacingAndGlyphs">Birmingham_Acocks_Green</text>
<text x="21.4" y="122.1" font-size="11.6" stroke="#000" stroke-width="0.05">(c)</text>
<text transform="translate(5.7,150.85) rotate(-90)" text-anchor="middle" font-size="5.6" fill="#1a1a1a">NO2 (&#956;gm<tspan dy="-2" font-size="3.9">-3</tspan><tspan dy="2">)</tspan></text>
<polyline points="328.7,183.2 328.8,184.4 328.9,184.4 329,186.2 329.1,186.1 329.2,185.1 329.3,182.5 329.4,176.6 329.6,171.1 329.7,169.9 329.8,177.9 329.9,180.1 330,179.6 330.1,180.7 330.2,180.7 330.3,179.1 330.4,179.5 330.5,178.8 330.6,174.2 330.7,176.5 330.8,178.2 330.9,180.8 331,180.1 331.2,181.8 331.3,183.2 331.4,185.3 331.5,184.4 331.6,187.6 331.7,187.9 331.8,185.7 331.9,180.2 332,178.4 332.1,175.2 332.2,174.4 332.3,179 332.4,179.6 332.5,179 332.6,179.4 332.8,179.2 332.9,180.1 333,178.4 333.1,178.6 333.2,177.1 333.3,178.3 333.4,178.8 333.5,180.1 333.6,181.2 333.7,182.7 333.8,181.5 333.9,182.5 334,182.8 334.1,183.9 334.2,184 334.4,183.9 334.5,183.4 334.6,180 334.7,173.9 334.8,176.4 334.9,181.3 335,183.4 335.1,183.8 335.2,183.8 335.3,183.1 335.4,182.2 335.5,179.9 335.6,179 335.7,177 335.9,176.6 336,176 336.1,175.4 336.2,175.1 336.3,174.5 336.4,177.7 336.5,177.2 336.6,178.1 336.7,179.8 336.8,179.5 336.9,182 337,169.7 337.1,161.4 337.2,157.3 337.3,155.7 337.5,157.4 337.6,162.2 337.7,159.7 337.8,156.6 337.9,155.8 338,155.1 338.1,154.2 338.2,151.1 338.3,148.1 338.4,147.7 338.5,150 338.6,150.1 338.7,148.5 338.8,153.8 338.9,154.1 339.1,154.5 339.2,166.5 339.3,163.4 339.4,172.7 339.5,170.1 339.6,156.1 339.7,140 339.8,124.2 339.9,122.3 340,142.2 340.1,145.6 340.2,156.3 340.3,152.7 340.4,151.9 340.5,153 340.7,148.5 340.8,147.2 340.9,144.9 341,145.1 341.1,148.9 341.2,153.7 341.3,157.6 341.4,162.2 341.5,156.5 341.6,162.4 341.7,171.7 341.8,170.4 341.9,172.9 342,172.8 342.1,160.9 342.3,156.7 342.4,154.9 342.5,157.2 342.6,163.2 342.7,164.6 342.8,166.4 342.9,166.4 343,172.5 343.1,170.3 343.2,165.3 343.3,166.4 343.4,164.4 343.5,164.5 343.6,169.8 343.7,169.6 343.9,171 344,173.7 344.1,174.6 344.2,176.3 344.3,178.6 344.4,181.2 344.5,181.9 344.6,180 344.7,178.7 344.8,174.3 344.9,170.1 345,169.9 345.1,175.2 345.2,178.3 345.3,177.7 345.5,178.7 345.6,179.5 345.7,178 345.8,177.3 345.9,177.2 346,176.2 346.1,176.7 346.2,177 346.3,178.1 346.4,179.5 346.5,179.4 346.6,181.3 346.7,181.7 346.8,183.1 347,183.5 347.1,183.7 347.2,183.8 347.3,181.4 347.4,178.1 347.5,174.7 347.6,175.5 347.7,179.4 347.8,182.5 347.9,182 348,183 348.1,183.2 348.2,182.9 348.3,181 348.4,179.7 348.6,178.1 348.7,180.7 348.8,182.6 348.9,182.5 349,184.7 349.1,183.6 349.2,184.4 349.3,185.9 349.4,186.1 349.5,186 349.6,186.4 349.7,185.9 349.8,184.9 349.9,179.3 350,172.7 350.2,176.6 350.3,178.9 350.4,182.8 350.5,182.3 350.6,183.1 350.7,181.8 350.8,181.7 350.9,180 351,178.5 351.1,175.2 351.2,174.6 351.3,177.7 351.4,180.2 351.5,180.1 351.6,180.5 351.8,179.5 351.9,181.5 352,184.4 352.1,185.5 352.2,183.7 352.3,182.5 352.4,178.4 352.5,174 352.6,171.8 352.7,171.5 352.8,173.2 352.9,175.7 353,177.7 353.1,177.5 353.2,174.7 353.4,174.3 353.5,173.9 353.6,171.3 353.7,168.9 353.8,169.5 353.9,170.8 354,171 354.1,173.2 354.2,172.8 354.3,172.4 354.4,174.5 354.5,177.5 354.6,178.3 354.7,177.4 354.8,175 355,172.5 355.1,154.4 355.2,151.4 355.3,150.5 355.4,167.7 355.5,171.6 355.6,172.5 355.7,171.7 355.8,172.4 355.9,168.2 356,165.5 356.1,160 356.2,155.6 356.3,162.3 356.4,160.9 356.6,165.3 356.7,165.2 356.8,169.6 356.9,169.1 357,172.4 357.1,172.7 357.2,175.2 357.3,176.5 357.4,174.5 357.5,171 357.6,166.4 357.7,163 357.8,164.3 357.9,167.5 358,172 358.2,172.7 358.3,171.9 358.4,171 358.5,171.4 358.6,169.5 358.7,165.2 358.8,164.8 358.9,164.4 359,167.6 359.1,169.5 359.2,169.4 359.3,169 359.4,171.3 359.5,175.2 359.7,176.3 359.8,179.2 359.9,182 360,176.9 360.1,173.3 360.2,166.4 360.3,161.2 360.4,163.3 360.5,166.7 360.6,168 360.7,170 360.8,171.4 360.9,170.1 361,171 361.1,169.2 361.3,169.1 361.4,167.5 361.5,168.2 361.6,169.3 361.7,170.5 361.8,170.4 361.9,173 362,172.2 362.1,175.8 362.2,175.8 362.3,178.3 362.4,178.8 362.5,178 362.6,176.8 362.7,173.9 362.9,172.8 363,174.5 363.1,175.4 363.2,177.3 363.3,178.6 363.4,179 363.5,178.4 363.6,179.6 363.7,178.7 363.8,177.9 363.9,177.4 364,178.3 364.1,179.6 364.2,180.5 364.3,180.7 364.5,182.2 364.6,183 364.7,183.9 364.8,185.7 364.9,186.1 365,187.2 365.1,185.6 365.2,182.1 365.3,177 365.4,174.6 365.5,176.8 365.6,178.3 365.7,183.8 365.8,182.3 365.9,182.5 366.1,183.8 366.2,180 366.3,179.5 366.4,178.1 366.5,175 366.6,175.6 366.7,177.9 366.8,178 366.9,179.2 367,181.7 367.1,181.6 367.2,184.6 367.3,185.5 367.4,184.2 367.5,186 367.7,184.5 367.8,179.9 367.9,179.3 368,178.2 368.1,178.7 368.2,178.9 368.3,179 368.4,180.4 368.5,179 368.6,178.6 368.7,178.4 368.8,178.1 368.9,177.6 369,177.2 369.1,177.4 369.3,177.4 369.4,177.6 369.5,177.7 369.6,177.8 369.7,177.8 369.8,179.4 369.9,181.6 370,180.6 370.1,183.4 370.2,182.1 370.3,177.9 370.4,176 370.5,175.4 370.6,175.4 370.8,175.4 370.9,175.2 371,175.6 371.1,175.2 371.2,175.2 371.3,174.1 371.4,173.7 371.5,173.4 371.6,172.9 371.7,172.7 371.8,172.5 371.9,172.2 372,171.9 372.1,171.6 372.2,175.6 372.4,174.7 372.5,181.7 372.6,180.6 372.7,184.6 372.8,181.7 372.9,173.9 373,156.5 373.1,148.5 373.2,153.4 373.3,165.3 373.4,171 373.5,173.6 373.6,170.8 373.7,174.5 373.8,172.8 374,169.5 374.1,168.1 374.2,163.7 374.3,168.2 374.4,168.2 374.5,171.3 374.6,170.8 374.7,175.2 374.8,175.2 374.9,176.1 375,178.2 375.1,178.8 375.2,180.8 375.3,179.8 375.4,177 375.6,173.2 375.7,171.1 375.8,173.2 375.9,177.4 376,179.3 376.1,180.1 376.2,180.5 376.3,180.2 376.4,178.4 376.5,178.3 376.6,176.6 376.7,176.4 376.8,176.9 376.9,177.8 377,178.3 377.2,178.1 377.3,178.6 377.4,179.6 377.5,180.7 377.6,181.7 377.7,183.3 377.8,184.8 377.9,183.3 378,179.2 378.1,177.3 378.2,174.5 378.3,176.9 378.4,177.8 378.5,179.1 378.6,181 378.8,181.3 378.9,180.9 379,180.6 379.1,180 379.2,179.2 379.3,176.7 379.4,177.9 379.5,178.3 379.6,179.2 379.7,180.2 379.8,180.7 379.9,181 380,182.2 380.1,183 380.2,183.5 380.4,184 380.5,183.7 380.6,182.9 380.7,175.8 380.8,171.5 380.9,175 381,176.6 381.1,182.2 381.2,182.4 381.3,183.4 381.4,182.9 381.5,182.7 381.6,180.8 381.7,180.7 381.8,178.2 382,179.1 382.1,180.6 382.2,181.7 382.3,181.6 382.4,181.9 382.5,182.8 382.6,182.9 382.7,184.4 382.8,184.1 382.9,185.2 383,184.1 383.1,180.4 383.2,169.1 383.3,162.2 383.5,162.3 383.6,167.7 383.7,178.7 383.8,178.4 383.9,178.5 384,178 384.1,178 384.2,173 384.3,171.6 384.4,168.9 384.5,170.9 384.6,173.9 384.7,172.2 384.8,174.4 384.9,177.1 385.1,178.1 385.2,177.8 385.3,179.6 385.4,179.8 385.5,181.3 385.6,180.8 385.7,178.7 385.8,167.5 385.9,159.4 386,159.8 386.1,171.6 386.2,178.2 386.3,179.8 386.4,178 386.5,179.4 386.7,176.1 386.8,178.5 386.9,170.9 387,168.6 387.1,172.3 387.2,174.7 387.3,178.8 387.4,178.3 387.5,180.7 387.6,180.9 387.7,182.3 387.8,182.8 387.9,185.5 388,184.9 388.1,184.5 388.3,179.9 388.4,174.4 388.5,170.6 388.6,172.7 388.7,178 388.8,177.7 388.9,178.8 389,178.9 389.1,180 389.2,177.9 389.3,177.3 389.4,175.9 389.5,174.4 389.6,175.4 389.7,176.3 389.9,176.1 390,176.7 390.1,177.2 390.2,177.8 390.3,179.7 390.4,178.8 390.5,180.9 390.6,179.2 390.7,179.3 390.8,176.5 390.9,172.3 391,170.4 391.1,171.1 391.2,172 391.3,172.6 391.5,172.1 391.6,172.4 391.7,171.7 391.8,170.9 391.9,170.4 392,169.7 392.1,169.2 392.2,168.8 392.3,168.7 392.4,168.6 392.5,168.6 392.6,169 392.7,168.2 392.8,171.5 392.9,177.5 393.1,176.2 393.2,176.7 393.3,176 393.4,166.4 393.5,163.9 393.6,160.2 393.7,160.5 393.8,162.5 393.9,164.9 394,166.6 394.1,163.9 394.2,165.4 394.3,163.4 394.4,163.3 394.6,162.5 394.7,161.5 394.8,162.4 394.9,162.8 395,163.5 395.1,165.9 395.2,164 395.3,168.8 395.4,173.5 395.5,175.3 395.6,178.3 395.7,175.7 395.8,175.8 395.9,171.8 396,162.9 396.2,156.7 396.3,161.2 396.4,166.4 396.5,167 396.6,171.3 396.7,173.7 396.8,171.4 396.9,172.4 397,169.8 397.1,168 397.2,167.8 397.3,168.3 397.4,171.8 397.5,172.3 397.6,174.7 397.8,175.4 397.9,177.3 398,178.6 398.1,180.9 398.2,181.6 398.3,182.3 398.4,181.7 398.5,179.7 398.6,174.5 398.7,168.7 398.8,170.8 398.9,178.6 399,180.1 399.1,181.4 399.2,181.6 399.4,181.6 399.5,180.8 399.6,181.1 399.7,178.6 399.8,178.4 399.9,179.1 400,179.3 400.1,180 400.2,182.2 400.3,181.7 400.4,183.9 400.5,183.8 400.6,185.4 400.7,185.2 400.8,186.5 401,185.4 401.1,182.9 401.2,180.6 401.3,177.7 401.4,178.3 401.5,179.2 401.6,180.5 401.7,179.7 401.8,179.7 401.9,180.3 402,178.1 402.1,177.1 402.2,176.3 402.3,174.6 402.4,175.4 402.6,175.7 402.7,176.1 402.8,176.4 402.9,175.8 403,175.7 403.1,181.1 403.2,179.1 403.3,181.9 403.4,181.9 403.5,181.5 403.6,174 403.7,165.1 403.8,153.6 403.9,157.8 404,169.7 404.2,172.3 404.3,170.8 404.4,174.3 404.5,170.8 404.6,168.6 404.7,164.6 404.8,162.8 404.9,156.2 405,158.3 405.1,160 405.2,166.5 405.3,165.8 405.4,168.2 405.5,169 405.6,168.5 405.8,172.2 405.9,171.6 406,172.9 406.1,173 406.2,166.9 406.3,157.2 406.4,126.1 406.5,137.3 406.6,161.6 406.7,164.6 406.8,165.6 406.9,165.1 407,165.8 407.1,159.3 407.3,158 407.4,157.2 407.5,145.5 407.6,147.5 407.7,155.7 407.8,155.2 407.9,156.6 408,158.2 408.1,160.5 408.2,164.2 408.3,167.5 408.4,167 408.5,168.4 408.6,164.7 408.7,157.7 408.9,154.1 409,150 409.1,151.2 409.2,155 409.3,156.3 409.4,157.1 409.5,159.1 409.6,158.5 409.7,154.7 409.8,153.9 409.9,152.9 410,151.1 410.1,152.8 410.2,154.4 410.3,155.4 410.5,159.3 410.6,158.7 410.7,163.4 410.8,166.4 410.9,165.4 411,173.3 411.1,169.7 411.2,167.2 411.3,159 411.4,154.6 411.5,145.3 411.6,150.8 411.7,156.1 411.8,156.8 411.9,160.4 412.1,160.3 412.2,163.1 412.3,160.7 412.4,157.5 412.5,156 412.6,152 412.7,153.9 412.8,153.2 412.9,154.4 413,156.5 413.1,155.1 413.2,155.3 413.3,158.1 413.4,160.9 413.5,162.3 413.7,165 413.8,164 413.9,156.9 414,152.3 414.1,151.2 414.2,152.2 414.3,153.4 414.4,153.9 414.5,157.1 414.6,157.4 414.7,155 414.8,154.8 414.9,153.5 415,153.9 415.1,153 415.3,153.6 415.4,154.7 415.5,155.1 415.6,155.4 415.7,156.2 415.8,156.6 415.9,162.2 416,163.9 416.1,166.9 416.2,166.9 416.3,164.7 416.4,160.7 416.5,161.3 416.6,164.3 416.7,164 416.9,163.1 417,163.4 417.1,166.3 417.2,165.2 417.3,165 417.4,166.2 417.5,167.3 417.6,168 417.7,170.2 417.8,170.2 417.9,170.7 418,170.7 418.1,171.1 418.2,171.9 418.3,173.4 418.5,175.3 418.6,176.8 418.7,176.9 418.8,177.8 418.9,179.1 419,177.3 419.1,171.6 419.2,168.5 419.3,170.3 419.4,174.7 419.5,180 419.6,181.3 419.7,181.8 419.8,181.9 420,182.2 420.1,180.7 420.2,178.1 420.3,174.9 420.4,178 420.5,180.2 420.6,180.9 420.7,182.8 420.8,183.3 420.9,185.1 421,184.8 421.1,185.9 421.2,187.4 421.3,188.7 421.4,185.7 421.6,184.1 421.7,180.4 421.8,176.8 421.9,178.4 422,178.6 422.1,179.6 422.2,181.7 422.3,181.5 422.4,179.3 422.5,179.4 422.6,177.8 422.7,176.9 422.8,176.3 422.9,176.4 423,177.4 423.2,177 423.3,177.7 423.4,178 423.5,178.4 423.6,181 423.7,182 423.8,183.6 423.9,183.5 424,183 424.1,180.1 424.2,172.8 424.3,169.2 424.4,172.5 424.5,175.2 424.6,176.6 424.8,178.7 424.9,180.7 425,179.5 425.1,178.6 425.2,178 425.3,177.3 425.4,176 425.5,176.6 425.6,177.4 425.7,179 425.8,179.4 425.9,180.3 426,181.5 426.1,182.5 426.2,183.6 426.4,183.2 426.5,184 426.6,183.8 426.7,181.2 426.8,176.9 426.9,176.2 427,175.9 427.1,177.7 427.2,180.8 427.3,180.3 427.4,180.4 427.5,181 427.6,180.6 427.7,179.1 427.8,178.8 428,177.8 428.1,178.1 428.2,178.4 428.3,178.7 428.4,179.1 428.5,179.6 428.6,180.6 428.7,181.2 428.8,181.8 428.9,181.9 429,182.6 429.1,181.3 429.2,180 429.3,177.2 429.4,173.1 429.6,175.2 429.7,178.9 429.8,178.2 429.9,179.1 430,179 430.1,179.6 430.2,179.1 430.3,177.7 430.4,177.6 430.5,175.1 430.6,176 430.7,176.9 430.8,178.2 430.9,178.3 431.1,178.4 431.2,181 431.3,179.8 431.4,181.9 431.5,183 431.6,183.7 431.7,183.9 431.8,179.2 431.9,170.1 432,151.5 432.1,161.7 432.2,172.1 432.3,176.4 432.4,173.9 432.5,174.7 432.7,175.8 432.8,170.9 432.9,172.4 433,169.3 433.1,164 433.2,163.5 433.3,169.1 433.4,167.3 433.5,169.9 433.6,169.7 433.7,170.7 433.8,172.5 433.9,172.5 434,174.7 434.1,174.8 434.3,174.1 434.4,169.3 434.5,159.9 434.6,156.6 434.7,155.5 434.8,168.9 434.9,170.3 435,171.6 435.1,170.7 435.2,170.8 435.3,170.1 435.4,170.6 435.5,170 435.6,166.9 435.7,168.3 435.9,172.2 436,171.6 436.1,173 436.2,175.7 436.3,176.7 436.4,180.5 436.5,181.7 436.6,185.2 436.7,188.6 436.8,184.2 436.9,179.2 437,165.4 437.1,150.7 437.2,158.2 437.3,170.2 437.5,172.1 437.6,173.4 437.7,176.3 437.8,173.1 437.9,174.9 438,168.1 438.1,159.7 438.2,151.3 438.3,158.1 438.4,165.1 438.5,160.8 438.6,167.2 438.7,168.9 438.8,171.8 438.9,171.9 439.1,175.1 439.2,176.4 439.3,178.1 439.4,174.1 439.5,170.2 439.6,153.4 439.7,148.5 439.8,151.2 439.9,161.9 440,166.4 440.1,163.5 440.2,163.7 440.3,163.1 440.4,162.9 440.5,160.6 440.7,158.2 440.8,156.6 440.9,157.4 441,162 441.1,161.6 441.2,166.3 441.3,164.9 441.4,166.3 441.5,168.2 441.6,173.1 441.7,173.4 441.8,173.5 441.9,175.1 442,168.1 442.1,168.6 442.3,169.1 442.4,169.7 442.5,170.2 442.6,171.8 442.7,172.4 442.8,172.2 442.9,172.4 443,172.9 443.1,173.4 443.2,173.9 443.3,174.2 443.4,174.5 443.5,174.9 443.6,175.2 443.8,176.1 443.9,175.8 444,177.3 444.1,180.9 444.2,182.2 444.3,182.1 444.4,183.8 444.5,183.8 444.6,178.7 444.7,176.6 444.8,175.1 444.9,175.9 445,176.4 445.1,177.7 445.2,176.6 445.4,175.9 445.5,175.7 445.6,176.1 445.7,175.1 445.8,174.7 445.9,173.6 446,173.4 446.1,173.1 446.2,172.8 446.3,172.4 446.4,172.1 446.5,172.9 446.6,172.5 446.7,175.2 446.8,175.7 447,175 447.1,172.9 447.2,168.9 447.3,163.9 447.4,157.3 447.5,161.3 447.6,163.7 447.7,168.3 447.8,168.1 447.9,168.2 448,166.9 448.1,164.2 448.2,164.8 448.3,160.1 448.4,159.9 448.6,158.5 448.7,160.2 448.8,162.4 448.9,162.8 449,163.4 449.1,164.7 449.2,167 449.3,167.8 449.4,171 449.5,171.8 449.6,169.1 449.7,165 449.8,158.5 449.9,156.3 450,156.5 450.2,159.6 450.3,165.7 450.4,164.6 450.5,164.6 450.6,165.5 450.7,165 450.8,163.7 450.9,161.4 451,159.8 451.1,161.9 451.2,163.8 451.3,166.1 451.4,165.1 451.5,168.5 451.6,168.1 451.8,172.8 451.9,176.8 452,180.4 452.1,180.1 452.2,179.6 452.3,170.4 452.4,168.9 452.5,165.4 452.6,167.2 452.7,169.6 452.8,171 452.9,170.8 453,171.2 453.1,173.6 453.2,170.9 453.4,170.5 453.5,170.5 453.6,169.4 453.7,170.5 453.8,170.4 453.9,171.3 454,171.4 454.1,171.5 454.2,175.4 454.3,176.5 454.4,180 454.5,181.2 454.6,178.4 454.7,179.2 454.9,174.7 455,161.7 455.1,155.3 455.2,153.6 455.3,167.1 455.4,171.4 455.5,170.2 455.6,168.8 455.7,172.7 455.8,166.3 455.9,164.2 456,160.4 456.1,155 456.2,160.6 456.3,162.4 456.5,163.9 456.6,168 456.7,165.3 456.8,168.7 456.9,174.2 457,176.5 457.1,176.8 457.2,182.4 457.3,179.2 457.4,172.9 457.5,161.1 457.6,155.1 457.7,154.6 457.8,161.1 457.9,168.2 458.1,169 458.2,172.1 458.3,167.6 458.4,166.8 458.5,166.6 458.6,160 458.7,160.2 458.8,161.4 458.9,162.9 459,162.1 459.1,168.5 459.2,169.4 459.3,173.6 459.4,176.2 459.5,178.5 459.7,177.3 459.8,184.1 459.9,176.8 460,166.2 460.1,153.5 460.2,146.4 460.3,156.1 460.4,160.9 460.5,167.9 460.6,170 460.7,169.8 460.8,165.6 460.9,164.5 461,164.7 461.1,161.4 461.3,158.9 461.4,156.9 461.5,160.2 461.6,163.2 461.7,162.8 461.8,164.1 461.9,166.8 462,169.3 462.1,171.2 462.2,171.8 462.3,173.6 462.4,172.9 462.5,166.9 462.6,160.4 462.7,159.9 462.9,159.7 463,164.8 463.1,164.6 463.2,166.5 463.3,165.3 463.4,165.4 463.5,164 463.6,163.9 463.7,162.7 463.8,160.5 463.9,161.4 464,163.1 464.1,164 464.2,163 464.3,166 464.5,163.3 464.6,169.5 464.7,171 464.8,174.5 464.9,178.2 465,176.3 465.1,163.5 465.2,154.2 465.3,148.7 465.4,148.6 465.5,159.7 465.6,164.6 465.7,161.9 465.8,164.6 465.9,163.3 466.1,160.1 466.2,160.2 466.3,155.9 466.4,150.5 466.5,154.2 466.6,155.7 466.7,158.2 466.8,165.6 466.9,165.1 467,166.9 467.1,172.5 467.2,171.5 467.3,175.2 467.4,178.5 467.6,174.6 467.7,168.4 467.8,165.7 467.9,158.4 468,162.5 468.1,167.8 468.2,170.4 468.3,170.9 468.4,171.8 468.5,172.8 468.6,172.3 468.7,170.4 468.8,169.8 468.9,169.1 469,170.4 469.2,170.9 469.3,172.8 469.4,174.1 469.5,176.5 469.6,174.7 469.7,177.3 469.8,178.4 469.9,177.6 470,178.5 470.1,179.7 470.2,176.3 470.3,173.4 470.4,170.8 470.5,171.3 470.6,174.8 470.8,175.9 470.9,177.3 471,177.3 471.1,178.9 471.2,177.1 471.3,177.4 471.4,175.6 471.5,174.7 471.6,175.3 471.7,176.9 471.8,178.2 471.9,178.7 472,178.8 472.1,179.6 472.2,182.1 472.4,182.5 472.5,183.2 472.6,184.6 472.7,182.9 472.8,179.4 472.9,178.2 473,176.6 473.1,177.1 473.2,177.9 473.3,179.7 473.4,180 473.5,179.8 473.6,178.7 473.7,178.8 473.8,177.4 474,177.1 474.1,176 474.2,176.5 474.3,177.3 474.4,177.1 474.5,177.1 474.6,178.4 474.7,179.7 474.8,180.7 474.9,181.4 475,181.5 475.1,183.4 475.2,181 475.3,177.6 475.4,165.4 475.6,154.7 475.7,159.9 475.8,167 475.9,173.7 476,176.7 476.1,175.1 476.2,175.2 476.3,171.6 476.4,168 476.5,167.8 476.6,159.7 476.7,165.8 476.8,166.8 476.9,173.1 477,170.5 477.2,174.2 477.3,175.8 477.4,176.2 477.5,177.6 477.6,180.6 477.7,180.5 477.8,177.1 477.9,175.4 478,169.3 478.1,162.8 478.2,165.9 478.3,168.1 478.4,171.1 478.5,175.4 478.7,175.5 478.8,175.4 478.9,173.4 479,172.8 479.1,169.8 479.2,166.9 479.3,170.6 479.4,172.7 479.5,173.7 479.6,174.5 479.7,176.2 479.8,174.6 479.9,177 480,180.7 480.1,181.5 480.3,184.3 480.4,181.2 480.5,176 480.6,170.4 480.7,169.6 480.8,171.2 480.9,172.1 481,175.2 481.1,175.6 481.2,178.2 481.3,175.6 481.4,176.1 481.5,173.1 481.6,171.5 481.7,170.6 481.9,171.9 482,171.4 482.1,171.5 482.2,173.3 482.3,175.1 482.4,176.5 482.5,179.6 482.6,178.4 482.7,182.3 482.8,183.2 482.9,182.4 483,176.4 483.1,170.2 483.2,168.5 483.3,168.8 483.5,174.7 483.6,177.3 483.7,177 483.8,177.1 483.9,177.8 484,177 484.1,175.8 484.2,174 484.3,171.7 484.4,174.6 484.5,177.2 484.6,179.9 484.7,179.3 484.8,180.5 484.9,179.1 485.1,182.6 485.2,182.3 485.3,181.8 485.4,182.2 485.5,180.7 485.6,177.5 485.7,175 485.8,171.1 485.9,171.8 486,174.3 486.1,175.2 486.2,174.9 486.3,175.7 486.4,175.3 486.5,174.1 486.7,172.7 486.8,171.4 486.9,170.4 487,170.2 487.1,172 487.2,172.1 487.3,173.3 487.4,172.7 487.5,174.9 487.6,176.3 487.7,176.9 487.8,179.7 487.9,178.7 488,176.2 488.1,175.1 488.3,170.7 488.4,170 488.5,170.3 488.6,172.5 488.7,173.7 488.8,174.3 488.9,175.8 489,176.7 489.1,174.7 489.2,174.5 489.3,174.3 489.4,174.3 489.5,174.8 489.6,175.9 489.7,177 489.9,177.7 490,178.8 490.1,178.7 490.2,182 490.3,182 490.4,184.1 490.5,184.5 490.6,184.2 490.7,181.7 490.8,175.1 490.9,164 491,170 491.1,175.1 491.2,182.5 491.4,182.9 491.5,181.9 491.6,184.1 491.7,184 491.8,178.1 491.9,177 492,172.1 492.1,173.4 492.2,176.3 492.3,181.2 492.4,180 492.5,184.2 492.6,184.4 492.7,185.3 492.8,185.9 493,186.3 493.1,185.9 493.2,186.4 493.3,182.5 493.4,175.2 493.5,170.3 493.6,171.9 493.7,179.5 493.8,180 493.9,180.4 494,181.6 494.1,180.9 494.2,180.4 494.3,178.3 494.4,172.3 494.6,169.2 494.7,171.7 494.8,173.3 494.9,177 495,178.5 495.1,178.1 495.2,179.5 495.3,181.7 495.4,181.1 495.5,183.6 495.6,182.6 495.7,180.8 495.8,177.4 495.9,171.6 496,159 496.2,163.4 496.3,169.6 496.4,172.6 496.5,174.1 496.6,173 496.7,175.5 496.8,170.8 496.9,170.3 497,168.9 497.1,165 497.2,165.8 497.3,168.1 497.4,170.6 497.5,169.9 497.6,171.3 497.8,170.6 497.9,173.9 498,175.1 498.1,176.8 498.2,177 498.3,175.1 498.4,170.5 498.5,159.7 498.6,158.1 498.7,160 498.8,166.2 498.9,168.4 499,170.5 499.1,169.9 499.2,171.2 499.4,170.4 499.5,166.1 499.6,162.2 499.7,161.1 499.8,163.8 499.9,163.8 500,169.2 500.1,166.9 500.2,169.8 500.3,172.4 500.4,173.4 500.5,173.2 500.6,174.2 500.7,175.2 500.8,174.6 501,171.8 501.1,167.3 501.2,163 501.3,165.1 501.4,169.2 501.5,169.8 501.6,172 501.7,172 501.8,171 501.9,169.5 502,169.9 502.1,168.5 502.2,166.8 502.3,168 502.5,168.9 502.6,169 502.7,171.3 502.8,171.5 502.9,174.9 503,176.1 503.1,179.5 503.2,179.4 503.3,180.3 503.4,180.7 503.5,175.3 503.6,169.3 503.7,165.6 503.8,165.1 503.9,169 504.1,171.7 504.2,174.3 504.3,174.6 504.4,175.4 504.5,172.9 504.6,170.8 504.7,171.5 504.8,168.9 504.9,170.5 505,170.5 505.1,172.8 505.2,173.2 505.3,176 505.4,174.3 505.5,176.9 505.7,180.9 505.8,182.7 505.9,181.9 506,182.5 506.1,172.5 506.2,164.8 506.3,159.7 506.4,163.1 506.5,171.5 506.6,172.4 506.7,172.6 506.8,176.2 506.9,175.9 507,171.7 507.1,171.1 507.3,167.6 507.4,166 507.5,165.5 507.6,168.4 507.7,172.3 507.8,173.4 507.9,174.7 508,175.2 508.1,178.9 508.2,179.6 508.3,181 508.4,181.8 508.5,182.6 508.6,177.1 508.7,172.1 508.9,168.7 509,167.4 509.1,174.5 509.2,176.9 509.3,178.2 509.4,179.1 509.5,177.9 509.6,179.8 509.7,177.5 509.8,175.9 509.9,170.7 510,174.4 510.1,177.9 510.2,179.3 510.3,180.9 510.5,180.9 510.6,181.3 510.7,182.3 510.8,183 510.9,183.6 511,183.9 511.1,183.5 511.2,182.9 511.3,176.2 511.4,171.9 511.5,170.9 511.6,176.4 511.7,182.8 511.8,183.1 511.9,181.8 512.1,182.9 512.2,180.9 512.3,178.9 512.4,177.6 512.5,172.9 512.6,177.1 512.7,177.1 512.8,177.8 512.9,179.1 513,180.1 513.1,182.6 513.2,185.1 513.3,187.1 513.4,187.7 513.5,188.3 513.7,183.5 513.8,181 513.9,177.2 514,174.5 514.1,175.2 514.2,176.6 514.3,178.5 514.4,177.8 514.5,178 514.6,175.5 514.7,175.1 514.8,173.9 514.9,173.5 515,172.6 515.2,171.8 515.3,172.6 515.4,171.9 515.5,172.2 515.6,173.5 515.7,174.3 515.8,175.4 515.9,177.7 516,183.2 516.1,182.5 516.2,179.8 516.3,173 516.4,168 516.5,156.8 516.6,158.8 516.8,169.2 516.9,173.5 517,174.8 517.1,172.6 517.2,174.5 517.3,169 517.4,169 517.5,164.6 517.6,162.5 517.7,165.1 517.8,168.2 517.9,168.8 518,169.5 518.1,169.5 518.2,171 518.4,172.4 518.5,173.4 518.6,173.9 518.7,174.3 518.8,173.5 518.9,169.5 519,163.4 519.1,146.4 519.2,152.5 519.3,166.8 519.4,169.3 519.5,168.2 519.6,169.2 519.7,166.5 519.8,167.4 520,164.4 520.1,161.3 520.2,155.4 520.3,159.9 520.4,159.7 520.5,162 520.6,164.3 520.7,164 520.8,170.2 520.9,172.5 521,172.3 521.1,177.4 521.2,175.7 521.3,175.2 521.4,168.6 521.6,160.9 521.7,157.1 521.8,159 521.9,164 522,166.2 522.1,165.8 522.2,166.6 522.3,167.8 522.4,168.8 522.5,165.1 522.6,166.1 522.7,164 522.8,163.9 522.9,167.2 523,167.1 523.2,168.7 523.3,172.5 523.4,170.1 523.5,173.5 523.6,176.7 523.7,177.2 523.8,177.9 523.9,177.6 524,175.6 524.1,168.9 524.2,163.4 524.3,167 524.4,172.5 524.5,174.1 524.6,176.3 524.8,175.6 524.9,176.9 525,173.1 525.1,173.8 525.2,168.8 525.3,169.1 525.4,168.9 525.5,171.4 525.6,174.9 525.7,175 525.8,176.6 525.9,176.5 526,179 526.1,181.3 526.3,182.2 526.4,181 526.5,182.2 526.6,177 526.7,171.9 526.8,168.6 526.9,171.4 527,174.5 527.1,173.9 527.2,175.8 527.3,176.5 527.4,175.6 527.5,175.4 527.6,174.3 527.7,172.2 527.9,171.1 528,172.3 528.1,172.9 528.2,173.8 528.3,173.9 528.4,174.1 528.5,173.4 528.6,178.2 528.7,182.7 528.8,184.2 528.9,182.4 529,183 529.1,173.1 529.2,171.2 529.3,168 529.5,166.3 529.6,171.1 529.7,172.3 529.8,173 529.9,175.8 530,174.1 530.1,172.1 530.2,170.6 530.3,169.4 530.4,168 530.5,169.6 530.6,170.2 530.7,170 530.8,172.4 530.9,173 531.1,172.3 531.2,174.1 531.3,174.9 531.4,175.2 531.5,177.4 531.6,175.4 531.7,173.5 531.8,166.1 531.9,161.5 532,165 532.1,171.2 532.2,171.2 532.3,172.4 532.4,172.9 532.5,172 532.7,169.3 532.8,170.5 532.9,165.8 533,161.7 533.1,165.7 533.2,165.4 533.3,169.7 533.4,168.5 533.5,171.3 533.6,174 533.7,176.6 533.8,178 533.9,178.9 534,182 534.1,177.3 534.3,174.5 534.4,157.6 534.5,149.4 534.6,154.2 534.7,165.7 534.8,173.1 534.9,171.4 535,171.6 535.1,172.2 535.2,165.1 535.3,163.4 535.4,155.4 535.5,153.1 535.6,154.7 535.7,164.5 535.9,167.3 536,164.1 536.1,172.4 536.2,170.1 536.3,173.4 536.4,174.7 536.5,176.8 536.6,180.8 536.7,175.4 536.8,170 536.9,163 537,154.7 537.1,156.2 537.2,161.4 537.3,170.9 537.5,167.8 537.6,169.2 537.7,169 537.8,167.9 537.9,166.2 538,163.5 538.1,158.8 538.2,161.5 538.3,162.7 538.4,163.6 538.5,168.7 538.6,170.6 538.7,171 538.8,176.5 539,180.8 539.1,180.3 539.2,180.2 539.3,181 539.4,172 539.5,160.7 539.6,151.5 539.7,154.1 539.8,162.2 539.9,164.5 540,165.6 540.1,164 540.2,166.2 540.3,162.8 540.4,161.4 540.6,160.4 540.7,157.9 540.8,157.9 540.9,160 541,162.2 541.1,162.7 541.2,163.3 541.3,166 541.4,170.2 541.5,169 541.6,175.3 541.7,172.4 541.8,174.7 541.9,166.9 542,165.5 542.2,165.8 542.3,166.4 542.4,167.1 542.5,168.7 542.6,171.6 542.7,171.9 542.8,169.4 542.9,169.9 543,170.4 543.1,170.9 543.2,171.3 543.3,171.8 543.4,172.4 543.5,172.8 543.6,174.1 543.8,175.2 543.9,174.6 544,178.3 544.1,178.4 544.2,180.7 544.3,180.7 544.4,181.2 544.5,178.8 544.6,174.1 544.7,168.4 544.8,170.3 544.9,173.6 545,178.1 545.1,179.6 545.2,178.2 545.4,179.5 545.5,177.1 545.6,176.7 545.7,175 545.8,173.8 545.9,174.4 546,174.5 546.1,176.7 546.2,176.6 546.3,177.7 546.4,179.1 546.5,179.8 546.6,181.1 546.7,180.3 546.8,181.7 547,180.3 547.1,178.7 547.2,174.2 547.3,170.1 547.4,172 547.5,175.8 547.6,176 547.7,176.5 547.8,177.3 547.9,175.1 548,176 548.1,174.5 548.2,172.1 548.3,169.1 548.4,170 548.6,170.6 548.7,174.5 548.8,174.2 548.9,175 549,175.2 549.1,177.4 549.2,179.6 549.3,182.2 549.4,182 549.5,179.2 549.6,176.6 549.7,173.2 549.8,170.5 549.9,172.5 550.1,173.2 550.2,174.2 550.3,176.4 550.4,175.6 550.5,174.1 550.6,174.3 550.7,173.4 550.8,172.8 550.9,171.7 551,172.6 551.1,173.6 551.2,173.8 551.3,174.9 551.4,175.2 551.5,176.1 551.7,178.4 551.8,179 551.9,180.9 552,181 552.1,181.2 552.2,178.3 552.3,175.2 552.4,169.1 552.5,172.7 552.6,178 552.7,180 552.8,180 552.9,181.1 553,181 553.1,181 553.3,180.3 553.4,180.4 553.5,177.2 553.6,178.8 553.7,180.3 553.8,182.2 553.9,182.2 554,183.5 554.1,183.8 554.2,184.5 554.3,185.4 554.4,186.5 554.5,186.1 554.6,185.7 554.7,184.4 554.9,179.6 555,174.5 555.1,178.7 555.2,179.5 555.3,182.8 555.4,184.6 555.5,184.9 555.6,184 555.7,184.9 555.8,182.4 555.9,180.5 556,175.5 556.1,178.3 556.2,179.8 556.3,180.2 556.5,183.9 556.6,185 556.7,184.8 556.8,185.9 556.9,186.3 557,186.8 557.1,185.9 557.2,186.3 557.3,184.4 557.4,181.9 557.5,180 557.6,181.4 557.7,182.5 557.8,183.6 557.9,183.5 558.1,184.8 558.2,184.5 558.3,184.2 558.4,183.5 558.5,182.8 558.6,181.9 558.7,181.4 558.8,183 558.9,182.8 559,183.1 559.1,183.5 559.2,184.1 559.3,185.1 559.4,186.1 559.5,186 559.7,186.7 559.8,186.2 559.9,183.7 560,181.2 560.1,180 560.2,179.9 560.3,181.5 560.4,183 560.5,184.6 560.6,184.2 560.7,183.5 560.8,184 560.9,183.1 561,182.3 561.1,181.7 561.3,182.5 561.4,183.6 561.5,183.3" fill="none" stroke="#505050" stroke-width="0.35" stroke-linejoin="miter" stroke-miterlimit="2"/>
<polyline points="329.47,183.56 329.87,155.67 330.27,184.56" fill="none" stroke="#505050" stroke-width="0.35"/>
<polyline points="336.99,164.63 337.39,137.52 337.79,165.63" fill="none" stroke="#505050" stroke-width="0.35"/>
<polyline points="339.19,150.02 339.59,114.19 339.99,151.02" fill="none" stroke="#505050" stroke-width="0.35"/>
<polyline points="342.17,167.35 342.57,142.7 342.97,168.35" fill="none" stroke="#505050" stroke-width="0.35"/>
<polyline points="356.3,172.15 356.7,141.41 357.1,173.15" fill="none" stroke="#505050" stroke-width="0.35"/>
<polyline points="373.16,174.22 373.56,128.44 373.96,175.22" fill="none" stroke="#505050" stroke-width="0.35"/>
<polyline points="403.36,175.65 403.76,154.37 404.16,176.65" fill="none" stroke="#505050" stroke-width="0.35"/>
<polyline points="404.03,173.65 404.43,134.93 404.83,174.65" fill="none" stroke="#505050" stroke-width="0.35"/>
<polyline points="406.62,167.22 407.02,116.78 407.42,168.22" fill="none" stroke="#505050" stroke-width="0.35"/>
<polyline points="409.34,159.19 409.74,133.63 410.14,160.19" fill="none" stroke="#505050" stroke-width="0.35"/>
<polyline points="432.41,176.81 432.81,150.48 433.21,177.81" fill="none" stroke="#505050" stroke-width="0.35"/>
<polyline points="435.66,177.46 436.06,137.52 436.46,178.46" fill="none" stroke="#505050" stroke-width="0.35"/>
<polyline points="438.9,169.04 439.3,131.04 439.7,170.04" fill="none" stroke="#505050" stroke-width="0.35"/>
<polyline points="457.04,170.33 457.44,141.41 457.84,171.33" fill="none" stroke="#505050" stroke-width="0.35"/>
<polyline points="467.41,171.63 467.81,147.89 468.21,172.63" fill="none" stroke="#505050" stroke-width="0.35"/>
<polyline points="476.49,176.81 476.89,155.67 477.29,177.81" fill="none" stroke="#505050" stroke-width="0.35"/>
<polyline points="484.03,182.57 484.43,160.85 484.83,183.57" fill="none" stroke="#505050" stroke-width="0.35"/>
<polyline points="486.62,176.69 487.02,158.26 487.42,177.69" fill="none" stroke="#505050" stroke-width="0.35"/>
<polyline points="492.97,185.89 493.37,166.04 493.77,186.89" fill="none" stroke="#505050" stroke-width="0.35"/>
<polyline points="496.73,174.61 497.13,153.07 497.53,175.61" fill="none" stroke="#505050" stroke-width="0.35"/>
<polyline points="499.97,173.44 500.37,149.19 500.77,174.44" fill="none" stroke="#505050" stroke-width="0.35"/>
<polyline points="516.56,174.12 516.96,155.67 517.36,175.12" fill="none" stroke="#505050" stroke-width="0.35"/>
<polyline points="518.64,172.04 519.04,147.89 519.44,173.04" fill="none" stroke="#505050" stroke-width="0.35"/>
<polyline points="521.62,169.43 522.02,158.26 522.42,170.43" fill="none" stroke="#505050" stroke-width="0.35"/>
<polyline points="531.21,175.13 531.61,158.26 532.01,176.13" fill="none" stroke="#505050" stroke-width="0.35"/>
<polyline points="533.8,173.96 534.2,144 534.6,174.96" fill="none" stroke="#505050" stroke-width="0.35"/>
<polyline points="536.4,172.28 536.8,145.3 537.2,173.28" fill="none" stroke="#505050" stroke-width="0.35"/>
<polyline points="539.64,166.44 540.04,151.78 540.44,167.44" fill="none" stroke="#505050" stroke-width="0.35"/>
<polyline points="548.71,178.11 549.11,164.74 549.51,179.11" fill="none" stroke="#505050" stroke-width="0.35"/>
<polyline points="328.7,162.15 330.7,162.15 332.7,162.15 334.7,162.15 336.7,162.15 338.7,162.15 340.7,162.15 342.7,162.15 344.7,162.11 346.7,162.03 348.7,161.95 350.7,161.87 352.7,161.79 354.7,161.71 356.7,161.63 358.7,161.63 360.7,161.63 362.7,161.63 364.7,161.63 366.7,161.63 368.7,161.63 370.7,161.63 372.7,161.63 374.7,161.63 376.7,161.74 378.7,161.85 380.7,161.96 382.7,162.08 384.7,162.19 386.7,162.31 388.7,162.42 390.7,162.54 392.7,162.65 394.7,162.8 396.7,162.95 398.7,163.11 400.7,163.27 402.7,163.42 404.7,162.93 406.7,163.11 408.7,163.3 410.7,163.48 412.7,163.66 414.7,163.85 416.7,163.97 418.7,163.99 420.7,164.01 422.7,164.03 424.7,164.05 426.7,164.07 428.7,164.09 430.7,164.11 432.7,164.13 434.7,164.15 436.7,164.17 438.7,164.19 440.7,164.21 442.7,164.21 444.7,164.17 446.7,164.13 448.7,164.09 450.7,164.05 452.7,164.01 454.7,163.97 456.7,164.07 458.7,164.19 460.7,164.31 462.7,164.43 464.7,164.55 466.7,164.67 468.7,164.85 470.7,165.09 472.7,165.33 474.7,165.56 476.7,165.8 478.7,166.04 480.7,166.28 482.7,166.52 484.7,166.04 486.7,166.1 488.7,166.17 490.7,166.23 492.7,166.29 494.7,166.36 496.7,166.42 498.7,166.49 500.7,166.55 502.7,166.62 504.7,166.68 506.7,166.74 508.7,166.81 510.7,166.85 512.7,166.89 514.7,166.93 516.7,166.97 518.7,167.01 520.7,167.05 522.7,167.09 524.7,167.13 526.7,167.17 528.7,167.21 530.7,167.25 532.7,167.29 534.7,167.33 536.7,167.33 538.7,167.33 540.7,167.33 542.7,167.33 544.7,167.33 546.7,167.33 548.7,167.33 550.7,167.33 552.7,167.33 554.7,167.33 556.7,167.33 558.7,167.33 560.7,167.33 561.3,167.33" fill="none" stroke="#4cae4c" stroke-width="1.3"/>
<path d="M328.7,182.89 C328.92,182.46 329.57,180.51 330,180.3 C330.43,180.08 330.86,181.81 331.3,181.59 C331.73,181.38 332.16,179 332.59,179 C333.02,179 333.46,180.73 333.89,181.59 C334.32,182.46 334.75,185.7 335.19,184.19 C335.62,182.67 336.05,177.06 336.48,172.52 C336.91,167.98 337.35,161.07 337.78,156.96 C338.21,152.86 338.73,149.62 339.07,147.89 C339.42,146.16 339.51,145.51 339.85,146.59 C340.2,147.67 340.72,151.56 341.15,154.37 C341.58,157.18 342.01,160.42 342.44,163.44 C342.88,166.47 343.31,170.14 343.74,172.52 C344.17,174.9 344.6,176.62 345.04,177.7 C345.47,178.78 345.9,178.35 346.33,179 C346.77,179.65 347.2,180.73 347.63,181.59 C348.06,182.46 348.49,183.84 348.93,184.19 C349.36,184.53 349.79,184.31 350.22,183.67 C350.65,183.02 351.09,181.51 351.52,180.3 C351.95,179.09 352.38,177.7 352.81,176.41 C353.25,175.11 353.68,173.38 354.11,172.52 C354.54,171.65 354.98,171.78 355.41,171.22 C355.84,170.66 356.27,169.15 356.7,169.15 C357.14,169.15 357.57,171.09 358,171.22 C358.43,171.35 358.86,170.36 359.3,169.93 C359.73,169.49 360.16,168.41 360.59,168.63 C361.02,168.85 361.46,169.71 361.89,171.22 C362.32,172.73 362.75,175.98 363.19,177.7 C363.62,179.43 364.05,180.73 364.48,181.59 C364.91,182.46 365.35,182.98 365.78,182.89 C366.21,182.8 366.64,181.72 367.07,181.07 C367.51,180.43 367.94,179.56 368.37,179 C368.8,178.44 369.23,178.35 369.67,177.7 C370.1,177.06 370.53,176.19 370.96,175.11 C371.4,174.03 371.83,171.87 372.26,171.22 C372.69,170.57 373.12,170.79 373.56,171.22 C373.99,171.65 374.42,172.52 374.85,173.81 C375.28,175.11 375.72,178.22 376.15,179 C376.58,179.78 377.01,178.27 377.44,178.48 C377.88,178.7 378.31,179.78 378.74,180.3 C379.17,180.81 379.6,181.16 380.04,181.59 C380.47,182.02 380.9,182.89 381.33,182.89 C381.77,182.89 382.2,182.46 382.63,181.59 C383.06,180.73 383.49,178.57 383.93,177.7 C384.36,176.84 384.79,176.19 385.22,176.41 C385.65,176.62 386.09,178.35 386.52,179 C386.95,179.65 387.38,180.3 387.81,180.3 C388.25,180.3 388.68,179.65 389.11,179 C389.54,178.35 389.98,177.7 390.41,176.41 C390.84,175.11 391.27,172.73 391.7,171.22 C392.14,169.71 392.57,168.63 393,167.33 C393.43,166.04 393.86,163.88 394.3,163.44 C394.73,163.01 395.16,163.44 395.59,164.74 C396.02,166.04 396.46,168.85 396.89,171.22 C397.32,173.6 397.75,177.27 398.19,179 C398.62,180.73 399.05,180.94 399.48,181.59 C399.91,182.24 400.35,183.32 400.78,182.89 C401.21,182.46 401.64,180.51 402.07,179 C402.51,177.49 402.94,175.33 403.37,173.81 C403.8,172.3 404.3,171.22 404.67,169.93 C405.04,168.63 405.22,166.9 405.59,166.04 C405.96,165.17 406.46,165.82 406.89,164.74 C407.32,163.66 407.75,161.07 408.19,159.56 C408.62,158.04 409.05,155.88 409.48,155.67 C409.91,155.45 410.35,157.61 410.78,158.26 C411.21,158.91 411.64,160.2 412.07,159.56 C412.51,158.91 412.94,155.36 413.37,154.37 C413.8,153.38 414.23,153.16 414.67,153.59 C415.1,154.02 415.53,155.1 415.96,156.96 C416.4,158.82 416.83,161.93 417.26,164.74 C417.69,167.55 418.12,171.01 418.56,173.81 C418.99,176.62 419.42,180.08 419.85,181.59 C420.28,183.1 420.72,183.32 421.15,182.89 C421.58,182.46 422.01,179.86 422.44,179 C422.88,178.14 423.31,177.7 423.74,177.7 C424.17,177.7 424.6,178.44 425.04,179 C425.47,179.56 425.9,180.86 426.33,181.07 C426.77,181.29 427.2,180.56 427.63,180.3 C428.06,180.04 428.49,179.73 428.93,179.52 C429.36,179.3 429.79,179.3 430.22,179 C430.65,178.7 431.09,178.57 431.52,177.7 C431.95,176.84 432.38,175.33 432.81,173.81 C433.25,172.3 433.68,169.06 434.11,168.63 C434.54,168.2 434.98,169.71 435.41,171.22 C435.84,172.73 436.27,177.27 436.7,177.7 C437.14,178.14 437.57,175.76 438,173.81 C438.43,171.87 438.86,167.98 439.3,166.04 C439.73,164.09 440.16,161.93 440.59,162.15 C441.02,162.36 441.46,165.39 441.89,167.33 C442.32,169.28 442.75,172.09 443.19,173.81 C443.62,175.54 444.05,177.49 444.48,177.7 C444.91,177.92 445.35,176.62 445.78,175.11 C446.21,173.6 446.64,170.36 447.07,168.63 C447.51,166.9 447.94,165.52 448.37,164.74 C448.8,163.96 449.23,163.75 449.67,163.96 C450.1,164.18 450.53,165.04 450.96,166.04 C451.4,167.03 451.83,168.85 452.26,169.93 C452.69,171.01 453.12,172.3 453.56,172.52 C453.99,172.73 454.42,171.87 454.85,171.22 C455.28,170.57 455.72,169.28 456.15,168.63 C456.58,167.98 457.01,167.42 457.44,167.33 C457.88,167.25 458.31,168.33 458.74,168.11 C459.17,167.9 459.6,166.47 460.04,166.04 C460.47,165.6 460.9,165.52 461.33,165.52 C461.77,165.52 462.2,166.17 462.63,166.04 C463.06,165.91 463.49,165.39 463.93,164.74 C464.36,164.09 464.79,162.15 465.22,162.15 C465.65,162.15 466.09,163.66 466.52,164.74 C466.95,165.82 467.38,167.33 467.81,168.63 C468.25,169.93 468.68,171.22 469.11,172.52 C469.54,173.81 469.98,175.33 470.41,176.41 C470.84,177.49 471.27,178.48 471.7,179 C472.14,179.52 472.57,179.73 473,179.52 C473.43,179.3 473.86,178.44 474.3,177.7 C474.73,176.97 475.16,175.76 475.59,175.11 C476.02,174.46 476.46,174.12 476.89,173.81 C477.32,173.51 477.75,173.21 478.19,173.3 C478.62,173.38 479.05,173.81 479.48,174.33 C479.91,174.85 480.35,176.49 480.78,176.41 C481.21,176.32 481.64,173.81 482.07,173.81 C482.51,173.81 482.94,175.33 483.37,176.41 C483.8,177.49 484.3,180.3 484.67,180.3 C485.04,180.3 485.22,177.49 485.59,176.41 C485.96,175.33 486.46,174.46 486.89,173.81 C487.32,173.17 487.75,172.09 488.19,172.52 C488.62,172.95 489.05,174.9 489.48,176.41 C489.91,177.92 490.35,180.3 490.78,181.59 C491.21,182.89 491.64,183.97 492.07,184.19 C492.51,184.4 492.94,183.75 493.37,182.89 C493.8,182.02 494.23,180.3 494.67,179 C495.1,177.7 495.53,176.41 495.96,175.11 C496.4,173.81 496.83,172.22 497.26,171.22 C497.69,170.23 498.12,169.36 498.56,169.15 C498.99,168.93 499.42,169.58 499.85,169.93 C500.28,170.27 500.72,171.09 501.15,171.22 C501.58,171.35 502.01,170.49 502.44,170.7 C502.88,170.92 503.31,172 503.74,172.52 C504.17,173.04 504.6,173.81 505.04,173.81 C505.47,173.81 505.9,172.52 506.33,172.52 C506.77,172.52 507.2,172.95 507.63,173.81 C508.06,174.68 508.49,176.62 508.93,177.7 C509.36,178.78 509.79,179.43 510.22,180.3 C510.65,181.16 511.09,182.67 511.52,182.89 C511.95,183.1 512.38,182.46 512.81,181.59 C513.25,180.73 513.68,179.22 514.11,177.7 C514.54,176.19 514.98,173.6 515.41,172.52 C515.84,171.44 516.27,171.52 516.7,171.22 C517.14,170.92 517.57,171.14 518,170.7 C518.43,170.27 518.86,169.49 519.3,168.63 C519.73,167.77 520.16,165.95 520.59,165.52 C521.02,165.09 521.46,165.3 521.89,166.04 C522.32,166.77 522.75,168.63 523.19,169.93 C523.62,171.22 524.05,172.73 524.48,173.81 C524.91,174.9 525.35,176.19 525.78,176.41 C526.21,176.62 526.64,175.54 527.07,175.11 C527.51,174.68 527.94,174.25 528.37,173.81 C528.8,173.38 529.23,172.86 529.67,172.52 C530.1,172.17 530.53,171.74 530.96,171.74 C531.4,171.74 531.83,172.6 532.26,172.52 C532.69,172.43 533.12,171.52 533.56,171.22 C533.99,170.92 534.42,170.92 534.85,170.7 C535.28,170.49 535.72,170.27 536.15,169.93 C536.58,169.58 537.01,169.06 537.44,168.63 C537.88,168.2 538.31,168.2 538.74,167.33 C539.17,166.47 539.69,164.31 540.04,163.44 C540.38,162.58 540.51,161.93 540.81,162.15 C541.12,162.36 541.46,163.23 541.85,164.74 C542.24,166.25 542.72,169.19 543.15,171.22 C543.58,173.25 544.01,175.63 544.44,176.93 C544.88,178.22 545.31,178.87 545.74,179 C546.17,179.13 546.6,178.35 547.04,177.7 C547.47,177.06 547.9,175.54 548.33,175.11 C548.77,174.68 549.2,175.33 549.63,175.11 C550.06,174.9 550.49,173.25 550.93,173.81 C551.36,174.38 551.79,176.97 552.22,178.48 C552.65,179.99 553.09,181.94 553.52,182.89 C553.95,183.84 554.38,183.88 554.81,184.19 C555.25,184.49 555.68,184.79 556.11,184.7 C556.54,184.62 556.98,183.75 557.41,183.67 C557.84,183.58 558.27,184.31 558.7,184.19 C559.14,184.06 559.57,182.89 560,182.89 C560.43,182.89 561.08,183.97 561.3,184.19" fill="none" stroke="#0000f8" stroke-width="1.3" stroke-linejoin="round"/>
<line x1="442.3" y1="188.9" x2="442.3" y2="113.7" stroke="#ff22ff" stroke-width="1.25" stroke-dasharray="1.3,1.2"/>
<rect x="317.85" y="109.5" width="255.8" height="83.2" fill="none" stroke="#a4a4a4" stroke-width="0.95"/>
<line x1="316.45" y1="188.9" x2="318.15" y2="188.9" stroke="#777" stroke-width="0.9"/>
<text x="315.05" y="190.65" text-anchor="end" font-size="4.7" letter-spacing="-0.15" class="t">0</text>
<line x1="316.45" y1="173.08" x2="318.15" y2="173.08" stroke="#777" stroke-width="0.9"/>
<text x="315.05" y="174.83" text-anchor="end" font-size="4.7" letter-spacing="-0.15" class="t">20</text>
<line x1="316.45" y1="157.26" x2="318.15" y2="157.26" stroke="#777" stroke-width="0.9"/>
<text x="315.05" y="159.01" text-anchor="end" font-size="4.7" letter-spacing="-0.15" class="t">40</text>
<line x1="316.45" y1="141.44" x2="318.15" y2="141.44" stroke="#777" stroke-width="0.9"/>
<text x="315.05" y="143.19" text-anchor="end" font-size="4.7" letter-spacing="-0.15" class="t">60</text>
<line x1="316.45" y1="125.62" x2="318.15" y2="125.62" stroke="#777" stroke-width="0.9"/>
<text x="315.05" y="127.37" text-anchor="end" font-size="4.7" letter-spacing="-0.15" class="t">80</text>
<line x1="316.45" y1="109.8" x2="318.15" y2="109.8" stroke="#777" stroke-width="0.9"/>
<text x="315.05" y="111.55" text-anchor="end" font-size="4.7" letter-spacing="-0.15" class="t">100</text>
<line x1="329" y1="192.4" x2="329" y2="194" stroke="#8a8a8a" stroke-width="0.9"/>
<line x1="346.93" y1="192.4" x2="346.93" y2="194" stroke="#8a8a8a" stroke-width="0.9"/>
<line x1="364.86" y1="192.4" x2="364.86" y2="194" stroke="#8a8a8a" stroke-width="0.9"/>
<line x1="382.79" y1="192.4" x2="382.79" y2="194" stroke="#8a8a8a" stroke-width="0.9"/>
<line x1="400.72" y1="192.4" x2="400.72" y2="194" stroke="#8a8a8a" stroke-width="0.9"/>
<line x1="418.65" y1="192.4" x2="418.65" y2="194" stroke="#8a8a8a" stroke-width="0.9"/>
<line x1="436.58" y1="192.4" x2="436.58" y2="194" stroke="#8a8a8a" stroke-width="0.9"/>
<line x1="454.51" y1="192.4" x2="454.51" y2="194" stroke="#8a8a8a" stroke-width="0.9"/>
<line x1="472.44" y1="192.4" x2="472.44" y2="194" stroke="#8a8a8a" stroke-width="0.9"/>
<line x1="490.37" y1="192.4" x2="490.37" y2="194" stroke="#8a8a8a" stroke-width="0.9"/>
<line x1="508.3" y1="192.4" x2="508.3" y2="194" stroke="#8a8a8a" stroke-width="0.9"/>
<line x1="526.23" y1="192.4" x2="526.23" y2="194" stroke="#8a8a8a" stroke-width="0.9"/>
<line x1="544.16" y1="192.4" x2="544.16" y2="194" stroke="#8a8a8a" stroke-width="0.9"/>
<text x="445.75" y="107.7" text-anchor="middle" font-size="5.3" class="b" textLength="41.2" lengthAdjust="spacingAndGlyphs">Exeter_Roadside</text>
<text x="320.85" y="122" font-size="11.6" stroke="#000" stroke-width="0.05">(d)</text>
<text transform="translate(304.8,150.7) rotate(-90)" text-anchor="middle" font-size="5.6" fill="#1a1a1a">NO2 (&#956;gm<tspan dy="-2" font-size="3.9">-3</tspan><tspan dy="2">)</tspan></text>
<polyline points="29.6,286.4 29.7,288 29.8,287.2 29.9,287.9 30,287.8 30.1,288 30.2,285.6 30.3,283.8 30.5,281.5 30.6,282 30.7,283.8 30.8,283.8 30.9,284.6 31,284.6 31.1,284.2 31.2,284.4 31.3,283.3 31.4,283.3 31.5,281.9 31.6,283.2 31.7,283.9 31.8,283.9 31.9,284.8 32.1,285 32.2,285.2 32.3,287.3 32.4,288 32.5,287.7 32.6,288.8 32.7,286.9 32.8,285 32.9,281.7 33,280 33.1,280.9 33.2,282.3 33.3,283.8 33.4,284.5 33.5,284.9 33.7,283.5 33.8,282.8 33.9,282.2 34,281.4 34.1,280.2 34.2,280 34.3,281.3 34.4,282 34.5,281.3 34.6,281.7 34.7,283.1 34.8,283.4 34.9,284 35,284.8 35.1,284.4 35.3,284.5 35.4,280.9 35.5,278.7 35.6,275 35.7,274.4 35.8,279.7 35.9,280 36,281.4 36.1,281.2 36.2,280.9 36.3,280.4 36.4,277.4 36.5,275.2 36.6,272.7 36.8,276.1 36.9,278.1 37,277.9 37.1,278.1 37.2,279.4 37.3,281.5 37.4,283.1 37.5,285.6 37.6,285.4 37.7,284.4 37.8,284 37.9,279.6 38,257.9 38.1,233.1 38.2,244.3 38.4,271.3 38.5,274.9 38.6,275.9 38.7,273.5 38.8,274.3 38.9,270.1 39,255.9 39.1,254.7 39.2,238.7 39.3,235.7 39.4,255.2 39.5,257 39.6,260.8 39.7,266.5 39.8,267.6 40,270.4 40.1,274.2 40.2,275.9 40.3,279.5 40.4,277.5 40.5,264.9 40.6,253.3 40.7,247.3 40.8,244 40.9,253 41,257.3 41.1,256.5 41.2,262.1 41.3,260.1 41.4,253.2 41.6,254.2 41.7,247.9 41.8,245.8 41.9,245.4 42,248.2 42.1,251.7 42.2,253.8 42.3,255.8 42.4,253.8 42.5,260.3 42.6,265.1 42.7,266.6 42.8,270.1 42.9,267.2 43,260.6 43.2,242.3 43.3,231.3 43.4,240.6 43.5,252 43.6,262.6 43.7,261.6 43.8,260.6 43.9,265.3 44,259.9 44.1,261.4 44.2,255.6 44.3,254 44.4,255.3 44.5,258.7 44.6,266.6 44.8,264.8 44.9,269.5 45,270.2 45.1,273.7 45.2,275.7 45.3,277.1 45.4,277.5 45.5,278 45.6,275.3 45.7,270.6 45.8,268.7 45.9,270.3 46,277.3 46.1,278.5 46.2,279.6 46.4,281.3 46.5,280.6 46.6,281.4 46.7,279.4 46.8,279.6 46.9,277.7 47,279.5 47.1,282.3 47.2,282.5 47.3,284.2 47.4,285.5 47.5,285.8 47.6,285.8 47.7,286.4 47.9,287.5 48,287.2 48.1,286.8 48.2,286.3 48.3,284.5 48.4,282.6 48.5,283 48.6,285.7 48.7,286.5 48.8,286.3 48.9,287.3 49,286.7 49.1,286.5 49.2,285.6 49.3,285.5 49.5,284.1 49.6,285.2 49.7,286.5 49.8,285.9 49.9,287.3 50,287.8 50.1,288.1 50.2,288.3 50.3,288.1 50.4,288.5 50.5,288.6 50.6,288 50.7,287.4 50.8,285.3 50.9,282.6 51.1,282.2 51.2,284.7 51.3,286.3 51.4,286 51.5,286.5 51.6,285.9 51.7,285.6 51.8,285.3 51.9,283.7 52,283.3 52.1,282.9 52.2,283.6 52.3,284.4 52.4,284.8 52.5,285.3 52.7,285.3 52.8,286.1 52.9,286.6 53,287.1 53.1,286.9 53.2,286.9 53.3,286.3 53.4,284.7 53.5,284.6 53.6,284.9 53.7,285.9 53.8,286.1 53.9,286 54,286.6 54.1,285.7 54.3,285.5 54.4,285.1 54.5,284.9 54.6,284.3 54.7,284.7 54.8,284.8 54.9,284.6 55,285 55.1,284.7 55.2,285.2 55.3,285.2 55.4,285.9 55.5,286.2 55.6,286.5 55.7,285.6 55.9,284.4 56,283.3 56.1,282.1 56.2,282.1 56.3,283.4 56.4,283.3 56.5,283.3 56.6,283.5 56.7,283.5 56.8,282.5 56.9,282.2 57,281.7 57.1,280.2 57.2,280.5 57.3,281 57.5,281.2 57.6,280.9 57.7,280.8 57.8,281.5 57.9,282.1 58,283 58.1,283 58.2,283.2 58.3,283.2 58.4,281.1 58.5,277 58.6,274.7 58.7,274.5 58.8,277.1 58.9,278.6 59.1,278.4 59.2,278.8 59.3,278.1 59.4,278.3 59.5,275.9 59.6,274.4 59.7,273.2 59.8,273.3 59.9,274.7 60,275.5 60.1,276.4 60.2,276.2 60.3,277.3 60.4,277.6 60.6,281.3 60.7,284.1 60.8,282.9 60.9,280.4 61,274.1 61.1,265 61.2,256.6 61.3,253.6 61.4,271.2 61.5,270.9 61.6,275.8 61.7,278.4 61.8,276.8 61.9,272.4 62,274 62.2,262.9 62.3,264.2 62.4,267.3 62.5,269 62.6,272.2 62.7,276.8 62.8,277 62.9,281 63,282.1 63.1,283 63.2,283.3 63.3,284.8 63.4,284.2 63.5,283.1 63.6,282.5 63.8,281.8 63.9,282.8 64,283.7 64.1,284.7 64.2,284.6 64.3,285.1 64.4,285.7 64.5,285.8 64.6,285.8 64.7,286 64.8,285.9 64.9,286.1 65,286.4 65.1,286.6 65.2,286.6 65.4,286.8 65.5,287 65.6,287.7 65.7,287.7 65.8,288.6 65.9,288.3 66,288.7 66.1,287.7 66.2,286.2 66.3,285.5 66.4,285.8 66.5,287.4 66.6,287.4 66.7,287.8 66.8,288.3 67,288 67.1,287.9 67.2,288 67.3,287.8 67.4,287.2 67.5,287.4 67.6,287.5 67.7,287.8 67.8,287.9 67.9,288.1 68,287.8 68.1,288.2 68.2,288.5 68.3,288.9 68.4,289.1 68.6,288.7 68.7,287.5 68.8,285.7 68.9,284.4 69,285.5 69.1,285.8 69.2,286.9 69.3,287 69.4,286.6 69.5,286.4 69.6,286.1 69.7,286 69.8,285.5 69.9,284.6 70,285 70.2,285.7 70.3,285.7 70.4,286.4 70.5,286.7 70.6,286.8 70.7,286.8 70.8,287.2 70.9,287.2 71,287.5 71.1,287.2 71.2,286.8 71.3,284 71.4,282.2 71.5,281.7 71.7,284.1 71.8,286.2 71.9,286.8 72,286.9 72.1,287.4 72.2,287 72.3,286.6 72.4,285.3 72.5,285.1 72.6,285.5 72.7,285.9 72.8,286.2 72.9,286.1 73,287 73.1,288 73.3,288.2 73.4,288.6 73.5,288.7 73.6,289.7 73.7,288.6 73.8,286.1 73.9,284.5 74,283.8 74.1,284.3 74.2,285 74.3,285.4 74.4,285.6 74.5,285.6 74.6,285.8 74.7,285 74.9,284.9 75,284.5 75.1,284 75.2,283.9 75.3,284.4 75.4,284.5 75.5,284.6 75.6,284.9 75.7,284.9 75.8,285.7 75.9,286 76,286.1 76.1,286.6 76.2,286.1 76.3,284.8 76.5,283.6 76.6,282.7 76.7,283.4 76.8,284.4 76.9,285.5 77,285.4 77.1,285.5 77.2,286.1 77.3,285.2 77.4,285.3 77.5,284.8 77.6,284.4 77.7,284.6 77.8,285.4 77.9,286.4 78.1,286.6 78.2,287.4 78.3,287.5 78.4,287.5 78.5,288.2 78.6,288.4 78.7,288.4 78.8,288.8 78.9,288.4 79,285.6 79.1,282.1 79.2,283 79.3,285.3 79.4,288.5 79.5,288.7 79.7,288.8 79.8,288.8 79.9,288.6 80,287.6 80.1,286.3 80.2,286.4 80.3,286.7 80.4,286.6 80.5,287.5 80.6,288.3 80.7,288.5 80.8,289 80.9,289 81,289 81.1,290 81.3,289.8 81.4,289.2 81.5,287.8 81.6,286.5 81.7,285.6 81.8,286 81.9,286.8 82,286.9 82.1,287.2 82.2,286.8 82.3,286.9 82.4,286.5 82.5,286.2 82.6,286 82.7,285.6 82.9,285.6 83,285.7 83.1,285.6 83.2,285.9 83.3,285.9 83.4,286.5 83.5,287.4 83.6,287.6 83.7,288 83.8,288.2 83.9,287.8 84,285.6 84.1,283.4 84.2,282.5 84.4,282 84.5,283.1 84.6,284.5 84.7,284.5 84.8,284.7 84.9,283.7 85,282.8 85.1,282.4 85.2,281.4 85.3,280.3 85.4,281.1 85.5,281.6 85.6,281.5 85.7,281.4 85.8,281.9 86,282.2 86.1,282.6 86.2,283.2 86.3,283.8 86.4,283.7 86.5,282.9 86.6,281.7 86.7,280.2 86.8,278.2 86.9,279.8 87,282.1 87.1,282.8 87.2,282.7 87.3,283.2 87.4,283.9 87.6,283.6 87.7,283.6 87.8,283.4 87.9,283.4 88,283.4 88.1,284.3 88.2,285 88.3,285.7 88.4,285.7 88.5,285.9 88.6,286.8 88.7,288 88.8,288.4 88.9,288.5 89,288.5 89.2,287.8 89.3,285.5 89.4,280 89.5,282 89.6,286.4 89.7,287.7 89.8,287.4 89.9,288.4 90,288 90.1,288 90.2,285.7 90.3,284.6 90.4,282.5 90.5,284.8 90.6,285.9 90.8,287.1 90.9,287.8 91,286.9 91.1,288.3 91.2,288.8 91.3,288.9 91.4,290.3 91.5,289.6 91.6,288.9 91.7,287.6 91.8,284.7 91.9,282 92,283.5 92.1,284.9 92.2,285.7 92.4,285.9 92.5,284.4 92.6,283.8 92.7,283.1 92.8,282.6 92.9,280.8 93,279.3 93.1,280 93.2,280.6 93.3,281.7 93.4,281.9 93.5,281.9 93.6,282.3 93.7,282 93.8,282.5 94,282.6 94.1,282.9 94.2,282.9 94.3,280.2 94.4,277 94.5,275 94.6,276.5 94.7,277.7 94.8,278.4 94.9,279.5 95,279.1 95.1,278 95.2,277.5 95.3,277.1 95.5,276.1 95.6,275 95.7,275.6 95.8,276.5 95.9,276 96,276.2 96.1,276.8 96.2,276.7 96.3,277.9 96.4,282.1 96.5,280.2 96.6,282.3 96.7,279.7 96.8,275.6 96.9,270.9 97.1,260.7 97.2,266.8 97.3,269.6 97.4,276.1 97.5,277.1 97.6,278.2 97.7,276.3 97.8,275.5 97.9,275.6 98,270.5 98.1,269.6 98.2,268.9 98.3,273.5 98.4,275.3 98.5,278.7 98.7,278.9 98.8,281.8 98.9,283.1 99,284 99.1,284.5 99.2,285.2 99.3,285.2 99.4,284.9 99.5,282.7 99.6,281 99.7,281.7 99.8,284.5 99.9,285.4 100,286.7 100.1,287.3 100.3,287.5 100.4,287.5 100.5,286.1 100.6,285.9 100.7,285 100.8,286.2 100.9,286.6 101,286.8 101.1,288.2 101.2,287.9 101.3,288.6 101.4,288.7 101.5,289.1 101.6,289 101.7,289.5 101.9,289.2 102,287.7 102.1,284.4 102.2,282.2 102.3,282.4 102.4,286.7 102.5,287.6 102.6,286.8 102.7,287.4 102.8,286.8 102.9,286.9 103,285.6 103.1,284.8 103.2,281.9 103.3,283 103.5,284.5 103.6,285.2 103.7,286.1 103.8,286.2 103.9,286.1 104,286.4 104.1,286 104.2,286.7 104.3,286.7 104.4,285.6 104.5,284.5 104.6,279.4 104.7,274.5 104.8,277.1 104.9,282 105.1,282.6 105.2,282 105.3,281.9 105.4,280.8 105.5,280.1 105.6,277.6 105.7,276.2 105.8,272.8 105.9,272.8 106,274.5 106.1,274.9 106.2,275.6 106.3,275.1 106.4,273.9 106.5,274.7 106.7,276.2 106.8,276.6 106.9,276.6 107,276.4 107.1,273.8 107.2,268.4 107.3,265.7 107.4,267.1 107.5,270 107.6,273 107.7,272.6 107.8,273 107.9,272.8 108,270.7 108.2,268.7 108.3,267.1 108.4,264.6 108.5,264.8 108.6,266.7 108.7,265.8 108.8,268.5 108.9,269.1 109,269.7 109.1,272.2 109.2,274 109.3,272.9 109.4,273 109.5,273.4 109.6,266.4 109.8,255.1 109.9,248.2 110,245.8 110.1,257 110.2,258 110.3,260.9 110.4,261.2 110.5,263.5 110.6,262.2 110.7,254.8 110.8,255.4 110.9,245.6 111,251.7 111.1,252.1 111.2,259.2 111.4,261.5 111.5,259.1 111.6,262.2 111.7,270.5 111.8,270.3 111.9,275.6 112,276.9 112.1,275.6 112.2,268.4 112.3,260.5 112.4,256.4 112.5,259.1 112.6,261 112.7,266.7 112.8,267.3 113,266.7 113.1,267.4 113.2,268.6 113.3,265.3 113.4,264.1 113.5,262.7 113.6,265.5 113.7,265.8 113.8,267.4 113.9,271.2 114,270.8 114.1,269.9 114.2,272.9 114.3,274.2 114.4,279.8 114.6,277.8 114.7,280.5 114.8,269.9 114.9,269.4 115,270.1 115.1,270.4 115.2,270.6 115.3,271 115.4,271.4 115.5,274.9 115.6,274.7 115.7,272.7 115.8,273.2 115.9,273.6 116,274.2 116.2,274.6 116.3,275 116.4,275.5 116.5,276 116.6,276.5 116.7,278.7 116.8,280.3 116.9,281 117,281.8 117.1,283.7 117.2,283.6 117.3,280.3 117.4,277.8 117.5,274.5 117.6,276.4 117.8,281 117.9,282.6 118,282.7 118.1,283.1 118.2,283.9 118.3,282.9 118.4,282.8 118.5,281.1 118.6,280.7 118.7,280.8 118.8,283.8 118.9,282.8 119,285.4 119.1,285.5 119.3,285.7 119.4,286.1 119.5,286.5 119.6,286.8 119.7,287.4 119.8,287.2 119.9,286.8 120,286.1 120.1,285.6 120.2,285.6 120.3,286.8 120.4,286.8 120.5,287.2 120.6,287.2 120.7,287.4 120.9,287 121,287 121.1,287 121.2,286.7 121.3,287.1 121.4,287.3 121.5,287.1 121.6,287.5 121.7,287.4 121.8,288.1 121.9,287.8 122,288.9 122.1,289.1 122.2,289.3 122.3,289.3 122.5,287.3 122.6,285.3 122.7,284 122.8,284.6 122.9,285.9 123,287.3 123.1,287.3 123.2,287.4 123.3,287.9 123.4,287 123.5,287.1 123.6,286.8 123.7,286.7 123.8,286.9 123.9,286.9 124.1,287.2 124.2,287.2 124.3,287.3 124.4,287.4 124.5,287.7 124.6,287.6 124.7,287.8 124.8,287.6 124.9,287.7 125,287.1 125.1,285.3 125.2,284.5 125.3,285.2 125.4,286.3 125.5,286.6 125.7,287.2 125.8,287 125.9,287.3 126,286.7 126.1,287.1 126.2,285.9 126.3,285.4 126.4,286.4 126.5,286.9 126.6,286.6 126.7,286.9 126.8,287.3 126.9,287.2 127,287.7 127.1,288 127.3,287.7 127.4,287.8 127.5,287.7 127.6,286.8 127.7,284.9 127.8,284 127.9,284.6 128,285.6 128.1,285.9 128.2,286.9 128.3,287 128.4,286.9 128.5,286.3 128.6,286.1 128.7,286.5 128.9,285.5 129,286.3 129.1,286.9 129.2,287.3 129.3,287.4 129.4,287.3 129.5,287.9 129.6,289.1 129.7,288.8 129.8,289.8 129.9,289.4 130,289.9 130.1,288.1 130.2,286 130.3,284 130.5,285.6 130.6,286.9 130.7,287.5 130.8,288 130.9,287.5 131,287.8 131.1,286.8 131.2,287.1 131.3,285.7 131.4,284.8 131.5,284.8 131.6,285.9 131.7,286.1 131.8,286.1 132,286.9 132.1,287.1 132.2,288.3 132.3,287.9 132.4,288.8 132.5,289.2 132.6,288.5 132.7,287.3 132.8,282.5 132.9,279.7 133,280.3 133.1,283.8 133.2,286.2 133.3,286 133.4,285 133.6,286.1 133.7,284.9 133.8,284.3 133.9,282.6 134,280.4 134.1,280.6 134.2,283.3 134.3,282.5 134.4,284.5 134.5,285.5 134.6,285.4 134.7,286.3 134.8,286.5 134.9,286.8 135,287.4 135.2,286.9 135.3,285.8 135.4,283.8 135.5,282.9 135.6,282.8 135.7,285.7 135.8,286.4 135.9,286.7 136,286.4 136.1,286.7 136.2,286.3 136.3,286.1 136.4,284.6 136.5,284.6 136.6,284.5 136.8,285 136.9,286 137,286.3 137.1,286.9 137.2,286.7 137.3,287.3 137.4,287.1 137.5,287.4 137.6,287.2 137.7,286.7 137.8,285.7 137.9,284.2 138,282.9 138.1,282.8 138.2,283.4 138.4,284.7 138.5,284.7 138.6,284.5 138.7,284.3 138.8,283.4 138.9,282.9 139,282.3 139.1,281.2 139.2,282.2 139.3,282.6 139.4,282.4 139.5,282.8 139.6,282.6 139.7,283 139.8,284.1 140,284 140.1,284.5 140.2,284.4 140.3,283.6 140.4,282.3 140.5,277.1 140.6,275.1 140.7,273.2 140.8,278.2 140.9,279.9 141,281.6 141.1,281.6 141.2,281 141.3,280.4 141.4,279.8 141.6,279.9 141.7,278.4 141.8,277.9 141.9,279.1 142,281.1 142.1,282.4 142.2,282.6 142.3,283.3 142.4,284 142.5,284 142.6,284.8 142.7,284.3 142.8,284.3 142.9,283.3 143,280.6 143.2,278.9 143.3,278.1 143.4,282 143.5,282.3 143.6,282.4 143.7,283 143.8,282.9 143.9,281.6 144,281.4 144.1,281.3 144.2,279.5 144.3,280.3 144.4,281.5 144.5,282.6 144.7,283.7 144.8,284.4 144.9,285.5 145,285.5 145.1,286.5 145.2,287.7 145.3,287.6 145.4,288 145.5,286.4 145.6,276.5 145.7,264.6 145.8,274.5 145.9,278.2 146,285.2 146.1,285.2 146.3,286.6 146.4,285.4 146.5,281.3 146.6,278.5 146.7,275.5 146.8,269.6 146.9,272.5 147,275.8 147.1,279.6 147.2,279.2 147.3,277.4 147.4,280.7 147.5,279.9 147.6,282.1 147.7,280.8 147.9,282.2 148,279.8 148.1,273.6 148.2,270.8 148.3,265.1 148.4,267.1 148.5,268.3 148.6,272 148.7,270.3 148.8,271.2 148.9,268.8 149,268.5 149.1,267.4 149.2,267.8 149.3,266.1 149.5,267.2 149.6,267.9 149.7,268.8 149.8,270.8 149.9,270.2 150,271.6 150.1,275.2 150.2,277.9 150.3,277.9 150.4,281.3 150.5,279.8 150.6,276.8 150.7,271.7 150.8,266 150.9,270.1 151.1,271.8 151.2,277.5 151.3,277.2 151.4,277.9 151.5,278.2 151.6,277.8 151.7,278.2 151.8,276.4 151.9,275.2 152,276.8 152.1,278.7 152.2,279.8 152.3,280.6 152.4,280.1 152.5,282.6 152.7,282.3 152.8,283.1 152.9,284.8 153,285.7 153.1,283.1 153.2,280.9 153.3,276.7 153.4,275.3 153.5,274.2 153.6,278.2 153.7,281.5 153.8,280 153.9,280.3 154,280.9 154.1,278.7 154.3,278.2 154.4,277 154.5,276.4 154.6,276.5 154.7,276.2 154.8,277.6 154.9,277.7 155,278.1 155.1,278.6 155.2,279.3 155.3,280.1 155.4,281.2 155.5,285.2 155.6,282 155.8,274 155.9,268.7 156,260.1 156.1,265 156.2,268.4 156.3,273 156.4,271.6 156.5,273.8 156.6,272.4 156.7,270 156.8,268.8 156.9,268.7 157,266.8 157.1,267.3 157.2,267.1 157.4,268 157.5,268.6 157.6,268.8 157.7,270.1 157.8,270.6 157.9,271.8 158,271.4 158.1,272.7 158.2,271.4 158.3,268.7 158.4,266.5 158.5,263.1 158.6,264.6 158.7,267.6 158.8,268.6 159,267.9 159.1,267.7 159.2,267.7 159.3,266.8 159.4,266.4 159.5,265.4 159.6,264 159.7,264.6 159.8,265.3 159.9,266.2 160,266.4 160.1,267 160.2,267.2 160.3,268.2 160.4,271.7 160.6,270.6 160.7,271.4 160.8,272 160.9,265.6 161,259.2 161.1,252.9 161.2,254.3 161.3,261.2 161.4,264.9 161.5,265.3 161.6,262.4 161.7,261.6 161.8,259.8 161.9,261 162,258.7 162.2,252.3 162.3,255.4 162.4,257.5 162.5,257.4 162.6,259.3 162.7,260.9 162.8,259.6 162.9,270.3 163,271.6 163.1,272.1 163.2,275.4 163.3,270.5 163.4,261.3 163.5,254.8 163.6,250.9 163.8,251.1 163.9,253.6 164,260.2 164.1,258.5 164.2,257.1 164.3,257.9 164.4,256.7 164.5,254.9 164.6,254 164.7,252.2 164.8,253.8 164.9,254.3 165,254.8 165.1,254.7 165.2,255.4 165.4,260.1 165.5,267.3 165.6,270.4 165.7,273.3 165.8,276.3 165.9,264.8 166,257.8 166.1,250.1 166.2,247.8 166.3,249.3 166.4,254.3 166.5,254.6 166.6,258.9 166.7,260.4 166.8,257.2 167,256.6 167.1,255.9 167.2,256.2 167.3,255.1 167.4,255.6 167.5,258.2 167.6,260 167.7,260.8 167.8,264.3 167.9,263.2 168,266.8 168.1,269.3 168.2,268.9 168.3,270.1 168.5,269.6 168.6,266.4 168.7,262.9 168.8,257.4 168.9,258.3 169,263.6 169.1,267.7 169.2,268.9 169.3,271.3 169.4,271.9 169.5,268.4 169.6,270.4 169.7,268 169.8,265.3 169.9,266.2 170.1,268.8 170.2,270.1 170.3,271.7 170.4,275.4 170.5,276 170.6,276 170.7,277.8 170.8,279 170.9,280.5 171,278.8 171.1,278.4 171.2,276.2 171.3,276.1 171.4,276.9 171.5,278.6 171.7,279.2 171.8,280.4 171.9,280.4 172,280.4 172.1,281 172.2,281.1 172.3,281 172.4,281.1 172.5,281.7 172.6,282.4 172.7,283 172.8,283.7 172.9,283.6 173,284.3 173.1,285.5 173.3,285.5 173.4,286.5 173.5,287.1 173.6,287.1 173.7,286 173.8,279.2 173.9,277.6 174,277.9 174.1,285.3 174.2,285.8 174.3,286.8 174.4,287 174.5,286.8 174.6,286.1 174.7,284.2 174.9,283.1 175,279.2 175.1,282.7 175.2,282.5 175.3,285 175.4,285 175.5,286.6 175.6,286.5 175.7,287.6 175.8,287.8 175.9,287.9 176,288.3 176.1,287.2 176.2,286.2 176.3,284.4 176.5,282.5 176.6,282.8 176.7,283.6 176.8,284.5 176.9,284.6 177,283.7 177.1,284.3 177.2,283.5 177.3,282.8 177.4,281.8 177.5,280.7 177.6,280.8 177.7,281 177.8,281.5 177.9,281.2 178.1,280.9 178.2,281.4 178.3,282.3 178.4,284 178.5,286.9 178.6,289.4 178.7,287 178.8,278.9 178.9,272.9 179,270.9 179.1,272.3 179.2,272.9 179.3,274.8 179.4,275.4 179.6,276.7 179.7,273.8 179.8,272.1 179.9,270.5 180,268.5 180.1,267.9 180.2,266.7 180.3,268.1 180.4,268 180.5,268.4 180.6,267.9 180.7,270.8 180.8,273.3 180.9,274.4 181,274.4 181.2,274.6 181.3,274.5 181.4,270 181.5,261 181.6,258.4 181.7,258.6 181.8,265.8 181.9,267.2 182,269.8 182.1,271.7 182.2,273 182.3,271.6 182.4,270 182.5,269.7 182.6,269.5 182.8,270.9 182.9,271.6 183,272.3 183.1,274.7 183.2,274.4 183.3,275.8 183.4,276.8 183.5,278.7 183.6,279.7 183.7,280.6 183.8,280.6 183.9,279.5 184,276 184.1,273.6 184.2,273.8 184.4,278.8 184.5,280.5 184.6,280.9 184.7,281.6 184.8,282 184.9,281.8 185,281.7 185.1,280.2 185.2,279.8 185.3,279.1 185.4,278.7 185.5,278.9 185.6,279.2 185.7,278.8 185.8,279.2 186,279.5 186.1,279.4 186.2,279.2 186.3,279.3 186.4,277.1 186.5,275.1 186.6,266 186.7,257.4 186.8,261.4 186.9,266.5 187,270.2 187.1,272.4 187.2,272.7 187.3,272.5 187.4,269.8 187.6,269.3 187.7,267.2 187.8,264.9 187.9,265.7 188,265.2 188.1,268 188.2,268 188.3,269 188.4,273.4 188.5,274.6 188.6,274.8 188.7,279.4 188.8,280.7 188.9,275.6 189,269.6 189.2,262.2 189.3,258.4 189.4,263.1 189.5,269.2 189.6,272.7 189.7,269.9 189.8,271.9 189.9,270.4 190,269.5 190.1,270.5 190.2,267.8 190.3,267.7 190.4,269 190.5,270.4 190.6,270 190.8,271.4 190.9,274.4 191,273.4 191.1,277.7 191.2,279.9 191.3,280.6 191.4,280.2 191.5,280.2 191.6,275.4 191.7,275.5 191.8,275.4 191.9,275.6 192,276.2 192.1,276.5 192.3,276.7 192.4,278.2 192.5,277.2 192.6,277.3 192.7,277.5 192.8,277.6 192.9,277.6 193,277.9 193.1,278.2 193.2,278.6 193.3,278.8 193.4,279.3 193.5,280.6 193.6,280.9 193.7,282.1 193.9,284.6 194,285 194.1,284.3 194.2,281.2 194.3,278.7 194.4,277.9 194.5,278.7 194.6,279.2 194.7,279.8 194.8,280.2 194.9,280.4 195,279.7 195.1,278.8 195.2,277.7 195.3,277.3 195.5,276.1 195.6,276.2 195.7,276.6 195.8,276 195.9,275.1 196,274.4 196.1,276.5 196.2,277.4 196.3,277.2 196.4,276.6 196.5,275.8 196.6,274.7 196.7,271.2 196.8,263 196.9,257.9 197.1,258.7 197.2,261.9 197.3,264.9 197.4,266.1 197.5,265.5 197.6,262.6 197.7,261.7 197.8,260.2 197.9,258.9 198,256.6 198.1,255.8 198.2,258.1 198.3,257 198.4,256.7 198.5,257.4 198.7,263.5 198.8,266.3 198.9,267.4 199,270.3 199.1,275.1 199.2,267.3 199.3,253.8 199.4,251 199.5,248.3 199.6,248.2 199.7,250 199.8,251.8 199.9,251.9 200,252.2 200.1,251.7 200.3,252.2 200.4,251.1 200.5,250.9 200.6,250.2 200.7,250.3 200.8,250.2 200.9,251 201,251.5 201.1,251.5 201.2,252.3 201.3,259.7 201.4,262.4 201.5,264.4 201.6,264.2 201.7,262.8 201.9,253.4 202,241.9 202.1,225.1 202.2,234.6 202.3,248.6 202.4,255.6 202.5,258.6 202.6,257.4 202.7,253.7 202.8,250.3 202.9,247.4 203,250 203.1,239.9 203.2,240.4 203.4,252.6 203.5,257.5 203.6,259.8 203.7,262.4 203.8,266.5 203.9,266.5 204,269.2 204.1,277.4 204.2,280 204.3,270.2 204.4,262.7 204.5,260.5 204.6,257.4 204.7,257.5 204.8,262.1 205,263.6 205.1,267.4 205.2,268.8 205.3,265.1 205.4,262.9 205.5,261.5 205.6,262.1 205.7,259.7 205.8,261.3 205.9,261.7 206,263.5 206.1,263.9 206.2,262.9 206.3,267.7 206.4,268.2 206.6,268.6 206.7,276.1 206.8,272.6 206.9,272.9 207,266.4 207.1,254.5 207.2,246.6 207.3,253.4 207.4,259.6 207.5,261.4 207.6,264.2 207.7,262.9 207.8,259.7 207.9,262.6 208,258.4 208.2,256.6 208.3,253 208.4,252.8 208.5,253.8 208.6,257.7 208.7,259.1 208.8,259.8 208.9,263.4 209,262.8 209.1,265.9 209.2,266.4 209.3,270.5 209.4,265.9 209.5,263.6 209.6,255.1 209.8,247 209.9,248.3 210,256.2 210.1,259.4 210.2,259.3 210.3,262.9 210.4,262.2 210.5,261.2 210.6,258.8 210.7,255.7 210.8,252.1 210.9,253.5 211,254.8 211.1,257.4 211.2,261.5 211.4,265.5 211.5,265.2 211.6,268.1 211.7,270.1 211.8,271.3 211.9,272.5 212,272.5 212.1,269.7 212.2,267.7 212.3,266.1 212.4,267.2 212.5,270.1 212.6,271.2 212.7,272.7 212.8,271.9 213,273.8 213.1,272.7 213.2,273.2 213.3,272.9 213.4,272.9 213.5,273.8 213.6,274.5 213.7,275 213.8,275.7 213.9,276.4 214,277.6 214.1,277.8 214.2,279.7 214.3,279.8 214.4,279.7 214.6,280.4 214.7,276 214.8,273.6 214.9,272 215,272.6 215.1,273.5 215.2,274.1 215.3,275.2 215.4,273.6 215.5,273.3 215.6,272.9 215.7,272.1 215.8,271.9 215.9,270.7 216.1,270.9 216.2,270.8 216.3,270.6 216.4,271.1 216.5,270.6 216.6,274.8 216.7,277.2 216.8,281.8 216.9,278.5 217,282.5 217.1,276.7 217.2,271.9 217.3,265.1 217.4,263.2 217.5,262.9 217.7,264.1 217.8,265 217.9,265.5 218,267.6 218.1,263.4 218.2,265.1 218.3,262.3 218.4,261.1 218.5,260 218.6,259.7 218.7,259.9 218.8,259.2 218.9,259.2 219,259 219.1,258.4 219.3,269.2 219.4,267.1 219.5,276 219.6,273.9 219.7,274.7 219.8,258.3 219.9,248 220,232.1 220.1,238.3 220.2,249.6 220.3,249.5 220.4,259.3 220.5,254.1 220.6,254.1 220.7,256.2 220.9,250 221,248.4 221.1,237.9 221.2,245.9 221.3,246.2 221.4,249.2 221.5,254.7 221.6,251 221.7,256.6 221.8,258.8 221.9,262.2 222,263.6 222.1,263.5 222.2,262.7 222.3,256.3 222.5,249.9 222.6,240 222.7,241.2 222.8,249.6 222.9,258.4 223,260.2 223.1,261.4 223.2,260.4 223.3,258.8 223.4,253.9 223.5,254.1 223.6,248.7 223.7,249.1 223.8,256.9 223.9,261 224.1,258 224.2,260.7 224.3,266 224.4,266.4 224.5,267.9 224.6,270.6 224.7,273.1 224.8,269.9 224.9,265 225,264 225.1,261.5 225.2,263.5 225.3,264.2 225.4,266.1 225.5,268 225.7,267.2 225.8,268.8 225.9,268.3 226,266.9 226.1,266.9 226.2,266 226.3,266.1 226.4,267.1 226.5,267.9 226.6,268.7 226.7,268.7 226.8,269.6 226.9,271.2 227,272.4 227.2,273.9 227.3,274 227.4,272.7 227.5,270.7 227.6,266.4 227.7,262.5 227.8,262.5 227.9,267.3 228,269.7 228.1,270.9 228.2,269.7 228.3,269.7 228.4,269.1 228.5,266.8 228.6,264.6 228.8,262.9 228.9,262.7 229,264.4 229.1,266.9 229.2,267.7 229.3,267.1 229.4,268.6 229.5,269.1 229.6,271.3 229.7,271.9 229.8,273.3 229.9,270.2 230,266.2 230.1,265.3 230.2,267.9 230.4,267 230.5,265.3 230.6,263.9 230.7,262.8 230.8,263.9 230.9,264.1 231,263 231.1,263 231.2,263.4 231.3,263.9 231.4,263.9 231.5,263.3 231.6,262.8 231.7,262.3 231.8,263 232,261.6 232.1,267.8 232.2,273.3 232.3,274.2 232.4,274.4 232.5,274.8 232.6,264.6 232.7,264.5 232.8,266.4 232.9,265.9 233,264.7 233.1,263.9 233.2,264.2 233.3,265.6 233.4,264.4 233.6,264.4 233.7,264.7 233.8,265.3 233.9,265.6 234,265.9 234.1,265.3 234.2,265.6 234.3,265.2 234.4,268.1 234.5,267.7 234.6,276.7 234.7,277.9 234.8,282.5 234.9,280.7 235,276.8 235.2,268.4 235.3,261.4 235.4,259.8 235.5,259.5 235.6,261.1 235.7,264 235.8,261.6 235.9,267.7 236,264.9 236.1,263 236.2,259.6 236.3,259.1 236.4,257.9 236.5,257.8 236.6,258.7 236.8,258 236.9,260.8 237,258.1 237.1,259.1 237.2,266.5 237.3,271.9 237.4,276.5 237.5,278.9 237.6,271.1 237.7,260.4 237.8,257 237.9,256.8 238,256.7 238.1,256.7 238.2,256.6 238.4,261.3 238.5,258.8 238.6,261.3 238.7,256.1 238.8,256 238.9,255.9 239,255.8 239.1,255.7 239.2,255.6 239.3,255.5 239.4,257.4 239.5,255.3 239.6,258.3 239.7,259.5 239.9,258.7 240,260.7 240.1,263.2 240.2,259.6 240.3,258 240.4,249.1 240.5,244.6 240.6,248.2 240.7,248.9 240.8,253.2 240.9,253.4 241,254.4 241.1,254.4 241.2,255 241.3,253.7 241.5,252.4 241.6,251.9 241.7,252.8 241.8,254.4 241.9,255.5 242,257.7 242.1,258.4 242.2,257.6 242.3,258.9 242.4,261 242.5,262.1 242.6,264.6 242.7,262.4 242.8,261 242.9,254.4 243.1,253.2 243.2,255 243.3,258.7 243.4,262.5 243.5,263.4 243.6,262.9 243.7,262.9 243.8,262.3 243.9,262.5 244,262.4 244.1,261.4 244.2,262.1 244.3,263.3 244.4,263.8 244.5,265.2 244.7,265.4 244.8,267.2 244.9,268.3 245,270.2 245.1,270.4 245.2,271.7 245.3,271 245.4,268.2 245.5,260.3 245.6,259.5 245.7,259.4 245.8,266.1 245.9,270.5 246,270.8 246.1,270.9 246.3,271.2 246.4,270 246.5,270.6 246.6,267 246.7,264.6 246.8,267.5 246.9,268.5 247,268.8 247.1,270.5 247.2,272.6 247.3,273.5 247.4,276.7 247.5,277.5 247.6,278.2 247.7,279.2 247.9,277.7 248,274.4 248.1,267 248.2,258.1 248.3,262.1 248.4,268.7 248.5,272.6 248.6,273.5 248.7,272.6 248.8,271 248.9,271.9 249,267.5 249.1,264.8 249.2,259.9 249.3,261.4 249.5,265.5 249.6,269.1 249.7,269 249.8,269.3 249.9,270 250,274.2 250.1,273.7 250.2,279 250.3,276 250.4,275.9 250.5,269.9 250.6,267.4 250.7,267.2 250.8,267.1 251,267.2 251.1,269.3 251.2,267.5 251.3,269.8 251.4,269.2 251.5,267 251.6,267.4 251.7,267.8 251.8,268.2 251.9,268.7 252,269.1 252.1,269.6 252.2,270 252.3,270.5 252.4,270.9 252.6,277.2 252.7,276.1 252.8,279.5 252.9,279 253,280 253.1,275.4 253.2,272.8 253.3,270 253.4,271.9 253.5,273.1 253.6,276.7 253.7,275.9 253.8,278.4 253.9,276.8 254,276.9 254.2,276.6 254.3,276.7 254.4,276.4 254.5,277 254.6,277.7 254.7,278.3 254.8,278.7 254.9,280.1 255,279.9 255.1,281.9 255.2,281.9 255.3,283.7 255.4,283.2 255.5,283.6 255.6,280.1 255.8,278.5 255.9,277 256,277.8 256.1,279.9 256.2,281.3 256.3,281.4 256.4,280.7 256.5,281.5 256.6,280.9 256.7,280.5 256.8,280.6 256.9,280.2 257,280 257.1,280.7 257.2,281.1 257.4,281.5 257.5,281.3 257.6,282.4 257.7,284.5 257.8,285.2 257.9,286.1 258,286.7 258.1,284.4 258.2,283.2 258.3,279 258.4,275.7 258.5,278.3 258.6,278.4 258.7,280.6 258.8,280.9 259,282.1 259.1,281.8 259.2,279.8 259.3,278.9 259.4,279.2 259.5,277 259.6,278.1 259.7,278.9 259.8,278.6 259.9,279.8 260,278.8 260.1,279.5 260.2,279.9 260.3,281.3 260.4,280.7 260.6,281.7 260.7,280.8 260.8,279.3 260.9,277.7 261,276.3 261.1,276.8 261.2,277.2 261.3,277.7 261.4,278 261.5,278.4 261.6,278 261.7,277.9 261.8,277.9 261.9,278 262,278.1 262.2,278.7 262.3,279.2 262.4,279.8 262.5,280.5 262.6,280.9" fill="none" stroke="#555555" stroke-width="0.35" stroke-linejoin="miter" stroke-miterlimit="2"/>
<polyline points="30.6,287.11 31,274.52 31.4,288.11" fill="none" stroke="#555555" stroke-width="0.35"/>
<polyline points="38.51,275.19 38.91,236.93 39.31,276.19" fill="none" stroke="#555555" stroke-width="0.35"/>
<polyline points="41.62,256.99 42.02,233.04 42.42,257.99" fill="none" stroke="#555555" stroke-width="0.35"/>
<polyline points="44.86,275.19 45.26,256.37 45.66,276.19" fill="none" stroke="#555555" stroke-width="0.35"/>
<polyline points="57.95,282.96 58.35,265.44 58.75,283.96" fill="none" stroke="#555555" stroke-width="0.35"/>
<polyline points="60.8,276.71 61.2,244.7 61.6,277.71" fill="none" stroke="#555555" stroke-width="0.35"/>
<polyline points="74.29,288.28 74.69,277.11 75.09,289.28" fill="none" stroke="#555555" stroke-width="0.35"/>
<polyline points="93.99,282.26 94.39,270.63 94.79,283.26" fill="none" stroke="#555555" stroke-width="0.35"/>
<polyline points="96.58,277.78 96.98,258.96 97.38,278.78" fill="none" stroke="#555555" stroke-width="0.35"/>
<polyline points="105.16,282.53 105.56,268.04 105.96,283.53" fill="none" stroke="#555555" stroke-width="0.35"/>
<polyline points="108.01,272.85 108.41,261.56 108.81,273.85" fill="none" stroke="#555555" stroke-width="0.35"/>
<polyline points="110.21,264.34 110.61,230.44 111.01,265.34" fill="none" stroke="#555555" stroke-width="0.35"/>
<polyline points="112.93,271.3 113.33,249.89 113.73,272.3" fill="none" stroke="#555555" stroke-width="0.35"/>
<polyline points="134.06,287.89 134.46,273.22 134.86,288.89" fill="none" stroke="#555555" stroke-width="0.35"/>
<polyline points="140.41,284.69 140.81,270.63 141.21,285.69" fill="none" stroke="#555555" stroke-width="0.35"/>
<polyline points="147.67,276.77 148.07,262.85 148.47,277.77" fill="none" stroke="#555555" stroke-width="0.35"/>
<polyline points="150.91,280.54 151.31,260.26 151.71,281.54" fill="none" stroke="#555555" stroke-width="0.35"/>
<polyline points="154.16,281.44 154.56,265.44 154.96,282.44" fill="none" stroke="#555555" stroke-width="0.35"/>
<polyline points="158.04,271.17 158.44,255.07 158.84,272.17" fill="none" stroke="#555555" stroke-width="0.35"/>
<polyline points="161.54,264.66 161.94,214.89 162.34,265.66" fill="none" stroke="#555555" stroke-width="0.35"/>
<polyline points="164.4,259.12 164.8,229.15 165.2,260.12" fill="none" stroke="#555555" stroke-width="0.35"/>
<polyline points="167.38,264.56 167.78,244.7 168.18,265.56" fill="none" stroke="#555555" stroke-width="0.35"/>
<polyline points="179.95,272.28 180.35,251.19 180.75,273.28" fill="none" stroke="#555555" stroke-width="0.35"/>
<polyline points="185.16,282.74 185.56,270.63 185.96,283.74" fill="none" stroke="#555555" stroke-width="0.35"/>
<polyline points="188.01,272.8 188.41,243.41 188.81,273.8" fill="none" stroke="#555555" stroke-width="0.35"/>
<polyline points="196.04,273.89 196.44,252.48 196.84,274.89" fill="none" stroke="#555555" stroke-width="0.35"/>
<polyline points="198.64,258.07 199.04,234.33 199.44,259.07" fill="none" stroke="#555555" stroke-width="0.35"/>
<polyline points="201.23,255.74 201.63,230.44 202.03,256.74" fill="none" stroke="#555555" stroke-width="0.35"/>
<polyline points="213.41,278.81 213.81,265.44 214.21,279.81" fill="none" stroke="#555555" stroke-width="0.35"/>
<polyline points="217.3,268.44 217.7,249.89 218.1,269.44" fill="none" stroke="#555555" stroke-width="0.35"/>
<polyline points="221.06,256.08 221.46,226.56 221.86,257.08" fill="none" stroke="#555555" stroke-width="0.35"/>
<polyline points="239.47,257.94 239.87,239.52 240.27,258.94" fill="none" stroke="#555555" stroke-width="0.35"/>
<polyline points="242.58,263.26 242.98,236.93 243.38,264.26" fill="none" stroke="#555555" stroke-width="0.35"/>
<polyline points="29.7,248.59 31.7,249.15 33.7,249.7 35.7,250.69 37.7,251.89 39.7,253.08 41.7,254.18 43.7,255.28 45.7,256.09 47.7,256.59 49.7,257.09 51.7,256.79 53.7,256.39 55.7,255.99 57.7,255.59 59.7,255.33 61.7,255.06 63.7,254.79 65.7,254.55 67.7,254.5 69.7,254.45 71.7,254.4 73.7,254.35 75.7,254.3 77.7,254.53 79.7,254.78 81.7,255.03 83.7,255.28 85.7,255.53 87.7,255.7 89.7,255.85 91.7,256 93.7,256.15 95.7,256.3 97.7,256.37 99.7,256.37 101.7,256.37 103.7,256.37 105.7,256.37 107.7,256.3 109.7,256.2 111.7,256.1 113.7,256.01 115.7,255.91 117.7,255.88 119.7,255.96 121.7,256.04 123.7,256.12 125.7,256.2 127.7,256.28 129.7,256.36 131.7,256.44 133.7,256.52 135.7,256.6 137.7,256.68 139.7,256.76 141.7,256.84 143.7,256.86 145.7,256.78 147.7,256.7 149.7,256.62 151.7,256.54 153.7,256.46 155.7,256.38 157.7,256.37 159.7,256.37 161.7,256.37 163.7,256.38 165.7,256.66 167.7,256.94 169.7,257.22 171.7,257.5 173.7,257.78 175.7,258.06 177.7,258.38 179.7,258.73 181.7,259.08 183.7,259.43 185.7,259.12 187.7,258.96 189.7,258.96 191.7,258.96 193.7,258.96 195.7,258.96 197.7,258.95 199.7,258.91 201.7,258.87 203.7,258.83 205.7,258.79 207.7,258.75 209.7,258.71 211.7,258.67 213.7,258.63 215.7,258.59 217.7,258.55 219.7,258.51 221.7,258.47 223.7,258.43 225.7,258.39 227.7,258.35 229.7,258.31 231.7,258.27 233.7,258.23 235.7,258.19 237.7,258.11 239.7,258.03 241.7,257.95 243.7,257.87 245.7,257.79 247.7,257.71 249.7,257.7 251.7,257.78 253.7,257.85 255.7,257.93 257.7,258 259.7,258.08 261.7,258.15 262.56,258.19" fill="none" stroke="#4cae4c" stroke-width="1.3"/>
<path d="M29.7,286.19 C29.92,285.84 30.57,284.33 31,284.11 C31.43,283.9 31.86,284.98 32.3,284.89 C32.73,284.8 33.16,284.15 33.59,283.59 C34.02,283.03 34.46,282.04 34.89,281.52 C35.32,281 35.75,280.91 36.19,280.48 C36.62,280.05 37.05,280.14 37.48,278.93 C37.91,277.72 38.35,275.9 38.78,273.22 C39.21,270.54 39.64,265.88 40.07,262.85 C40.51,259.83 41.02,256.59 41.37,255.07 C41.72,253.56 41.8,253.13 42.15,253.78 C42.49,254.43 43.01,256.59 43.44,258.96 C43.88,261.34 44.31,264.8 44.74,268.04 C45.17,271.28 45.6,275.6 46.04,278.41 C46.47,281.22 46.9,283.59 47.33,284.89 C47.77,286.19 48.2,285.75 48.63,286.19 C49.06,286.62 49.49,287.48 49.93,287.48 C50.36,287.48 50.79,286.62 51.22,286.19 C51.65,285.75 52.09,284.89 52.52,284.89 C52.95,284.89 53.38,286.19 53.81,286.19 C54.25,286.19 54.68,285.32 55.11,284.89 C55.54,284.46 55.98,284.24 56.41,283.59 C56.84,282.94 57.27,281.78 57.7,281 C58.14,280.22 58.57,279.79 59,278.93 C59.43,278.06 59.95,276.77 60.3,275.81 C60.64,274.86 60.77,273.01 61.07,273.22 C61.38,273.44 61.72,275.6 62.11,277.11 C62.5,278.62 62.98,280.78 63.41,282.3 C63.84,283.81 64.27,285.32 64.7,286.19 C65.14,287.05 65.57,287.14 66,287.48 C66.43,287.83 66.86,288.26 67.3,288.26 C67.73,288.26 68.16,287.83 68.59,287.48 C69.02,287.14 69.46,286.31 69.89,286.19 C70.32,286.06 70.75,286.49 71.19,286.7 C71.62,286.92 72.05,287.57 72.48,287.48 C72.91,287.4 73.35,286.62 73.78,286.19 C74.21,285.75 74.64,285.23 75.07,284.89 C75.51,284.54 75.94,283.9 76.37,284.11 C76.8,284.33 77.23,285.49 77.67,286.19 C78.1,286.88 78.53,287.83 78.96,288.26 C79.4,288.69 79.83,288.91 80.26,288.78 C80.69,288.65 81.12,287.91 81.56,287.48 C81.99,287.05 82.42,286.62 82.85,286.19 C83.28,285.75 83.72,285.54 84.15,284.89 C84.58,284.24 85.01,282.86 85.44,282.3 C85.88,281.73 86.31,281.09 86.74,281.52 C87.17,281.95 87.6,283.9 88.04,284.89 C88.47,285.88 88.9,286.92 89.33,287.48 C89.77,288.04 90.2,288.48 90.63,288.26 C91.06,288.04 91.49,287.18 91.93,286.19 C92.36,285.19 92.79,283.51 93.22,282.3 C93.65,281.09 94.09,279.79 94.52,278.93 C94.95,278.06 95.38,277.85 95.81,277.11 C96.25,276.38 96.68,274.09 97.11,274.52 C97.54,274.95 97.98,277.76 98.41,279.7 C98.84,281.65 99.27,284.76 99.7,286.19 C100.14,287.61 100.57,288.04 101,288.26 C101.43,288.48 101.86,287.83 102.3,287.48 C102.73,287.14 103.16,286.83 103.59,286.19 C104.02,285.54 104.39,285.75 104.89,283.59 C105.39,281.43 106.09,275.17 106.59,273.22 C107.09,271.28 107.46,273.01 107.89,271.93 C108.32,270.85 108.75,268.47 109.19,266.74 C109.62,265.01 110.14,262.64 110.48,261.56 C110.83,260.48 110.96,259.83 111.26,260.26 C111.56,260.69 111.91,262.64 112.3,264.15 C112.69,265.66 113.16,268.47 113.59,269.33 C114.02,270.2 114.46,268.47 114.89,269.33 C115.32,270.2 115.75,272.57 116.19,274.52 C116.62,276.46 117.05,279.27 117.48,281 C117.91,282.73 118.35,283.94 118.78,284.89 C119.21,285.84 119.64,286.27 120.07,286.7 C120.51,287.14 120.94,287.48 121.37,287.48 C121.8,287.48 122.23,286.7 122.67,286.7 C123.1,286.7 123.53,287.48 123.96,287.48 C124.4,287.48 124.83,286.7 125.26,286.7 C125.69,286.7 126.12,287.57 126.56,287.48 C126.99,287.4 127.42,286.19 127.85,286.19 C128.28,286.19 128.72,287.14 129.15,287.48 C129.58,287.83 130.01,288.39 130.44,288.26 C130.88,288.13 131.31,287.05 131.74,286.7 C132.17,286.36 132.66,286.57 133.04,286.19 C133.41,285.8 133.59,284.43 134,284.4 C134.41,284.37 134.98,285.62 135.5,286 C136.02,286.38 136.58,286.97 137.1,286.7 C137.62,286.43 138.08,285.17 138.6,284.4 C139.12,283.63 139.73,282.62 140.2,282.1 C140.67,281.58 141.02,281.17 141.4,281.3 C141.78,281.43 142.13,282.77 142.5,282.9 C142.87,283.03 143.22,281.85 143.6,282.1 C143.98,282.35 144.38,283.63 144.8,284.4 C145.22,285.17 145.72,287.22 146.1,286.7 C146.48,286.18 146.75,283.62 147.1,281.3 C147.45,278.98 147.87,274.98 148.2,272.8 C148.53,270.62 148.77,268.45 149.1,268.2 C149.43,267.95 149.83,269.75 150.2,271.3 C150.57,272.85 150.92,275.9 151.3,277.5 C151.68,279.1 152.08,280.4 152.5,280.9 C152.92,281.4 153.4,281.07 153.8,280.5 C154.2,279.93 154.55,278.78 154.9,277.5 C155.25,276.22 155.52,274.1 155.9,272.8 C156.28,271.5 156.78,270.47 157.2,269.7 C157.62,268.93 158.02,268.58 158.4,268.2 C158.78,267.82 159.13,267.92 159.5,267.4 C159.87,266.88 160.22,266 160.6,265.1 C160.98,264.2 161.38,263.03 161.8,262 C162.22,260.97 162.73,259.67 163.1,258.9 C163.47,258.13 163.61,258.04 164,257.4 C164.39,256.76 165.07,255.55 165.44,255.07 C165.81,254.6 165.88,253.69 166.22,254.56 C166.57,255.42 167.09,258.23 167.52,260.26 C167.95,262.29 168.38,264.58 168.81,266.74 C169.25,268.9 169.68,271.28 170.11,273.22 C170.54,275.17 170.98,276.77 171.41,278.41 C171.84,280.05 172.27,281.78 172.7,283.07 C173.14,284.37 173.57,285.58 174,286.19 C174.43,286.79 174.86,286.92 175.3,286.7 C175.73,286.49 176.16,285.75 176.59,284.89 C177.02,284.02 177.46,283.03 177.89,281.52 C178.32,280.01 178.75,277.98 179.19,275.81 C179.62,273.65 180.14,270.07 180.48,268.56 C180.83,267.04 180.91,266.18 181.26,266.74 C181.6,267.3 182.12,269.98 182.56,271.93 C182.99,273.87 183.42,276.68 183.85,278.41 C184.28,280.14 184.69,283.16 185.15,282.3 C185.6,281.43 186.14,275.25 186.59,273.22 C187.05,271.19 187.46,270.76 187.89,270.11 C188.32,269.46 188.75,269.03 189.19,269.33 C189.62,269.64 190.05,270.85 190.48,271.93 C190.91,273.01 191.35,274.73 191.78,275.81 C192.21,276.9 192.64,277.54 193.07,278.41 C193.51,279.27 193.94,281.22 194.37,281 C194.8,280.78 195.23,279.49 195.67,277.11 C196.1,274.73 196.53,269.77 196.96,266.74 C197.4,263.72 197.83,261.34 198.26,258.96 C198.69,256.59 199.12,253.78 199.56,252.48 C199.99,251.19 200.42,250.97 200.85,251.19 C201.28,251.4 201.72,252.48 202.15,253.78 C202.58,255.07 203.01,257.45 203.44,258.96 C203.88,260.48 204.31,261.99 204.74,262.85 C205.17,263.72 205.6,264.36 206.04,264.15 C206.47,263.93 206.9,262.2 207.33,261.56 C207.77,260.91 208.2,260.48 208.63,260.26 C209.06,260.04 209.49,259.61 209.93,260.26 C210.36,260.91 210.79,262.42 211.22,264.15 C211.65,265.88 212.09,268.69 212.52,270.63 C212.95,272.57 213.38,275.17 213.81,275.81 C214.25,276.46 214.68,275.38 215.11,274.52 C215.54,273.65 215.98,272.14 216.41,270.63 C216.84,269.12 217.27,267.39 217.7,265.44 C218.14,263.5 218.57,260.91 219,258.96 C219.43,257.02 219.86,254.77 220.3,253.78 C220.73,252.78 221.16,252.35 221.59,253 C222.02,253.65 222.46,256.02 222.89,257.67 C223.32,259.31 223.75,261.34 224.19,262.85 C224.62,264.36 225.05,265.79 225.48,266.74 C225.91,267.69 226.35,268.12 226.78,268.56 C227.21,268.99 227.64,269.64 228.07,269.33 C228.51,269.03 228.94,267.82 229.37,266.74 C229.8,265.66 230.23,263.72 230.67,262.85 C231.1,261.99 231.53,261.34 231.96,261.56 C232.4,261.77 232.83,263.5 233.26,264.15 C233.69,264.8 234.12,265.88 234.56,265.44 C234.99,265.01 235.42,262.85 235.85,261.56 C236.28,260.26 236.72,258.53 237.15,257.67 C237.58,256.8 238.01,256.8 238.44,256.37 C238.88,255.94 239.31,255.51 239.74,255.07 C240.17,254.64 240.6,253.35 241.04,253.78 C241.47,254.21 241.9,256.15 242.33,257.67 C242.77,259.18 243.2,261.34 243.63,262.85 C244.06,264.36 244.49,265.44 244.93,266.74 C245.36,268.04 245.79,269.55 246.22,270.63 C246.65,271.71 247.09,273.01 247.52,273.22 C247.95,273.44 248.38,272.79 248.81,271.93 C249.25,271.06 249.68,268.9 250.11,268.04 C250.54,267.17 250.98,266.09 251.41,266.74 C251.84,267.39 252.27,270.2 252.7,271.93 C253.14,273.65 253.57,275.81 254,277.11 C254.43,278.41 254.86,279.06 255.3,279.7 C255.73,280.35 256.16,280.7 256.59,281 C257.02,281.3 257.46,281.6 257.89,281.52 C258.32,281.43 258.75,281 259.19,280.48 C259.62,279.96 260.05,278.84 260.48,278.41 C260.91,277.98 261.43,277.46 261.78,277.89 C262.12,278.32 262.43,280.48 262.56,281" fill="none" stroke="#0000f8" stroke-width="1.3" stroke-linejoin="round"/>
<line x1="143.0" y1="291.1" x2="143.0" y2="215.7" stroke="#ff22ff" stroke-width="1.25" stroke-dasharray="1.3,1.2"/>
<rect x="18.4" y="211.5" width="256.2" height="83.4" fill="none" stroke="#a4a4a4" stroke-width="0.95"/>
<line x1="17" y1="291.1" x2="18.7" y2="291.1" stroke="#777" stroke-width="0.9"/>
<text x="15.6" y="292.85" text-anchor="end" font-size="4.7" letter-spacing="-0.15" class="t">0</text>
<line x1="17" y1="280.29" x2="18.7" y2="280.29" stroke="#777" stroke-width="0.9"/>
<text x="15.6" y="282.04" text-anchor="end" font-size="4.7" letter-spacing="-0.15" class="t">5</text>
<line x1="17" y1="269.47" x2="18.7" y2="269.47" stroke="#777" stroke-width="0.9"/>
<text x="15.6" y="271.22" text-anchor="end" font-size="4.7" letter-spacing="-0.15" class="t">10</text>
<line x1="17" y1="258.66" x2="18.7" y2="258.66" stroke="#777" stroke-width="0.9"/>
<text x="15.6" y="260.41" text-anchor="end" font-size="4.7" letter-spacing="-0.15" class="t">15</text>
<line x1="17" y1="247.84" x2="18.7" y2="247.84" stroke="#777" stroke-width="0.9"/>
<text x="15.6" y="249.59" text-anchor="end" font-size="4.7" letter-spacing="-0.15" class="t">20</text>
<line x1="17" y1="237.03" x2="18.7" y2="237.03" stroke="#777" stroke-width="0.9"/>
<text x="15.6" y="238.78" text-anchor="end" font-size="4.7" letter-spacing="-0.15" class="t">25</text>
<line x1="17" y1="226.21" x2="18.7" y2="226.21" stroke="#777" stroke-width="0.9"/>
<text x="15.6" y="227.96" text-anchor="end" font-size="4.7" letter-spacing="-0.15" class="t">30</text>
<line x1="17" y1="215.4" x2="18.7" y2="215.4" stroke="#777" stroke-width="0.9"/>
<text x="15.6" y="217.15" text-anchor="end" font-size="4.7" letter-spacing="-0.15" class="t">35</text>
<line x1="29.9" y1="294.6" x2="29.9" y2="296.2" stroke="#8a8a8a" stroke-width="0.9"/>
<line x1="47.83" y1="294.6" x2="47.83" y2="296.2" stroke="#8a8a8a" stroke-width="0.9"/>
<line x1="65.76" y1="294.6" x2="65.76" y2="296.2" stroke="#8a8a8a" stroke-width="0.9"/>
<line x1="83.69" y1="294.6" x2="83.69" y2="296.2" stroke="#8a8a8a" stroke-width="0.9"/>
<line x1="101.62" y1="294.6" x2="101.62" y2="296.2" stroke="#8a8a8a" stroke-width="0.9"/>
<line x1="119.55" y1="294.6" x2="119.55" y2="296.2" stroke="#8a8a8a" stroke-width="0.9"/>
<line x1="137.48" y1="294.6" x2="137.48" y2="296.2" stroke="#8a8a8a" stroke-width="0.9"/>
<line x1="155.41" y1="294.6" x2="155.41" y2="296.2" stroke="#8a8a8a" stroke-width="0.9"/>
<line x1="173.34" y1="294.6" x2="173.34" y2="296.2" stroke="#8a8a8a" stroke-width="0.9"/>
<line x1="191.27" y1="294.6" x2="191.27" y2="296.2" stroke="#8a8a8a" stroke-width="0.9"/>
<line x1="209.2" y1="294.6" x2="209.2" y2="296.2" stroke="#8a8a8a" stroke-width="0.9"/>
<line x1="227.13" y1="294.6" x2="227.13" y2="296.2" stroke="#8a8a8a" stroke-width="0.9"/>
<line x1="245.06" y1="294.6" x2="245.06" y2="296.2" stroke="#8a8a8a" stroke-width="0.9"/>
<text x="146.5" y="209.7" text-anchor="middle" font-size="5.3" class="b" textLength="57.2" lengthAdjust="spacingAndGlyphs">Chilbolton_Observatory</text>
<text x="21.4" y="224" font-size="11.6" stroke="#000" stroke-width="0.05">(e)</text>
<text transform="translate(5.7,252.8) rotate(-90)" text-anchor="middle" font-size="5.6" fill="#1a1a1a">NO2 (&#956;gm<tspan dy="-2" font-size="3.9">-3</tspan><tspan dy="2">)</tspan></text>
<polyline points="328.7,286.7 328.8,286.8 328.9,287 329,287 329.1,287.1 329.2,287 329.3,286.4 329.4,285 329.6,284.2 329.7,283.9 329.8,284.6 329.9,285.3 330,285.2 330.1,285.3 330.2,285.4 330.3,285.3 330.4,285.1 330.5,285 330.6,284.9 330.7,284.9 330.8,285.3 330.9,285.3 331,285.5 331.2,285.8 331.3,286.6 331.4,286.4 331.5,286.8 331.6,288.3 331.7,288 331.8,287.6 331.9,286.2 332,284 332.1,281.2 332.2,280.5 332.3,283.1 332.4,284.2 332.5,285.5 332.6,285.6 332.8,286.2 332.9,285.3 333,284.5 333.1,283.1 333.2,283.4 333.3,283.2 333.4,285.2 333.5,284.5 333.6,286.3 333.7,286.2 333.8,286.9 333.9,287.8 334,287.8 334.1,288.3 334.2,287.6 334.4,286.7 334.5,285.7 334.6,280.8 334.7,275.2 334.8,278.7 334.9,280.5 335,283.3 335.1,284.7 335.2,284.2 335.3,283.8 335.4,281.9 335.5,281.9 335.6,278.4 335.7,277.9 335.9,276.6 336,278.6 336.1,278.2 336.2,278.1 336.3,277.7 336.4,280.2 336.5,283.8 336.6,283.5 336.7,282.3 336.8,286.9 336.9,280.7 337,274.8 337.1,248.8 337.2,237.9 337.3,247.6 337.5,253.5 337.6,270.7 337.7,268 337.8,269.6 337.9,269.6 338,266.4 338.1,258.9 338.2,258.8 338.3,247.8 338.4,255 338.5,253.1 338.6,260.9 338.7,258.9 338.8,261 338.9,259.1 339.1,263.1 339.2,263.3 339.3,266.8 339.4,264.2 339.5,263.4 339.6,259.3 339.7,250.3 339.8,233.9 339.9,240.8 340,246.4 340.1,253.4 340.2,256.9 340.3,257.8 340.4,259.8 340.5,253.5 340.7,251.4 340.8,252.4 340.9,246.8 341,250.6 341.1,255.4 341.2,255 341.3,259.1 341.4,263 341.5,265.6 341.6,267.1 341.7,268.9 341.8,269.6 341.9,270.6 342,271 342.1,270.5 342.3,267.3 342.4,266 342.5,267.3 342.6,271.2 342.7,274.4 342.8,274.3 342.9,275.5 343,276.1 343.1,277.3 343.2,276.8 343.3,274.6 343.4,273.1 343.5,275.2 343.6,276.6 343.7,279.5 343.9,281.6 344,282.3 344.1,283.3 344.2,284.2 344.3,285.2 344.4,286.4 344.5,286.3 344.6,285.8 344.7,285 344.8,284.8 344.9,284.8 345,285.1 345.1,285.6 345.2,285.9 345.3,286.6 345.5,286.3 345.6,286.9 345.7,286.6 345.8,286.6 345.9,286.7 346,286.7 346.1,286.9 346.2,287.1 346.3,287.2 346.4,287.3 346.5,287.8 346.6,287.6 346.7,287.8 346.8,287.9 347,288.1 347.1,288.2 347.2,288.2 347.3,288 347.4,286.8 347.5,285.3 347.6,285.8 347.7,287.5 347.8,288.2 347.9,288.2 348,288.3 348.1,288.2 348.2,288 348.3,287.9 348.4,287.8 348.6,287.2 348.7,287.4 348.8,287.4 348.9,287.4 349,287.5 349.1,287.6 349.2,287.8 349.3,288.7 349.4,288.4 349.5,289 349.6,289.1 349.7,288.7 349.8,287.6 349.9,286.8 350,286.4 350.2,286.5 350.3,286.6 350.4,286.6 350.5,286.8 350.6,287.2 350.7,286.9 350.8,286.4 350.9,286.2 351,286.1 351.1,285.8 351.2,285.9 351.3,285.9 351.4,285.9 351.5,286 351.6,286.4 351.8,285.9 351.9,286.4 352,286.9 352.1,287.6 352.2,287.9 352.3,287.1 352.4,286.7 352.5,285.7 352.6,285.2 352.7,285.9 352.8,286.5 352.9,287 353,286.9 353.1,287 353.2,287.7 353.4,287.4 353.5,286.8 353.6,287 353.7,286.3 353.8,286.7 353.9,286.9 354,287.1 354.1,287.7 354.2,287.5 354.3,288.1 354.4,288.5 354.5,288.8 354.6,289.1 354.7,289.2 354.8,289.2 355,287.7 355.1,286.8 355.2,286.3 355.3,286.2 355.4,287.2 355.5,287.5 355.6,287.4 355.7,287.4 355.8,287.7 355.9,287.3 356,286.9 356.1,286.8 356.2,286.6 356.3,286.6 356.4,286.7 356.6,286.8 356.7,286.7 356.8,287.1 356.9,288 357,287.8 357.1,289.2 357.2,289.9 357.3,290.1 357.4,289.3 357.5,286.2 357.6,285.8 357.7,285.6 357.8,285.4 357.9,285.1 358,285 358.2,285.2 358.3,285.3 358.4,284.2 358.5,284.3 358.6,283.7 358.7,283.4 358.8,283.2 358.9,282.8 359,282.5 359.1,282.2 359.2,281.8 359.3,281.7 359.4,282.9 359.5,282.7 359.7,283.2 359.8,284 359.9,284.6 360,282.6 360.1,281.3 360.2,268.7 360.3,258.5 360.4,258.5 360.5,269.8 360.6,279 360.7,278.9 360.8,278.4 360.9,278.8 361,278.8 361.1,268.6 361.3,268.3 361.4,264.1 361.5,267.8 361.6,274.7 361.7,270.4 361.8,280.2 361.9,280.1 362,281 362.1,281.7 362.2,282.3 362.3,283.7 362.4,284.3 362.5,284.2 362.6,283.3 362.7,284.2 362.9,285 363,285 363.1,285.1 363.2,285.5 363.3,285.9 363.4,286.3 363.5,285.9 363.6,286.1 363.7,286.5 363.8,286.9 363.9,287.3 364,287.4 364.1,287.5 364.2,287.5 364.3,287.6 364.5,287.8 364.6,287.9 364.7,288.1 364.8,288.3 364.9,288.4 365,288.5 365.1,288.6 365.2,288.5 365.3,288.1 365.4,287.5 365.5,288 365.6,288.6 365.7,288.8 365.8,289.1 365.9,289 366.1,289 366.2,288.7 366.3,288.6 366.4,288.1 366.5,287.8 366.6,288.1 366.7,288.3 366.8,288.2 366.9,288.6 367,288.6 367.1,288.6 367.2,288.9 367.3,288.9 367.4,289.2 367.5,289.2 367.7,288.8 367.8,288.5 367.9,287.9 368,287.1 368.1,287.1 368.2,288 368.3,288.3 368.4,288.3 368.5,288.4 368.6,288.6 368.7,288.3 368.8,288.4 368.9,288.2 369,287.7 369.1,288.1 369.3,288.2 369.4,288.6 369.5,288.7 369.6,289.2 369.7,289.1 369.8,289.5 369.9,289.6 370,289.5 370.1,289.8 370.2,289.6 370.3,289.1 370.4,288.1 370.5,287.6 370.6,287.9 370.8,288.2 370.9,288.4 371,288.6 371.1,288.8 371.2,288.4 371.3,288.3 371.4,288.2 371.5,288.1 371.6,287.8 371.7,287.9 371.8,287.9 371.9,287.9 372,287.8 372.1,288.1 372.2,288 372.4,288.1 372.5,288 372.6,288.2 372.7,288 372.8,287.7 372.9,287.2 373,287 373.1,286.9 373.2,286.8 373.3,286.7 373.4,286.6 373.5,286.6 373.6,286.5 373.7,286.4 373.8,286.2 374,286.1 374.1,286 374.2,285.9 374.3,285.8 374.4,285.6 374.5,285.5 374.6,285.4 374.7,285.3 374.8,285.3 374.9,286.6 375,286.7 375.1,286.4 375.2,287.1 375.3,286.4 375.4,284.9 375.6,277.9 375.7,274.8 375.8,274.5 375.9,280.2 376,284.2 376.1,284 376.2,284.5 376.3,284.8 376.4,284 376.5,284.2 376.6,283.1 376.7,281.3 376.8,281.8 376.9,284 377,284.8 377.2,285.2 377.3,285.6 377.4,285.7 377.5,286.1 377.6,286.3 377.7,286.7 377.8,286.8 377.9,286.8 378,286.9 378.1,286.5 378.2,286.4 378.3,286.4 378.4,287 378.5,287.5 378.6,287.6 378.8,288 378.9,287.9 379,287.8 379.1,287.8 379.2,287.8 379.3,287.6 379.4,287.8 379.5,287.8 379.6,288 379.7,288.4 379.8,288.6 379.9,288.5 380,289 380.1,289.2 380.2,289.4 380.4,289.4 380.5,289.4 380.6,288.3 380.7,287.7 380.8,286.2 380.9,286.7 381,287 381.1,287.7 381.2,288 381.3,287.8 381.4,287.8 381.5,287.6 381.6,287.6 381.7,287.3 381.8,286.9 382,286.9 382.1,287 382.2,287.2 382.3,287.2 382.4,287.3 382.5,287.4 382.6,288 382.7,288.1 382.8,288.6 382.9,288.6 383,288.4 383.1,287.3 383.2,286.7 383.3,286.5 383.5,286.3 383.6,286.7 383.7,286.6 383.8,286.8 383.9,286.5 384,286.8 384.1,286.8 384.2,286.7 384.3,286.8 384.4,286.7 384.5,286.9 384.6,287.1 384.7,287.2 384.8,287.4 384.9,287.7 385.1,288.2 385.2,288.6 385.3,288.7 385.4,289.1 385.5,288.9 385.6,288.6 385.7,287.7 385.8,284.7 385.9,282.6 386,284.6 386.1,285.5 386.2,285.8 386.3,286.7 386.4,286.3 386.5,286.8 386.7,286.4 386.8,285.6 386.9,284.8 387,283.7 387.1,284 387.2,284.4 387.3,284.4 387.4,284.9 387.5,285.9 387.6,286.1 387.7,285.8 387.8,286.6 387.9,286.7 388,286.7 388.1,285.9 388.3,284.7 388.4,284.5 388.5,284.3 388.6,284.3 388.7,284.3 388.8,284.6 388.9,284.5 389,284.5 389.1,284.4 389.2,284.1 389.3,284.1 389.4,284.2 389.5,284.2 389.6,284.3 389.7,284.5 389.9,284.6 390,284.7 390.1,285.3 390.2,285 390.3,285.5 390.4,286.2 390.5,285.8 390.6,285.9 390.7,285.4 390.8,284.8 390.9,284.3 391,284.6 391.1,284.3 391.2,283.6 391.3,283.6 391.5,283.2 391.6,283.2 391.7,282.9 391.8,282.6 391.9,282.4 392,282.2 392.1,282.2 392.2,281.9 392.3,281.6 392.4,281.4 392.5,281 392.6,280.8 392.7,281.2 392.8,281.7 392.9,282.7 393.1,282.3 393.2,283.5 393.3,282.6 393.4,280.3 393.5,279.6 393.6,278.9 393.7,278.8 393.8,279.3 393.9,279.8 394,280.4 394.1,279.6 394.2,279.5 394.3,279.9 394.4,279.6 394.6,279.6 394.7,279.5 394.8,279.8 394.9,280 395,280.3 395.1,280.5 395.2,280.7 395.3,281.4 395.4,281.9 395.5,282.1 395.6,282.8 395.7,283.5 395.8,283 395.9,282.6 396,282.5 396.2,282.7 396.3,283.1 396.4,283.6 396.5,283.9 396.6,284.4 396.7,284.7 396.8,285.1 396.9,285.2 397,285.4 397.1,285.5 397.2,285.7 397.3,285.9 397.4,286.2 397.5,286.5 397.6,286.7 397.8,287 397.9,287.1 398,287.6 398.1,288 398.2,288.3 398.3,288.5 398.4,288.6 398.5,288.2 398.6,286.6 398.7,283.4 398.8,285.6 398.9,287.5 399,288.2 399.1,288.4 399.2,288.5 399.4,288.6 399.5,288.5 399.6,288.4 399.7,287.5 399.8,287.2 399.9,287.5 400,287.8 400.1,287.8 400.2,288.2 400.3,288.1 400.4,288.3 400.5,288.7 400.6,288.4 400.7,289 400.8,288.8 401,288.7 401.1,288.1 401.2,287.2 401.3,286.6 401.4,286.6 401.5,287.3 401.6,287.5 401.7,287.4 401.8,287.5 401.9,287.5 402,287.3 402.1,287 402.2,286.7 402.3,286.5 402.4,286.2 402.6,286.3 402.7,286.2 402.8,286.3 402.9,286.2 403,285.4 403.1,287.8 403.2,287.5 403.3,289 403.4,288.7 403.5,288.3 403.6,284.4 403.7,275.4 403.8,265.9 403.9,267.2 404,277.8 404.2,282.8 404.3,282.5 404.4,282.8 404.5,282.1 404.6,281.6 404.7,280.3 404.8,277.7 404.9,271.9 405,274.5 405.1,278.5 405.2,279.2 405.3,279 405.4,280 405.5,279.7 405.6,280 405.8,280.6 405.9,280.6 406,281.4 406.1,280.5 406.2,279 406.3,250.8 406.4,231 406.5,237.2 406.6,268.9 406.7,271.8 406.8,278.1 406.9,275 407,278.1 407.1,271.8 407.3,260.1 407.4,250.9 407.5,237.4 407.6,254.5 407.7,265 407.8,269.1 407.9,270.2 408,277 408.1,277.3 408.2,277.7 408.3,278 408.4,278.2 408.5,279.7 408.6,279.2 408.7,275.6 408.9,270.6 409,264.5 409.1,267.1 409.2,274.1 409.3,275.3 409.4,275.8 409.5,275.4 409.6,275.7 409.7,274.2 409.8,273.7 409.9,274 410,271.5 410.1,272.4 410.2,274.5 410.3,274.6 410.5,275.3 410.6,276.3 410.7,278.3 410.8,279.8 410.9,282.1 411,283.2 411.1,282 411.2,282.3 411.3,277.9 411.4,272.7 411.5,266.3 411.6,270.6 411.7,276.7 411.8,276.9 411.9,279.1 412.1,279.6 412.2,278.3 412.3,276.6 412.4,273.5 412.5,271.8 412.6,269.5 412.7,270.5 412.8,271.7 412.9,274.3 413,274.7 413.1,274.4 413.2,273 413.3,275.5 413.4,277.6 413.5,277.7 413.7,278.6 413.8,275.1 413.9,272.8 414,250.6 414.1,236.7 414.2,241.2 414.3,258.9 414.4,269 414.5,269.6 414.6,267.8 414.7,268.7 414.8,264.4 414.9,257.6 415,257.6 415.1,246.4 415.3,249 415.4,258.5 415.5,261.6 415.6,261.2 415.7,265.1 415.8,263.7 415.9,271.2 416,270.9 416.1,274.6 416.2,278.4 416.3,275.4 416.4,266.9 416.5,266.1 416.6,266.9 416.7,267.3 416.9,267.7 417,268.2 417.1,271.9 417.2,273 417.3,271.1 417.4,270.7 417.5,271.6 417.6,272.5 417.7,273.4 417.8,274.2 417.9,275 418,275.8 418.1,276.7 418.2,278.5 418.3,278.8 418.5,280.2 418.6,281.1 418.7,281.7 418.8,282.8 418.9,282.6 419,281.4 419.1,279.1 419.2,277.7 419.3,279.9 419.4,281.1 419.5,283.3 419.6,283.2 419.7,284 419.8,283.8 420,283.5 420.1,283.6 420.2,283 420.3,282.3 420.4,282.8 420.5,283.6 420.6,284 420.7,284.7 420.8,284.8 420.9,285.4 421,285.5 421.1,285.9 421.2,286.2 421.3,285.9 421.4,286 421.6,285.2 421.7,285 421.8,285 421.9,285 422,284.9 422.1,284.8 422.2,285 422.3,284.7 422.4,284.7 422.5,284.6 422.6,284.6 422.7,284.5 422.8,284.5 422.9,284.4 423,284.4 423.2,284.2 423.3,284.2 423.4,284.2 423.5,284.1 423.6,285.4 423.7,285.7 423.8,285.8 423.9,286.6 424,285.6 424.1,284.3 424.2,284.4 424.3,284.7 424.4,284.7 424.5,284.8 424.6,284.9 424.8,284.9 424.9,285.1 425,285.1 425.1,285.2 425.2,285.4 425.3,285.5 425.4,285.6 425.5,285.7 425.6,285.8 425.7,285.9 425.8,286 425.9,286.6 426,286.5 426.1,287.4 426.2,287.3 426.4,288.1 426.5,287.9 426.6,287.5 426.7,286.3 426.8,286 426.9,285.7 427,285.7 427.1,286 427.2,286.4 427.3,285.9 427.4,285.9 427.5,285.8 427.6,285.7 427.7,285.8 427.8,285.8 428,285.9 428.1,286 428.2,286.2 428.3,286.4 428.4,286.8 428.5,287.1 428.6,287.3 428.7,287.3 428.8,288.1 428.9,288 429,288.4 429.1,287.9 429.2,287.2 429.3,286.7 429.4,286.1 429.6,286.3 429.7,286.5 429.8,286.9 429.9,286.8 430,286.9 430.1,286.9 430.2,286.4 430.3,286.3 430.4,285.9 430.5,285.7 430.6,285.8 430.7,285.8 430.8,285.8 430.9,286 431.1,285.9 431.2,286.5 431.3,286.9 431.4,286.7 431.5,286.9 431.6,287.2 431.7,286.8 431.8,285.9 431.9,284.3 432,283.1 432.1,283.1 432.2,284.3 432.3,285.7 432.4,285.1 432.5,285.7 432.7,285.4 432.8,285.3 432.9,284.2 433,283.6 433.1,282.3 433.2,282.9 433.3,283.4 433.4,284.4 433.5,283.6 433.6,284.5 433.7,284.4 433.8,285.1 433.9,285.6 434,285.4 434.1,285.8 434.3,285.5 434.4,283.8 434.5,282.3 434.6,281.7 434.7,281.8 434.8,283 434.9,284.1 435,284.4 435.1,284.1 435.2,284.3 435.3,283.5 435.4,283.2 435.5,282.9 435.6,281.6 435.7,281.7 435.9,282.6 436,282.4 436.1,283.1 436.2,283.6 436.3,283.7 436.4,283.9 436.5,285.9 436.6,286.1 436.7,287 436.8,286.3 436.9,283.1 437,281.9 437.1,279.7 437.2,280.2 437.3,281.3 437.5,283.8 437.6,284.7 437.7,283.7 437.8,283.7 437.9,284.1 438,282.9 438.1,282.2 438.2,281.1 438.3,281.4 438.4,282 438.5,282.1 438.6,282.9 438.7,282.4 438.8,283.3 438.9,282.9 439.1,283.3 439.2,284.7 439.3,284 439.4,284 439.5,281.6 439.6,280.5 439.7,279.2 439.8,279.8 439.9,280.3 440,280.9 440.1,280.4 440.2,281.4 440.3,280.8 440.4,280.3 440.5,279.8 440.7,279.7 440.8,279.3 440.9,279.6 441,279.9 441.1,280 441.2,280.5 441.3,280.9 441.4,281.2 441.5,281.6 441.6,282.2 441.7,282.7 441.8,282.7 441.9,282.9 442,281.5 442.1,279.9 442.3,278.6 442.4,278.9 442.5,279.9 442.6,280.2 442.7,280.4 442.8,279.7 442.9,280.1 443,279.4 443.1,279.5 443.2,279.1 443.3,278.5 443.4,278.3 443.5,278.5 443.6,278.3 443.8,278.3 443.9,278.4 444,280.6 444.1,281.2 444.2,282.9 444.3,282.5 444.4,283.3 444.5,283.2 444.6,280 444.7,272.8 444.8,266.8 444.9,270.3 445,275.5 445.1,278 445.2,278.9 445.4,279.4 445.5,280.2 445.6,279.9 445.7,275.3 445.8,276.6 445.9,272.1 446,273.9 446.1,274.8 446.2,276.5 446.3,280.4 446.4,280 446.5,279.9 446.6,281 446.7,281.2 446.8,281.9 447,281.3 447.1,281.1 447.2,279.4 447.3,273.6 447.4,270.2 447.5,270.6 447.6,277.7 447.7,278.9 447.8,277.9 447.9,279 448,278.3 448.1,278.1 448.2,274.3 448.3,270.9 448.4,271.5 448.6,271.9 448.7,272 448.8,276.4 448.9,277.9 449,276.5 449.1,278.4 449.2,280.8 449.3,282.5 449.4,282.7 449.5,282.6 449.6,281.2 449.7,279.8 449.8,277.4 449.9,276 450,276.4 450.2,279.2 450.3,278.9 450.4,279.5 450.5,281.5 450.6,281.5 450.7,280.1 450.8,280.1 450.9,279.1 451,278.5 451.1,279.3 451.2,279.6 451.3,280.7 451.4,281.3 451.5,281.7 451.6,281.6 451.8,284 451.9,285 452,285.9 452.1,286.2 452.2,285 452.3,282.3 452.4,279.8 452.5,279.6 452.6,280.1 452.7,281.5 452.8,281.6 452.9,282.8 453,282.6 453.1,282.3 453.2,282.4 453.4,282.2 453.5,281.6 453.6,281.1 453.7,281.1 453.8,281.8 453.9,281.5 454,282 454.1,281.9 454.2,283.9 454.3,284.8 454.4,285.2 454.5,285.2 454.6,287.1 454.7,284.6 454.9,283.3 455,277 455.1,271.3 455.2,271.9 455.3,277.6 455.4,278.8 455.5,280.4 455.6,281.3 455.7,280.5 455.8,279.7 455.9,276.8 456,276.5 456.1,274.2 456.2,275.1 456.3,276.8 456.5,276.1 456.6,277.6 456.7,279.5 456.8,281 456.9,280.4 457,285.1 457.1,282.9 457.2,286 457.3,281.9 457.4,280.7 457.5,274.2 457.6,270.8 457.7,271.9 457.8,274.9 457.9,277.7 458.1,277.9 458.2,275.7 458.3,275.4 458.4,275.8 458.5,274.4 458.6,272.3 458.7,271 458.8,271.9 458.9,271.5 459,273.8 459.1,273.3 459.2,274.6 459.3,274.2 459.4,279.9 459.5,278 459.7,279.6 459.8,283.7 459.9,280.7 460,273.1 460.1,258 460.2,250.8 460.3,251.1 460.4,269.4 460.5,272.1 460.6,269.8 460.7,270.6 460.8,272.4 460.9,267.8 461,265.2 461.1,257.4 461.3,253.2 461.4,257 461.5,258.2 461.6,262 461.7,268 461.8,267.4 461.9,269.7 462,270.9 462.1,272.7 462.2,273 462.3,273.2 462.4,272 462.5,268.2 462.6,262.2 462.7,258.9 462.9,262.2 463,266.1 463.1,268 463.2,266.4 463.3,266.9 463.4,266.7 463.5,265.4 463.6,265.6 463.7,264.8 463.8,263.3 463.9,263.4 464,264.2 464.1,266.6 464.2,267 464.3,268.9 464.5,267.6 464.6,272.7 464.7,274.8 464.8,277.3 464.9,277.9 465,277.2 465.1,272.9 465.2,267.2 465.3,261.9 465.4,264.1 465.5,266.6 465.6,270.9 465.7,273.6 465.8,274.1 465.9,271.8 466.1,270.5 466.2,270.4 466.3,270.5 466.4,268.5 466.5,269.6 466.6,271.4 466.7,272.9 466.8,274.7 466.9,276.6 467,276.4 467.1,277.7 467.2,281.1 467.3,283.2 467.4,284.5 467.6,282 467.7,276.2 467.8,272.2 467.9,269.7 468,270.4 468.1,274.1 468.2,277.8 468.3,277.7 468.4,276.5 468.5,278 468.6,274.9 468.7,274.7 468.8,274.8 468.9,269.7 469,271.9 469.2,274.9 469.3,277.4 469.4,277.4 469.5,280.4 469.6,278.9 469.7,280.6 469.8,281.5 469.9,282.1 470,282.6 470.1,282.4 470.2,281.6 470.3,278.5 470.4,273.7 470.5,274.2 470.6,278.2 470.8,282 470.9,282.7 471,282.7 471.1,283.5 471.2,282.6 471.3,281.8 471.4,280.9 471.5,281.2 471.6,281.8 471.7,282.5 471.8,283 471.9,283.3 472,285 472.1,285.4 472.2,285.9 472.4,286.1 472.5,287 472.6,287.6 472.7,287.4 472.8,285.5 472.9,284.7 473,283.9 473.1,284.2 473.2,285 473.3,285.8 473.4,286.1 473.5,285.6 473.6,286.4 473.7,285.5 473.8,285.4 474,285.1 474.1,284.8 474.2,284.7 474.3,285.3 474.4,285.4 474.5,285.8 474.6,285.3 474.7,285.8 474.8,286.3 474.9,286.1 475,286.1 475.1,286.2 475.2,286 475.3,284.7 475.4,283.4 475.6,281.6 475.7,282.2 475.8,283.2 475.9,284.2 476,284.4 476.1,284.1 476.2,283.6 476.3,283.2 476.4,283 476.5,282.3 476.6,281.9 476.7,282 476.8,282 476.9,282.4 477,282.3 477.2,282.4 477.3,282.5 477.4,283.5 477.5,283.5 477.6,284.2 477.7,283.8 477.8,283.7 477.9,281.7 478,280.9 478.1,279 478.2,279.9 478.3,280.1 478.4,281.3 478.5,281.6 478.7,281.2 478.8,281.4 478.9,280.6 479,280.5 479.1,280.2 479.2,279.4 479.3,279.8 479.4,280.1 479.5,280.4 479.6,280.5 479.7,280.7 479.8,280.8 479.9,281.8 480,282.2 480.1,282.9 480.3,283.4 480.4,281.9 480.5,281 480.6,279.2 480.7,278.6 480.8,278.3 480.9,279 481,279.9 481.1,279.9 481.2,280.5 481.3,280.2 481.4,280.2 481.5,280.4 481.6,280.4 481.7,280.2 481.9,280.3 482,280.8 482.1,281.1 482.2,281.9 482.3,281.9 482.4,281.6 482.5,282.8 482.6,284 482.7,285.3 482.8,286.2 482.9,284.3 483,282.4 483.1,278.8 483.2,278 483.3,277.6 483.5,280.2 483.6,283.1 483.7,283 483.8,282.8 483.9,282.9 484,282.3 484.1,281.5 484.2,279.9 484.3,279.3 484.4,278.6 484.5,280 484.6,280.7 484.7,281.2 484.8,281.3 484.9,280.9 485.1,282.1 485.2,282.2 485.3,282.9 485.4,282.9 485.5,283.3 485.6,279.9 485.7,274.4 485.8,262.9 485.9,269.7 486,271.1 486.1,278 486.2,278.6 486.3,277.4 486.4,278.1 486.5,276.5 486.7,274 486.8,270 486.9,266.5 487,267.4 487.1,269.3 487.2,270.1 487.3,273.3 487.4,274.9 487.5,275.9 487.6,277.7 487.7,278.7 487.8,280.8 487.9,280.5 488,280.3 488.1,273.3 488.3,265.6 488.4,262.6 488.5,262.7 488.6,269.7 488.7,272.8 488.8,270.7 488.9,272 489,270 489.1,269.7 489.2,269.3 489.3,268 489.4,264 489.5,266.5 489.6,268.2 489.7,268.4 489.9,269 490,270.2 490.1,272.4 490.2,272.5 490.3,275.8 490.4,276.4 490.5,279.9 490.6,277.6 490.7,271.4 490.8,268.2 490.9,266 491,267.2 491.1,271.3 491.2,271 491.4,274.6 491.5,274.4 491.6,274 491.7,272.3 491.8,272.6 491.9,271.1 492,270.4 492.1,271 492.2,272.4 492.3,273.9 492.4,273.8 492.5,277.2 492.6,275.3 492.7,277.9 492.8,278.6 493,279.6 493.1,280.6 493.2,279.2 493.3,278.5 493.4,275.9 493.5,274.9 493.6,276 493.7,277.1 493.8,278.1 493.9,280.2 494,279.6 494.1,279.4 494.2,279.4 494.3,279.2 494.4,278.2 494.6,278.1 494.7,278.4 494.8,279.4 494.9,278.8 495,279.2 495.1,280 495.2,281.5 495.3,281.4 495.4,282.8 495.5,282.7 495.6,285.3 495.7,283.5 495.8,278.5 495.9,271.8 496,259.2 496.2,261.3 496.3,274.5 496.4,274.3 496.5,276.9 496.6,276.8 496.7,275.8 496.8,271.8 496.9,270.1 497,267.8 497.1,261.8 497.2,262.7 497.3,268.4 497.4,266.6 497.5,270 497.6,270.5 497.8,271 497.9,275.9 498,275.5 498.1,276.1 498.2,276.9 498.3,274.6 498.4,267.9 498.5,263.4 498.6,252.9 498.7,258 498.8,265.3 498.9,266.4 499,268.4 499.1,267.3 499.2,267.8 499.4,265 499.5,264.6 499.6,260.4 499.7,260.2 499.8,260.4 499.9,261.5 500,262.5 500.1,265.4 500.2,264.1 500.3,266 500.4,269.5 500.5,269.7 500.6,273 500.7,271.9 500.8,270 501,265.9 501.1,263.5 501.2,258.2 501.3,259.4 501.4,264 501.5,267.2 501.6,266.4 501.7,268.7 501.8,268.2 501.9,266 502,264.8 502.1,264.8 502.2,263 502.3,264 502.5,264.9 502.6,265 502.7,265.8 502.8,265.8 502.9,271.8 503,269.4 503.1,277.9 503.2,276.4 503.3,281.3 503.4,273.9 503.5,267.9 503.6,262.1 503.7,255.3 503.8,259 503.9,260.1 504.1,264.6 504.2,264.6 504.3,265.8 504.4,263 504.5,262.8 504.6,260.9 504.7,259.7 504.8,256.7 504.9,258.4 505,259.6 505.1,260.3 505.2,259.7 505.3,263.4 505.4,265.8 505.5,264 505.7,267.1 505.8,270.6 505.9,269 506,268.7 506.1,262.2 506.2,256.5 506.3,256.8 506.4,256.4 506.5,255.4 506.6,254.8 506.7,258.8 506.8,259.2 506.9,258 507,253.3 507.1,253.7 507.3,253.7 507.4,253.4 507.5,253.2 507.6,252.1 507.7,251.7 507.8,251.3 507.9,253.8 508,252.8 508.1,256.1 508.2,257.3 508.3,261.8 508.4,264.2 508.5,258.9 508.6,253.7 508.7,244.9 508.9,235.4 509,234.5 509.1,245.6 509.2,250 509.3,255.9 509.4,254.4 509.5,253.6 509.6,252.3 509.7,252 509.8,253 509.9,247.8 510,253 510.1,253.2 510.2,256.2 510.3,257 510.5,258.9 510.6,264 510.7,266.1 510.8,269.7 510.9,271.5 511,274.2 511.1,271.8 511.2,269.9 511.3,267.9 511.4,269.2 511.5,269.9 511.6,270.5 511.7,271.1 511.8,271.9 511.9,272.4 512.1,273.1 512.2,274 512.3,274.5 512.4,275.2 512.5,276 512.6,276.6 512.7,277.3 512.8,277.9 512.9,278.4 513,278.3 513.1,278.7 513.2,280.4 513.3,280.7 513.4,281.3 513.5,281.8 513.7,281.1 513.8,280.9 513.9,278.7 514,277.6 514.1,278.6 514.2,280 514.3,279.9 514.4,280.4 514.5,280.6 514.6,279.7 514.7,279.2 514.8,278.6 514.9,278.2 515,277.8 515.2,278 515.3,277.9 515.4,278.6 515.5,278.1 515.6,278.4 515.7,280.2 515.8,278.9 515.9,282.3 516,283.3 516.1,282.2 516.2,282.4 516.3,273.8 516.4,270.1 516.5,266.3 516.6,266.5 516.8,269.8 516.9,270.7 517,273.1 517.1,269.5 517.2,268.8 517.3,267.5 517.4,265.9 517.5,265.6 517.6,262.9 517.7,262.5 517.8,263.5 517.9,263 518,263.3 518.1,261.6 518.2,262.6 518.4,264 518.5,267.1 518.6,268.5 518.7,269.6 518.8,264.1 518.9,258.4 519,248.2 519.1,236.2 519.2,239.3 519.3,250.4 519.4,251.1 519.5,254.1 519.6,253.6 519.7,251.8 519.8,244 520,242.4 520.1,240.9 520.2,228.9 520.3,230.7 520.4,239.7 520.5,238.5 520.6,242.4 520.7,245.9 520.8,245.6 520.9,254.4 521,260.5 521.1,264.7 521.2,261.6 521.3,261.2 521.4,250.3 521.6,223.2 521.7,218.5 521.8,227.7 521.9,240.1 522,257.3 522.1,259.5 522.2,261.7 522.3,260.6 522.4,257.1 522.5,256.4 522.6,243.3 522.7,233.1 522.8,238.7 522.9,251.6 523,255.4 523.2,261.4 523.3,267.1 523.4,271.6 523.5,273.9 523.6,277 523.7,277 523.8,279.9 523.9,278.1 524,275.6 524.1,270.9 524.2,262.7 524.3,268.1 524.4,270.6 524.5,275.1 524.6,276.8 524.8,277.7 524.9,277 525,275.5 525.1,276.4 525.2,273.5 525.3,272.1 525.4,273.8 525.5,275.9 525.6,275.5 525.7,276.6 525.8,279.2 525.9,279.5 526,279.6 526.1,280.8 526.3,281.5 526.4,281.5 526.5,281.6 526.6,279.1 526.7,274.3 526.8,271.7 526.9,272.3 527,275.2 527.1,277.5 527.2,278.6 527.3,279 527.4,277.9 527.5,277.8 527.6,277.3 527.7,274.6 527.9,273.6 528,273.8 528.1,275.8 528.2,275.6 528.3,276 528.4,276.9 528.5,277.9 528.6,278.8 528.7,280.4 528.8,281.1 528.9,282 529,280.8 529.1,279.3 529.2,277.2 529.3,276.5 529.5,276.1 529.6,278.2 529.7,278.7 529.8,278.9 529.9,279.9 530,278.8 530.1,278.2 530.2,278.2 530.3,277.6 530.4,277 530.5,277.3 530.6,277.7 530.7,277.7 530.8,277.8 530.9,278.2 531.1,279.3 531.2,281.9 531.3,282.9 531.4,283.7 531.5,283.4 531.6,283.6 531.7,279.1 531.8,275.5 531.9,271.6 532,273.5 532.1,274.5 532.2,278.2 532.3,277.9 532.4,276.9 532.5,276.4 532.7,276.5 532.8,274.5 532.9,273.3 533,272.3 533.1,273.5 533.2,274.9 533.3,274.7 533.4,276.9 533.5,276 533.6,277.5 533.7,280.1 533.8,281 533.9,280.4 534,282.1 534.1,280 534.3,277.3 534.4,276.2 534.5,275.1 534.6,275.3 534.7,276.5 534.8,277.8 534.9,276.7 535,277.8 535.1,276.3 535.2,275.9 535.3,275.3 535.4,275.1 535.5,274.6 535.6,274.2 535.7,274.2 535.9,274 536,274.5 536.1,274.9 536.2,275.1 536.3,276.2 536.4,275.8 536.5,276.9 536.6,277.2 536.7,275.7 536.8,271.3 536.9,271.6 537,271.9 537.1,271.6 537.2,269.3 537.3,268.9 537.5,268.4 537.6,269.8 537.7,269.2 537.8,268 537.9,267.9 538,267.9 538.1,268.6 538.2,268.2 538.3,267.7 538.4,267.2 538.5,266.9 538.6,266.9 538.7,268.3 538.8,272.7 539,273.3 539.1,274.6 539.2,277.2 539.3,276.5 539.4,270.3 539.5,264.4 539.6,262.8 539.7,262 539.8,268.1 539.9,270.9 540,271.7 540.1,271.5 540.2,274.2 540.3,272.7 540.4,271.4 540.6,271.6 540.7,269.7 540.8,271.5 540.9,272.9 541,273.8 541.1,274 541.2,275.5 541.3,277.8 541.4,278.5 541.5,278.9 541.6,279.8 541.7,280.1 541.8,281.4 541.9,278.1 542,276.4 542.2,275.3 542.3,275.6 542.4,277.5 542.5,278.3 542.6,278.6 542.7,278.6 542.8,278.8 542.9,278.3 543,278.3 543.1,277.5 543.2,276.9 543.3,276.7 543.4,277.2 543.5,278 543.6,277.9 543.8,277.8 543.9,278.7 544,280.1 544.1,279.7 544.2,280.6 544.3,280.8 544.4,279.6 544.5,278.8 544.6,274.5 544.7,273.6 544.8,274.3 544.9,275.3 545,276.6 545.1,277.2 545.2,275.9 545.4,277.1 545.5,276.3 545.6,275.3 545.7,274.3 545.8,273.5 545.9,274 546,274.5 546.1,275 546.2,274.7 546.3,274.9 546.4,277.2 546.5,280.2 546.6,279.6 546.7,281.7 546.8,283.4 547,283.2 547.1,276.7 547.2,268.3 547.3,265.9 547.4,266.3 547.5,269.6 547.6,274.4 547.7,276.1 547.8,274 547.9,273.6 548,272.6 548.1,270.3 548.2,270.1 548.3,267 548.4,268.6 548.6,269.4 548.7,272.6 548.8,274.3 548.9,275.1 549,274.4 549.1,275.1 549.2,276.9 549.3,277 549.4,277.6 549.5,277.3 549.6,276.1 549.7,269 549.8,246.1 549.9,257.8 550.1,264.2 550.2,271.4 550.3,274.5 550.4,276.2 550.5,276 550.6,271.6 550.7,266.9 550.8,261.8 550.9,254.9 551,263.9 551.1,264 551.2,275.5 551.3,277.6 551.4,275.1 551.5,279 551.7,280 551.8,279.6 551.9,280.4 552,281.5 552.1,280.6 552.2,279.8 552.3,272.9 552.4,271.6 552.5,273.7 552.6,276.7 552.7,279.2 552.8,279.6 552.9,279.5 553,280.3 553.1,277.8 553.3,278.1 553.4,275.8 553.5,271.3 553.6,273.3 553.7,275.5 553.8,276.7 553.9,279.4 554,280.3 554.1,280.1 554.2,281 554.3,281 554.4,281.7 554.5,281.8 554.6,282 554.7,280.9 554.9,280 555,279.5 555.1,279.8 555.2,280.7 555.3,280.9 555.4,281.2 555.5,281.3 555.6,281.3 555.7,281.1 555.8,281.3 555.9,281 556,280.8 556.1,281.2 556.2,281.7 556.3,282.1 556.5,282.5 556.6,282.7 556.7,282.7 556.8,284.1 556.9,284.2 557,285.7 557.1,285.7 557.2,285.4 557.3,284.2 557.4,282.3 557.5,281.3 557.6,281 557.7,283.9 557.8,283.8 557.9,284.7 558.1,285.1 558.2,285.1 558.3,284.1 558.4,284.3 558.5,283.6 558.6,283.1 558.7,283.3 558.8,283.9 558.9,284.4 559,285.2 559.1,285.8 559.2,285.6 559.3,285.8 559.4,286.5 559.5,287.1 559.7,287.2 559.8,286.8 559.9,285.6 560,282.6 560.1,280 560.2,280.7 560.3,284 560.4,285.9 560.5,285.6 560.6,286 560.7,285.8 560.8,285.9 560.9,285.7 561,285.6 561.1,284.9 561.3,285.2 561.4,286.3 561.5,286.7 561.6,287 561.7,287.1" fill="none" stroke="#555555" stroke-width="0.35" stroke-linejoin="miter" stroke-miterlimit="2"/>
<polyline points="337.51,269.26 337.91,229.44 338.31,270.26" fill="none" stroke="#555555" stroke-width="0.35"/>
<polyline points="340.23,260.96 340.63,226.85 341.03,261.96" fill="none" stroke="#555555" stroke-width="0.35"/>
<polyline points="342.82,280.67 343.22,261.85 343.62,281.67" fill="none" stroke="#555555" stroke-width="0.35"/>
<polyline points="360.58,281.19 360.98,248.89 361.38,282.19" fill="none" stroke="#555555" stroke-width="0.35"/>
<polyline points="376.27,287.61 376.67,269.63 377.07,288.61" fill="none" stroke="#555555" stroke-width="0.35"/>
<polyline points="385.34,290.26 385.74,274.81 386.14,291.26" fill="none" stroke="#555555" stroke-width="0.35"/>
<polyline points="403.51,286.57 403.91,265.74 404.31,287.57" fill="none" stroke="#555555" stroke-width="0.35"/>
<polyline points="404.01,285.07 404.41,235.93 404.81,286.07" fill="none" stroke="#555555" stroke-width="0.35"/>
<polyline points="405.71,281.86 406.11,234.63 406.51,282.86" fill="none" stroke="#555555" stroke-width="0.35"/>
<polyline points="408.95,277.94 409.35,261.85 409.75,278.94" fill="none" stroke="#555555" stroke-width="0.35"/>
<polyline points="412.32,278.72 412.72,255.37 413.12,279.72" fill="none" stroke="#555555" stroke-width="0.35"/>
<polyline points="415.04,267.7 415.44,235.93 415.84,268.7" fill="none" stroke="#555555" stroke-width="0.35"/>
<polyline points="418.29,283.39 418.69,269.63 419.09,284.39" fill="none" stroke="#555555" stroke-width="0.35"/>
<polyline points="445.12,282.48 445.52,268.33 445.92,283.48" fill="none" stroke="#555555" stroke-width="0.35"/>
<polyline points="447.71,280.82 448.11,260.56 448.51,281.82" fill="none" stroke="#555555" stroke-width="0.35"/>
<polyline points="457.04,280.41 457.44,265.74 457.84,281.41" fill="none" stroke="#555555" stroke-width="0.35"/>
<polyline points="460.29,273.67 460.69,232.04 461.09,274.67" fill="none" stroke="#555555" stroke-width="0.35"/>
<polyline points="463.53,269.52 463.93,248.89 464.33,270.52" fill="none" stroke="#555555" stroke-width="0.35"/>
<polyline points="487.14,277.17 487.54,256.67 487.94,278.17" fill="none" stroke="#555555" stroke-width="0.35"/>
<polyline points="489.73,273.28 490.13,254.07 490.53,274.28" fill="none" stroke="#555555" stroke-width="0.35"/>
<polyline points="492.97,280.93 493.37,269.63 493.77,281.93" fill="none" stroke="#555555" stroke-width="0.35"/>
<polyline points="496.08,278.64 496.48,255.37 496.88,279.64" fill="none" stroke="#555555" stroke-width="0.35"/>
<polyline points="498.67,269 499.07,251.48 499.47,270" fill="none" stroke="#555555" stroke-width="0.35"/>
<polyline points="502.04,269.52 502.44,248.89 502.84,270.52" fill="none" stroke="#555555" stroke-width="0.35"/>
<polyline points="507.88,253.83 508.28,213.89 508.68,254.83" fill="none" stroke="#555555" stroke-width="0.35"/>
<polyline points="509.82,260.96 510.22,239.81 510.62,261.96" fill="none" stroke="#555555" stroke-width="0.35"/>
<polyline points="516.3,275.22 516.7,259.26 517.1,276.22" fill="none" stroke="#555555" stroke-width="0.35"/>
<polyline points="520.06,248.78 520.46,213.89 520.86,249.78" fill="none" stroke="#555555" stroke-width="0.35"/>
<polyline points="538.86,271.28 539.26,257.96 539.66,272.28" fill="none" stroke="#555555" stroke-width="0.35"/>
<polyline points="551.56,281.24 551.96,265.74 552.36,282.24" fill="none" stroke="#555555" stroke-width="0.35"/>
<polyline points="328.7,272.74 330.7,272.9 332.7,273.06 334.7,273.21 336.7,273.37 338.7,273.53 340.7,273.68 342.7,273.83 344.7,273.98 346.7,274.13 348.7,274.28 350.7,274.44 352.7,274.6 354.7,274.76 356.7,274.92 358.7,275.08 360.7,275.24 362.7,275.3 364.7,275.22 366.7,275.14 368.7,275.06 370.7,274.98 372.7,274.9 374.7,274.82 376.7,274.63 378.7,274.43 380.7,274.23 382.7,274.03 384.7,273.83 386.7,273.63 388.7,273.39 390.7,273.11 392.7,272.83 394.7,272.55 396.7,272.27 398.7,271.99 400.7,271.71 402.7,272.15 404.7,271.19 406.7,271.28 408.7,271.37 410.7,271.46 412.7,271.55 414.7,271.65 416.7,271.7 418.7,271.7 420.7,271.7 422.7,271.7 424.7,271.7 426.7,271.7 428.7,271.7 430.7,271.7 432.7,271.7 434.7,271.7 436.7,271.7 438.7,271.7 440.7,271.7 442.7,271.67 444.7,271.59 446.7,271.51 448.7,271.43 450.7,271.35 452.7,271.27 454.7,271.19 456.7,271.19 458.7,271.19 460.7,271.19 462.7,271.19 464.7,271.19 466.7,271.33 468.7,271.53 470.7,271.73 472.7,271.93 474.7,272.13 476.7,272.14 478.7,272 480.7,271.86 482.7,271.72 484.7,272.22 486.7,272.22 488.7,272.22 490.7,272.22 492.7,272.22 494.7,272.22 496.7,272.27 498.7,272.39 500.7,272.51 502.7,272.63 504.7,272.75 506.7,272.87 508.7,272.99 510.7,273.07 512.7,273.15 514.7,273.23 516.7,273.31 518.7,273.39 520.7,273.47 522.7,273.57 524.7,273.69 526.7,273.81 528.7,273.93 530.7,274.05 532.7,274.17 534.7,274.29 536.7,274.44 538.7,274.6 540.7,274.76 542.7,274.92 544.7,275.08 546.7,275.24 548.7,275.38 550.7,275.5 552.7,275.61 554.7,275.72 556.7,275.84 558.7,275.95 560.7,276.06 561.56,276.11" fill="none" stroke="#4cae4c" stroke-width="1.3"/>
<path d="M328.7,286.48 C328.92,286.27 329.57,285.31 330,285.19 C330.43,285.06 330.86,285.7 331.3,285.7 C331.73,285.7 332.16,285.06 332.59,285.19 C333.02,285.31 333.46,286.7 333.89,286.48 C334.32,286.27 334.75,285.4 335.19,283.89 C335.62,282.38 336.05,280.22 336.48,277.41 C336.91,274.6 337.35,270.06 337.78,267.04 C338.21,264.01 338.73,260.99 339.07,259.26 C339.42,257.53 339.59,256.88 339.85,256.67 C340.11,256.45 340.33,256.45 340.63,257.96 C340.93,259.48 341.28,262.72 341.67,265.74 C342.06,268.77 342.53,273.09 342.96,276.11 C343.4,279.14 343.83,282.16 344.26,283.89 C344.69,285.62 345.12,285.83 345.56,286.48 C345.99,287.13 346.42,287.48 346.85,287.78 C347.28,288.08 347.72,288.38 348.15,288.3 C348.58,288.21 349.01,287.56 349.44,287.26 C349.88,286.96 350.31,286.74 350.74,286.48 C351.17,286.22 351.6,285.57 352.04,285.7 C352.47,285.83 352.9,286.91 353.33,287.26 C353.77,287.6 354.2,287.78 354.63,287.78 C355.06,287.78 355.49,287.48 355.93,287.26 C356.36,287.04 356.79,287.04 357.22,286.48 C357.65,285.92 358.09,284.97 358.52,283.89 C358.95,282.81 359.43,280.99 359.81,280 C360.2,279.01 360.51,277.93 360.85,277.93 C361.2,277.93 361.5,278.79 361.89,280 C362.28,281.21 362.75,283.89 363.19,285.19 C363.62,286.48 364.05,287.13 364.48,287.78 C364.91,288.43 365.35,288.94 365.78,289.07 C366.21,289.2 366.64,288.69 367.07,288.56 C367.51,288.43 367.94,288.21 368.37,288.3 C368.8,288.38 369.23,289.03 369.67,289.07 C370.1,289.12 370.53,288.77 370.96,288.56 C371.4,288.34 371.83,288.12 372.26,287.78 C372.69,287.43 373.12,286.91 373.56,286.48 C373.99,286.05 374.42,285.62 374.85,285.19 C375.28,284.75 375.72,283.8 376.15,283.89 C376.58,283.98 377.01,285.06 377.44,285.7 C377.88,286.35 378.31,287.3 378.74,287.78 C379.17,288.25 379.6,288.56 380.04,288.56 C380.47,288.56 380.9,287.99 381.33,287.78 C381.77,287.56 382.2,287.48 382.63,287.26 C383.06,287.04 383.49,286.4 383.93,286.48 C384.36,286.57 384.79,287.78 385.22,287.78 C385.65,287.78 386.09,286.91 386.52,286.48 C386.95,286.05 387.38,285.62 387.81,285.19 C388.25,284.75 388.68,283.89 389.11,283.89 C389.54,283.89 389.98,285.4 390.41,285.19 C390.84,284.97 391.27,283.46 391.7,282.59 C392.14,281.73 392.57,280.52 393,280 C393.43,279.48 393.86,279.27 394.3,279.48 C394.73,279.7 395.16,280.35 395.59,281.3 C396.02,282.25 396.46,284.1 396.89,285.19 C397.32,286.27 397.75,287.22 398.19,287.78 C398.62,288.34 399.05,288.56 399.48,288.56 C399.91,288.56 400.35,287.99 400.78,287.78 C401.21,287.56 401.64,287.69 402.07,287.26 C402.51,286.83 402.94,286.18 403.37,285.19 C403.8,284.19 404.3,282.25 404.67,281.3 C405.04,280.35 405.22,280.04 405.59,279.48 C405.96,278.92 406.46,278.49 406.89,277.93 C407.32,277.36 407.75,276.63 408.19,276.11 C408.62,275.59 409.05,274.69 409.48,274.81 C409.91,274.94 410.35,276.37 410.78,276.89 C411.21,277.41 411.64,278.49 412.07,277.93 C412.51,277.36 412.94,275.33 413.37,273.52 C413.8,271.7 414.23,268.77 414.67,267.04 C415.1,265.31 415.53,262.72 415.96,263.15 C416.4,263.58 416.83,266.82 417.26,269.63 C417.69,272.44 418.12,277.62 418.56,280 C418.99,282.38 419.42,283.02 419.85,283.89 C420.28,284.75 420.72,285.06 421.15,285.19 C421.58,285.31 422.01,284.88 422.44,284.67 C422.88,284.45 423.31,283.8 423.74,283.89 C424.17,283.98 424.6,284.75 425.04,285.19 C425.47,285.62 425.9,286.4 426.33,286.48 C426.77,286.57 427.2,285.57 427.63,285.7 C428.06,285.83 428.49,287.13 428.93,287.26 C429.36,287.39 429.79,286.74 430.22,286.48 C430.65,286.22 431.09,285.92 431.52,285.7 C431.95,285.49 432.38,285.49 432.81,285.19 C433.25,284.88 433.68,284.1 434.11,283.89 C434.54,283.67 434.98,284.1 435.41,283.89 C435.84,283.67 436.27,282.59 436.7,282.59 C437.14,282.59 437.57,284.1 438,283.89 C438.43,283.67 438.86,281.94 439.3,281.3 C439.73,280.65 440.16,280.13 440.59,280 C441.02,279.87 441.46,280.6 441.89,280.52 C442.32,280.43 442.75,280 443.19,279.48 C443.62,278.96 444.05,277.32 444.48,277.41 C444.91,277.49 445.35,279.65 445.78,280 C446.21,280.35 446.64,279.91 447.07,279.48 C447.51,279.05 447.94,277.54 448.37,277.41 C448.8,277.28 449.23,278.19 449.67,278.7 C450.1,279.22 450.53,279.96 450.96,280.52 C451.4,281.08 451.83,281.73 452.26,282.07 C452.69,282.42 453.12,282.72 453.56,282.59 C453.99,282.46 454.42,281.81 454.85,281.3 C455.28,280.78 455.72,280.13 456.15,279.48 C456.58,278.83 457.01,278.19 457.44,277.41 C457.88,276.63 458.31,275.68 458.74,274.81 C459.17,273.95 459.6,273.17 460.04,272.22 C460.47,271.27 460.9,269.98 461.33,269.11 C461.77,268.25 462.2,267.47 462.63,267.04 C463.06,266.6 463.49,266.09 463.93,266.52 C464.36,266.95 464.79,268.46 465.22,269.63 C465.65,270.8 466.09,272.44 466.52,273.52 C466.95,274.6 467.38,275.38 467.81,276.11 C468.25,276.85 468.68,277.06 469.11,277.93 C469.54,278.79 469.98,280.3 470.41,281.3 C470.84,282.29 471.27,283.15 471.7,283.89 C472.14,284.62 472.57,285.4 473,285.7 C473.43,286.01 473.86,285.88 474.3,285.7 C474.73,285.53 475.16,285.19 475.59,284.67 C476.02,284.15 476.46,283.15 476.89,282.59 C477.32,282.03 477.75,281.64 478.19,281.3 C478.62,280.95 479.05,280.82 479.48,280.52 C479.91,280.22 480.35,279.35 480.78,279.48 C481.21,279.61 481.64,280.78 482.07,281.3 C482.51,281.81 482.94,282.59 483.37,282.59 C483.8,282.59 484.3,281.94 484.67,281.3 C485.04,280.65 485.22,279.57 485.59,278.7 C485.96,277.84 486.46,277.19 486.89,276.11 C487.32,275.03 487.75,273.3 488.19,272.22 C488.62,271.14 489.05,269.85 489.48,269.63 C489.91,269.41 490.35,270.28 490.78,270.93 C491.21,271.57 491.64,272.35 492.07,273.52 C492.51,274.69 492.94,276.76 493.37,277.93 C493.8,279.09 494.23,280.52 494.67,280.52 C495.1,280.52 495.53,279.31 495.96,277.93 C496.4,276.54 496.83,274.04 497.26,272.22 C497.69,270.41 498.12,268.33 498.56,267.04 C498.99,265.74 499.42,264.66 499.85,264.44 C500.28,264.23 500.72,265.4 501.15,265.74 C501.58,266.09 502.01,266.73 502.44,266.52 C502.88,266.3 503.31,265.22 503.74,264.44 C504.17,263.67 504.6,263.36 505.04,261.85 C505.47,260.34 505.9,257.1 506.33,255.37 C506.77,253.64 507.2,252.35 507.63,251.48 C508.06,250.62 508.49,249.1 508.93,250.19 C509.36,251.27 509.79,254.72 510.22,257.96 C510.65,261.2 511.09,266.3 511.52,269.63 C511.95,272.96 512.38,276.11 512.81,277.93 C513.25,279.74 513.68,280.39 514.11,280.52 C514.54,280.65 514.98,280.09 515.41,278.7 C515.84,277.32 516.27,274.81 516.7,272.22 C517.14,269.63 517.57,266.39 518,263.15 C518.43,259.91 518.86,255.8 519.3,252.78 C519.73,249.75 520.16,245 520.59,245 C521.02,245 521.46,248.89 521.89,252.78 C522.32,256.67 522.75,264.44 523.19,268.33 C523.62,272.22 524.05,274.38 524.48,276.11 C524.91,277.84 525.35,278.4 525.78,278.7 C526.21,279.01 526.64,278.23 527.07,277.93 C527.51,277.62 527.94,276.76 528.37,276.89 C528.8,277.02 529.23,278.53 529.67,278.7 C530.1,278.88 530.53,278.23 530.96,277.93 C531.4,277.62 531.83,277.19 532.26,276.89 C532.69,276.59 533.12,276.11 533.56,276.11 C533.99,276.11 534.42,277.32 534.85,276.89 C535.28,276.46 535.72,274.94 536.15,273.52 C536.58,272.09 537.01,269.5 537.44,268.33 C537.88,267.17 538.31,266.09 538.74,266.52 C539.17,266.95 539.6,269.33 540.04,270.93 C540.47,272.52 540.9,274.81 541.33,276.11 C541.77,277.41 542.2,278.4 542.63,278.7 C543.06,279.01 543.49,278.36 543.93,277.93 C544.36,277.49 544.79,276.63 545.22,276.11 C545.65,275.59 546.09,275.25 546.52,274.81 C546.95,274.38 547.38,273.6 547.81,273.52 C548.25,273.43 548.68,273.86 549.11,274.3 C549.54,274.73 549.98,275.51 550.41,276.11 C550.84,276.72 551.27,277.36 551.7,277.93 C552.14,278.49 552.57,279.14 553,279.48 C553.43,279.83 553.86,279.7 554.3,280 C554.73,280.3 555.16,280.78 555.59,281.3 C556.02,281.81 556.46,282.55 556.89,283.11 C557.32,283.67 557.75,284.32 558.19,284.67 C558.62,285.01 559.05,285.01 559.48,285.19 C559.91,285.36 560.43,285.36 560.78,285.7 C561.12,286.05 561.43,287 561.56,287.26" fill="none" stroke="#0000f8" stroke-width="1.3" stroke-linejoin="round"/>
<line x1="442.3" y1="289.8" x2="442.3" y2="214.5" stroke="#ff22ff" stroke-width="1.25" stroke-dasharray="1.3,1.2"/>
<rect x="317.95" y="210.6" width="255.65" height="83.1" fill="none" stroke="#a4a4a4" stroke-width="0.95"/>
<line x1="316.55" y1="289.8" x2="318.25" y2="289.8" stroke="#777" stroke-width="0.9"/>
<text x="315.15" y="291.55" text-anchor="end" font-size="4.7" letter-spacing="-0.15" class="t">0</text>
<line x1="316.55" y1="280.41" x2="318.25" y2="280.41" stroke="#777" stroke-width="0.9"/>
<text x="315.15" y="282.16" text-anchor="end" font-size="4.7" letter-spacing="-0.15" class="t">10</text>
<line x1="316.55" y1="271.02" x2="318.25" y2="271.02" stroke="#777" stroke-width="0.9"/>
<text x="315.15" y="272.77" text-anchor="end" font-size="4.7" letter-spacing="-0.15" class="t">20</text>
<line x1="316.55" y1="261.64" x2="318.25" y2="261.64" stroke="#777" stroke-width="0.9"/>
<text x="315.15" y="263.39" text-anchor="end" font-size="4.7" letter-spacing="-0.15" class="t">30</text>
<line x1="316.55" y1="252.25" x2="318.25" y2="252.25" stroke="#777" stroke-width="0.9"/>
<text x="315.15" y="254" text-anchor="end" font-size="4.7" letter-spacing="-0.15" class="t">40</text>
<line x1="316.55" y1="242.86" x2="318.25" y2="242.86" stroke="#777" stroke-width="0.9"/>
<text x="315.15" y="244.61" text-anchor="end" font-size="4.7" letter-spacing="-0.15" class="t">50</text>
<line x1="316.55" y1="233.47" x2="318.25" y2="233.47" stroke="#777" stroke-width="0.9"/>
<text x="315.15" y="235.22" text-anchor="end" font-size="4.7" letter-spacing="-0.15" class="t">60</text>
<line x1="316.55" y1="224.09" x2="318.25" y2="224.09" stroke="#777" stroke-width="0.9"/>
<text x="315.15" y="225.84" text-anchor="end" font-size="4.7" letter-spacing="-0.15" class="t">70</text>
<line x1="316.55" y1="214.7" x2="318.25" y2="214.7" stroke="#777" stroke-width="0.9"/>
<text x="315.15" y="216.45" text-anchor="end" font-size="4.7" letter-spacing="-0.15" class="t">80</text>
<line x1="329" y1="293.4" x2="329" y2="295" stroke="#8a8a8a" stroke-width="0.9"/>
<line x1="346.93" y1="293.4" x2="346.93" y2="295" stroke="#8a8a8a" stroke-width="0.9"/>
<line x1="364.86" y1="293.4" x2="364.86" y2="295" stroke="#8a8a8a" stroke-width="0.9"/>
<line x1="382.79" y1="293.4" x2="382.79" y2="295" stroke="#8a8a8a" stroke-width="0.9"/>
<line x1="400.72" y1="293.4" x2="400.72" y2="295" stroke="#8a8a8a" stroke-width="0.9"/>
<line x1="418.65" y1="293.4" x2="418.65" y2="295" stroke="#8a8a8a" stroke-width="0.9"/>
<line x1="436.58" y1="293.4" x2="436.58" y2="295" stroke="#8a8a8a" stroke-width="0.9"/>
<line x1="454.51" y1="293.4" x2="454.51" y2="295" stroke="#8a8a8a" stroke-width="0.9"/>
<line x1="472.44" y1="293.4" x2="472.44" y2="295" stroke="#8a8a8a" stroke-width="0.9"/>
<line x1="490.37" y1="293.4" x2="490.37" y2="295" stroke="#8a8a8a" stroke-width="0.9"/>
<line x1="508.3" y1="293.4" x2="508.3" y2="295" stroke="#8a8a8a" stroke-width="0.9"/>
<line x1="526.23" y1="293.4" x2="526.23" y2="295" stroke="#8a8a8a" stroke-width="0.9"/>
<line x1="544.16" y1="293.4" x2="544.16" y2="295" stroke="#8a8a8a" stroke-width="0.9"/>
<text x="445.77" y="208.8" text-anchor="middle" font-size="5.3" class="b" textLength="27.7" lengthAdjust="spacingAndGlyphs">Eastbourne</text>
<text x="320.95" y="223.1" font-size="11.6" stroke="#000" stroke-width="0.05">(f)</text>
<text transform="translate(304.8,251.75) rotate(-90)" text-anchor="middle" font-size="5.6" fill="#1a1a1a">NO2 (&#956;gm<tspan dy="-2" font-size="3.9">-3</tspan><tspan dy="2">)</tspan></text>
<text transform="translate(29.2,307.5) rotate(-45)" text-anchor="middle" font-size="4.9" dy="1.7" class="d">01/02/2020</text>
<text transform="translate(47.13,307.5) rotate(-45)" text-anchor="middle" font-size="4.9" dy="1.7" class="d">08/02/2020</text>
<text transform="translate(65.06,307.5) rotate(-45)" text-anchor="middle" font-size="4.9" dy="1.7" class="d">15/02/2020</text>
<text transform="translate(82.99,307.5) rotate(-45)" text-anchor="middle" font-size="4.9" dy="1.7" class="d">22/02/2020</text>
<text transform="translate(100.92,307.5) rotate(-45)" text-anchor="middle" font-size="4.9" dy="1.7" class="d">29/02/2020</text>
<text transform="translate(118.85,307.5) rotate(-45)" text-anchor="middle" font-size="4.9" dy="1.7" class="d">07/03/2020</text>
<text transform="translate(136.78,307.5) rotate(-45)" text-anchor="middle" font-size="4.9" dy="1.7" class="d">14/03/2020</text>
<text transform="translate(154.71,307.5) rotate(-45)" text-anchor="middle" font-size="4.9" dy="1.7" class="d">21/03/2020</text>
<text transform="translate(172.64,307.5) rotate(-45)" text-anchor="middle" font-size="4.9" dy="1.7" class="d">28/03/2020</text>
<text transform="translate(190.57,307.5) rotate(-45)" text-anchor="middle" font-size="4.9" dy="1.7" class="d">04/04/2020</text>
<text transform="translate(208.5,307.5) rotate(-45)" text-anchor="middle" font-size="4.9" dy="1.7" class="d">11/04/2020</text>
<text transform="translate(226.43,307.5) rotate(-45)" text-anchor="middle" font-size="4.9" dy="1.7" class="d">18/04/2020</text>
<text transform="translate(244.36,307.5) rotate(-45)" text-anchor="middle" font-size="4.9" dy="1.7" class="d">25/04/2020</text>
<text x="146.5" y="322.3" text-anchor="middle" font-size="4.6" class="d">Date (DD/MM/YYYY)</text>
<text transform="translate(328.3,306.3) rotate(-45)" text-anchor="middle" font-size="4.9" dy="1.7" class="d">01/02/2020</text>
<text transform="translate(346.23,306.3) rotate(-45)" text-anchor="middle" font-size="4.9" dy="1.7" class="d">08/02/2020</text>
<text transform="translate(364.16,306.3) rotate(-45)" text-anchor="middle" font-size="4.9" dy="1.7" class="d">15/02/2020</text>
<text transform="translate(382.09,306.3) rotate(-45)" text-anchor="middle" font-size="4.9" dy="1.7" class="d">22/02/2020</text>
<text transform="translate(400.02,306.3) rotate(-45)" text-anchor="middle" font-size="4.9" dy="1.7" class="d">29/02/2020</text>
<text transform="translate(417.95,306.3) rotate(-45)" text-anchor="middle" font-size="4.9" dy="1.7" class="d">07/03/2020</text>
<text transform="translate(435.88,306.3) rotate(-45)" text-anchor="middle" font-size="4.9" dy="1.7" class="d">14/03/2020</text>
<text transform="translate(453.81,306.3) rotate(-45)" text-anchor="middle" font-size="4.9" dy="1.7" class="d">21/03/2020</text>
<text transform="translate(471.74,306.3) rotate(-45)" text-anchor="middle" font-size="4.9" dy="1.7" class="d">28/03/2020</text>
<text transform="translate(489.67,306.3) rotate(-45)" text-anchor="middle" font-size="4.9" dy="1.7" class="d">04/04/2020</text>
<text transform="translate(507.6,306.3) rotate(-45)" text-anchor="middle" font-size="4.9" dy="1.7" class="d">11/04/2020</text>
<text transform="translate(525.53,306.3) rotate(-45)" text-anchor="middle" font-size="4.9" dy="1.7" class="d">18/04/2020</text>
<text transform="translate(543.46,306.3) rotate(-45)" text-anchor="middle" font-size="4.9" dy="1.7" class="d">25/04/2020</text>
<text x="445.77" y="322.3" text-anchor="middle" font-size="4.6" class="d">Date (DD/MM/YYYY)</text>
<rect x="502.6" y="9.9" width="69.0" height="26.2" fill="#ffffff" fill-opacity="0.85" stroke="#dddddd" stroke-width="0.6" rx="0.8"/>
<line x1="504.0" y1="12.9" x2="513.6" y2="12.9" stroke="#a8a8a8" stroke-width="1.1"/>
<text x="516.6" y="14.6" font-size="4.8">Observed</text>
<line x1="504.0" y1="19.3" x2="513.6" y2="19.3" stroke="#0000f8" stroke-width="1.3"/>
<text x="516.6" y="21" font-size="4.8">Observed: 24hr mov ave</text>
<line x1="504.0" y1="25.7" x2="513.6" y2="25.7" stroke="#4cae4c" stroke-width="1.6"/>
<text x="516.6" y="27.4" font-size="4.8">5yr average</text>
<line x1="504.0" y1="32.1" x2="513.6" y2="32.1" stroke="#ff22ff" stroke-width="1.4" stroke-dasharray="1.2,1.2"/>
<text x="516.6" y="33.8" font-size="4.8">Social Distancing</text>
</g>
</svg></div>
</body></html>
